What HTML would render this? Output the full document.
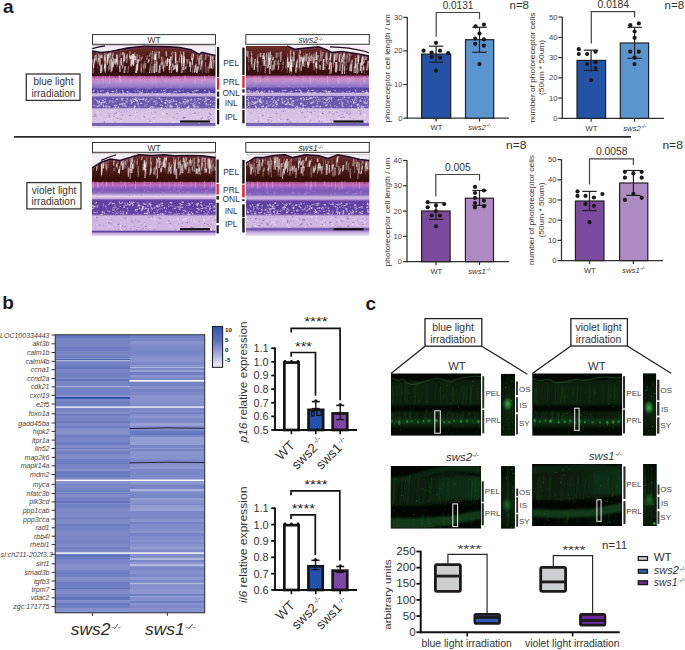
<!DOCTYPE html>
<html><head><meta charset="utf-8"><style>
html,body{margin:0;padding:0;background:#fff;}
body{width:685px;height:650px;overflow:hidden;}
svg{display:block;}
svg text{font-family:"Liberation Sans", sans-serif;}
</style></head><body>
<svg width="685" height="650" viewBox="0 0 685 650">
<defs><linearGradient id="h1" x1="0" y1="0" x2="0" y2="1"><stop offset="0.0000" stop-color="#6a2e2a"/><stop offset="0.1273" stop-color="#56201c"/><stop offset="0.2485" stop-color="#461612"/><stop offset="0.3212" stop-color="#360e0a"/><stop offset="0.3636" stop-color="#3a0e10"/><stop offset="0.3758" stop-color="#a85090"/><stop offset="0.4061" stop-color="#cc88c4"/><stop offset="0.4424" stop-color="#b890d0"/><stop offset="0.4788" stop-color="#9c80c8"/><stop offset="0.5091" stop-color="#8870c0"/><stop offset="0.5333" stop-color="#5a46a4"/><stop offset="0.5697" stop-color="#5a46a4"/><stop offset="0.5879" stop-color="#d0b4dc"/><stop offset="0.6121" stop-color="#c0acdc"/><stop offset="0.6242" stop-color="#6a58ac"/><stop offset="0.7515" stop-color="#6c5aae"/><stop offset="0.7697" stop-color="#d4bee2"/><stop offset="0.9333" stop-color="#d8c4e4"/><stop offset="0.9455" stop-color="#7060ac"/><stop offset="0.9697" stop-color="#7a68b0"/><stop offset="0.9818" stop-color="#e0d6ec"/><stop offset="1.0000" stop-color="#ece6f2"/></linearGradient><linearGradient id="h2" x1="0" y1="0" x2="0" y2="1"><stop offset="0.0000" stop-color="#6a2e2a"/><stop offset="0.1220" stop-color="#56201c"/><stop offset="0.2439" stop-color="#461612"/><stop offset="0.3171" stop-color="#360e0a"/><stop offset="0.3537" stop-color="#3a0e10"/><stop offset="0.3659" stop-color="#a85090"/><stop offset="0.3963" stop-color="#cc88c4"/><stop offset="0.4329" stop-color="#b890d0"/><stop offset="0.4695" stop-color="#9c80c8"/><stop offset="0.5000" stop-color="#8870c0"/><stop offset="0.5183" stop-color="#5a46a4"/><stop offset="0.5610" stop-color="#5a46a4"/><stop offset="0.5793" stop-color="#d0b4dc"/><stop offset="0.6037" stop-color="#c0acdc"/><stop offset="0.6159" stop-color="#6a58ac"/><stop offset="0.7500" stop-color="#6c5aae"/><stop offset="0.7683" stop-color="#d4bee2"/><stop offset="0.9329" stop-color="#d8c4e4"/><stop offset="0.9451" stop-color="#7060ac"/><stop offset="0.9695" stop-color="#7a68b0"/><stop offset="0.9817" stop-color="#e0d6ec"/><stop offset="1.0000" stop-color="#ece6f2"/></linearGradient><linearGradient id="h3" x1="0" y1="0" x2="0" y2="1"><stop offset="0.0000" stop-color="#6a2e2a"/><stop offset="0.1371" stop-color="#56201c"/><stop offset="0.2464" stop-color="#461612"/><stop offset="0.3070" stop-color="#360e0a"/><stop offset="0.3374" stop-color="#3a0e10"/><stop offset="0.3495" stop-color="#a85090"/><stop offset="0.3799" stop-color="#c070c0"/><stop offset="0.4102" stop-color="#9060c0"/><stop offset="0.4405" stop-color="#7a58b8"/><stop offset="0.4769" stop-color="#8a70c0"/><stop offset="0.5012" stop-color="#c8b0dc"/><stop offset="0.5194" stop-color="#e4d0ec"/><stop offset="0.5437" stop-color="#c8a8dc"/><stop offset="0.5619" stop-color="#6a4aa8"/><stop offset="0.5801" stop-color="#5e40a0"/><stop offset="0.7318" stop-color="#6242a2"/><stop offset="0.7561" stop-color="#d0b6e0"/><stop offset="0.9260" stop-color="#d0b6e0"/><stop offset="0.9442" stop-color="#5e44a0"/><stop offset="0.9684" stop-color="#c4a8dc"/><stop offset="1.0000" stop-color="#ece6f2"/></linearGradient><linearGradient id="h4" x1="0" y1="0" x2="0" y2="1"><stop offset="0.0000" stop-color="#6a2e2a"/><stop offset="0.1320" stop-color="#56201c"/><stop offset="0.2421" stop-color="#461612"/><stop offset="0.3032" stop-color="#360e0a"/><stop offset="0.3337" stop-color="#3a0e10"/><stop offset="0.3460" stop-color="#a85090"/><stop offset="0.3765" stop-color="#c070c0"/><stop offset="0.4132" stop-color="#9060c0"/><stop offset="0.4499" stop-color="#7a58b8"/><stop offset="0.4988" stop-color="#8a70c0"/><stop offset="0.5232" stop-color="#d0b8e0"/><stop offset="0.5477" stop-color="#c8a8dc"/><stop offset="0.5721" stop-color="#6a4aa8"/><stop offset="0.5905" stop-color="#5e40a0"/><stop offset="0.7311" stop-color="#6242a2"/><stop offset="0.7555" stop-color="#d0b6e0"/><stop offset="0.8900" stop-color="#d0b6e0"/><stop offset="0.9144" stop-color="#5e44a0"/><stop offset="0.9511" stop-color="#c4a8dc"/><stop offset="1.0000" stop-color="#ece6f2"/></linearGradient><linearGradient id="cbar" x1="0" y1="0" x2="0" y2="1"><stop offset="0" stop-color="#2c54ae"/><stop offset="0.35" stop-color="#5b72c0"/><stop offset="0.7" stop-color="#a8b2de"/><stop offset="1" stop-color="#f6f6fc"/></linearGradient><filter id="gb1" x="-10%" y="-10%" width="120%" height="120%"><feGaussianBlur stdDeviation="1.2"/></filter><filter id="gb2" x="-50%" y="-50%" width="200%" height="200%"><feGaussianBlur stdDeviation="0.8"/></filter><linearGradient id="brg" x1="0" y1="0" x2="1" y2="0"><stop offset="0" stop-color="#143a1c" stop-opacity="0"/><stop offset="0.4" stop-color="#143a1c" stop-opacity="0.5"/><stop offset="1" stop-color="#163e1e" stop-opacity="0.6"/></linearGradient><radialGradient id="blob"><stop offset="0" stop-color="#4ab050" stop-opacity="0.95"/><stop offset="0.5" stop-color="#2a8a34" stop-opacity="0.7"/><stop offset="1" stop-color="#1a5a20" stop-opacity="0"/></radialGradient><radialGradient id="blobd"><stop offset="0" stop-color="#2a7a34" stop-opacity="0.8"/><stop offset="0.6" stop-color="#1a5a24" stop-opacity="0.5"/><stop offset="1" stop-color="#0e3a14" stop-opacity="0"/></radialGradient><radialGradient id="dotg"><stop offset="0" stop-color="#50c058" stop-opacity="1"/><stop offset="0.6" stop-color="#2a8a30" stop-opacity="0.7"/><stop offset="1" stop-color="#1a5a20" stop-opacity="0"/></radialGradient><clipPath id="clp1"><rect x="391.0" y="373.5" width="90.00" height="62.10"/></clipPath><clipPath id="clp2"><rect x="532.3" y="373.5" width="89.70" height="62.10"/></clipPath><clipPath id="clp3"><rect x="390.8" y="466.0" width="90.20" height="62.50"/></clipPath><clipPath id="clp4"><rect x="532.1" y="464.0" width="89.90" height="62.00"/></clipPath><clipPath id="clp5"><rect x="501.0" y="373.9" width="14.00" height="61.70"/></clipPath><linearGradient id="cg41" x1="0" y1="0" x2="0" y2="1"><stop offset="0" stop-color="#020602"/><stop offset="0.3" stop-color="#0a1a0c"/><stop offset="0.6" stop-color="#0c200e"/><stop offset="1" stop-color="#081408"/></linearGradient><clipPath id="clp6"><rect x="643.0" y="373.5" width="13.10" height="62.10"/></clipPath><linearGradient id="cg42" x1="0" y1="0" x2="0" y2="1"><stop offset="0" stop-color="#020602"/><stop offset="0.3" stop-color="#0a1a0c"/><stop offset="0.6" stop-color="#0c200e"/><stop offset="1" stop-color="#081408"/></linearGradient><clipPath id="clp7"><rect x="501.1" y="466.2" width="13.70" height="62.30"/></clipPath><linearGradient id="cg43" x1="0" y1="0" x2="0" y2="1"><stop offset="0" stop-color="#020602"/><stop offset="0.3" stop-color="#0a1a0c"/><stop offset="0.6" stop-color="#0c200e"/><stop offset="1" stop-color="#081408"/></linearGradient><clipPath id="clp8"><rect x="643.2" y="464.0" width="13.40" height="62.00"/></clipPath><linearGradient id="cg44" x1="0" y1="0" x2="0" y2="1"><stop offset="0" stop-color="#020602"/><stop offset="0.3" stop-color="#0a1a0c"/><stop offset="0.6" stop-color="#0c200e"/><stop offset="1" stop-color="#081408"/></linearGradient></defs>
<rect width="685" height="650" fill="#fff"/>
<text x="3.00" y="13.40" font-size="19" fill="#1a1a1a" font-weight="bold" >a</text>
<text x="2.20" y="309.20" font-size="19" fill="#1a1a1a" font-weight="bold" >b</text>
<text x="365.40" y="309.50" font-size="19" fill="#1a1a1a" font-weight="bold" >c</text>
<line x1="14.00" y1="136.80" x2="631.00" y2="136.80" stroke="#2a2a2a" stroke-width="1.8" />
<rect x="92.00" y="45.50" width="123.50" height="82.50" fill="url(#h1)" />
<path d="M131.6 53.3L132.6 53.3L132.3 61.5L131.3 61.5zM162.6 57.1L163.5 57.1L163.7 68.0L162.8 68.0zM170.1 56.8L170.9 56.8L169.8 64.2L169.0 64.2zM117.5 53.5L118.2 53.5L117.0 59.2L116.3 59.2zM161.8 61.9L162.9 61.9L162.8 65.6L161.7 65.6zM153.2 53.8L153.7 53.8L152.9 59.5L152.4 59.5zM175.5 61.7L176.5 61.7L175.5 66.6L174.5 66.6zM208.7 64.2L210.2 64.2L209.0 73.0L207.5 73.0zM201.5 58.3L203.3 58.3L202.8 66.0L201.0 66.0zM173.6 65.3L174.7 65.3L174.0 70.2L173.0 70.2zM131.1 56.6L132.6 56.6L131.8 65.9L130.2 65.9zM200.0 66.3L201.2 66.3L200.2 71.4L199.0 71.4zM207.3 66.1L208.4 66.1L208.7 73.0L207.6 73.0zM97.0 59.7L97.7 59.7L97.8 68.8L97.2 68.8zM154.4 51.6L156.0 51.6L156.0 59.7L154.4 59.7zM163.7 61.3L164.4 61.3L163.2 66.8L162.5 66.8zM119.6 52.6L121.2 52.6L120.5 57.5L119.0 57.5zM141.1 57.1L141.6 57.1L141.8 67.2L141.3 67.2z" fill="#f4eef0" opacity="0.3"/>
<path d="M99.1 58.9L99.7 58.9L98.6 62.2L98.0 62.2zM171.1 66.4L172.6 66.4L172.0 73.0L170.6 73.0zM206.6 66.3L207.4 66.3L206.6 73.0L205.8 73.0zM193.0 54.3L194.4 54.3L193.5 59.3L192.2 59.3zM111.7 57.7L112.7 57.7L111.8 64.8L110.9 64.8zM180.3 51.3L181.3 51.3L180.1 58.7L179.1 58.7zM100.1 64.4L101.9 64.4L101.6 71.0L99.8 71.0zM98.2 54.1L99.1 54.1L99.1 59.6L98.2 59.6zM129.9 56.5L131.1 56.5L130.6 59.5L129.4 59.5zM110.0 54.9L110.5 54.9L110.3 63.9L109.7 63.9zM92.4 58.6L93.4 58.6L92.4 65.2L91.5 65.2zM205.3 62.1L206.3 62.1L205.7 72.3L204.7 72.3zM214.2 60.1L214.7 60.1L214.0 66.0L213.4 66.0zM205.3 53.0L206.9 53.0L206.2 59.8L204.6 59.8zM211.4 55.0L212.5 55.0L212.1 63.3L211.1 63.3zM173.4 65.7L175.2 65.7L174.4 69.9L172.5 69.9zM109.4 51.8L111.1 51.8L111.3 55.3L109.6 55.3zM181.6 66.5L183.4 66.5L182.5 73.0L180.7 73.0zM183.3 51.5L184.2 51.5L183.6 59.8L182.7 59.8zM112.7 51.0L113.4 51.0L113.7 56.3L113.0 56.3zM178.8 57.9L180.2 57.9L180.0 62.8L178.6 62.8zM110.8 64.7L112.6 64.7L112.1 72.3L110.2 72.3zM164.9 60.6L165.7 60.6L164.7 65.4L163.9 65.4zM112.0 61.8L113.9 61.8L113.1 68.1L111.3 68.1zM130.2 59.8L132.1 59.8L132.3 65.6L130.4 65.6zM137.4 58.8L139.1 58.8L138.8 63.0L137.0 63.0zM165.3 59.5L166.6 59.5L166.1 67.5L164.8 67.5zM144.1 61.2L145.4 61.2L144.3 67.8L142.9 67.8zM149.9 52.7L151.0 52.7L149.9 56.7L148.8 56.7zM154.6 51.8L155.2 51.8L155.6 58.9L154.9 58.9zM104.8 66.4L105.7 66.4L105.7 73.0L104.9 73.0zM171.9 51.3L172.9 51.3L171.8 54.4L170.8 54.4zM160.8 56.4L162.3 56.4L162.6 64.6L161.1 64.6zM183.3 56.1L185.0 56.1L184.2 66.1L182.4 66.1zM200.3 54.7L201.9 54.7L201.9 59.2L200.2 59.2zM110.9 53.4L111.6 53.4L111.3 58.4L110.5 58.4z" fill="#f4eef0" opacity="0.5"/>
<path d="M143.9 63.8L145.7 63.8L145.5 67.8L143.7 67.8zM181.2 55.5L182.8 55.5L182.2 66.3L180.7 66.3zM94.8 58.2L96.3 58.2L95.2 62.5L93.7 62.5zM135.9 64.7L136.7 64.7L135.8 73.0L135.0 73.0zM120.5 58.5L121.6 58.5L120.4 66.2L119.3 66.2zM122.9 56.4L124.7 56.4L124.9 62.3L123.0 62.3zM149.0 58.5L149.9 58.5L149.2 62.2L148.3 62.2zM156.0 51.3L157.6 51.3L156.4 57.8L154.8 57.8zM160.4 65.6L161.5 65.6L160.5 73.0L159.4 73.0zM110.9 62.1L112.7 62.1L113.0 70.4L111.1 70.4zM143.6 65.1L145.4 65.1L144.5 73.0L142.7 73.0zM124.8 53.0L125.5 53.0L124.5 60.2L123.7 60.2zM141.5 56.4L143.0 56.4L141.9 59.8L140.4 59.8zM116.6 58.8L117.6 58.8L116.6 61.9L115.5 61.9zM97.1 51.3L98.3 51.3L98.1 56.8L96.8 56.8zM172.6 52.0L173.5 52.0L172.4 60.9L171.6 60.9zM155.2 58.2L156.0 58.2L156.2 64.9L155.4 64.9zM109.3 59.1L110.5 59.1L110.7 69.7L109.4 69.7zM202.8 66.4L203.5 66.4L202.6 73.0L201.9 73.0zM133.8 52.4L135.6 52.4L135.3 57.3L133.5 57.3zM99.6 55.3L101.0 55.3L100.6 66.0L99.2 66.0zM197.5 54.3L198.7 54.3L198.1 59.5L197.0 59.5zM193.0 64.3L193.7 64.3L192.7 73.0L191.9 73.0zM170.9 55.7L172.4 55.7L172.2 59.7L170.8 59.7zM200.1 58.4L201.6 58.4L201.9 63.2L200.4 63.2zM210.6 55.8L212.2 55.8L211.3 65.4L209.8 65.4zM128.1 65.8L129.2 65.8L128.3 72.7L127.2 72.7zM96.3 52.0L98.0 52.0L98.0 62.3L96.3 62.3zM183.5 64.1L184.4 64.1L184.5 72.4L183.6 72.4zM161.3 56.8L162.2 56.8L161.4 65.7L160.5 65.7zM123.2 60.3L124.1 60.3L123.0 68.5L122.0 68.5zM175.0 53.9L176.2 53.9L176.3 59.4L175.0 59.4zM136.5 54.1L138.3 54.1L137.1 62.9L135.3 62.9zM202.6 60.6L203.4 60.6L203.5 70.2L202.6 70.2zM141.5 64.1L142.5 64.1L141.7 73.0L140.6 73.0zM155.3 56.9L157.1 56.9L157.1 60.9L155.3 60.9zM152.2 65.8L154.0 65.8L154.0 73.0L152.2 73.0zM100.0 56.4L100.9 56.4L101.1 65.5L100.2 65.5zM153.9 55.9L155.7 55.9L154.8 59.2L152.9 59.2zM182.9 51.7L184.8 51.7L184.6 61.3L182.8 61.3zM119.4 60.0L120.6 60.0L120.4 67.8L119.2 67.8zM108.5 65.5L109.9 65.5L108.8 70.5L107.4 70.5zM198.6 63.1L200.0 63.1L198.8 69.3L197.4 69.3zM177.0 64.1L178.1 64.1L177.8 72.8L176.7 72.8zM199.6 51.2L201.5 51.2L201.4 56.3L199.6 56.3zM105.0 65.4L105.6 65.4L104.5 71.2L103.9 71.2zM203.8 65.6L204.4 65.6L203.4 69.5L202.8 69.5zM104.2 52.5L105.3 52.5L104.6 61.6L103.5 61.6zM197.5 52.4L198.2 52.4L197.0 62.0L196.3 62.0zM116.0 60.9L116.5 60.9L116.0 64.7L115.4 64.7zM162.2 62.6L163.9 62.6L163.9 69.0L162.2 69.0z" fill="#f4eef0" opacity="0.4"/>
<path d="M109.6 52.8L111.0 52.8L110.0 58.3L108.7 58.3zM110.6 58.6L111.9 58.6L111.9 61.9L110.6 61.9zM194.7 65.6L196.2 65.6L195.1 72.4L193.6 72.4zM137.2 59.8L138.5 59.8L138.1 70.4L136.8 70.4zM174.7 51.8L176.3 51.8L176.5 62.0L174.9 62.0zM123.9 56.7L125.5 56.7L125.2 61.0L123.6 61.0zM95.4 55.3L96.5 55.3L96.9 60.4L95.7 60.4zM171.9 63.4L173.5 63.4L173.7 67.1L172.1 67.1zM183.7 58.4L185.4 58.4L184.7 62.8L183.1 62.8zM107.5 53.3L109.2 53.3L108.2 63.6L106.6 63.6zM186.4 58.9L187.6 58.9L187.8 66.4L186.7 66.4zM166.9 58.8L168.2 58.8L167.7 65.9L166.4 65.9zM100.9 54.7L102.6 54.7L102.7 58.3L100.9 58.3zM104.8 55.1L105.5 55.1L104.7 58.4L104.0 58.4zM100.9 65.5L102.6 65.5L101.5 73.0L99.8 73.0zM212.4 53.3L214.1 53.3L213.0 62.1L211.3 62.1zM201.1 60.7L202.3 60.7L201.3 69.6L200.1 69.6zM151.8 51.1L153.1 51.1L152.7 60.4L151.4 60.4zM99.4 55.2L100.3 55.2L100.2 63.5L99.3 63.5zM130.7 64.0L131.3 64.0L131.5 67.0L130.8 67.0zM181.6 58.0L182.1 58.0L181.4 67.0L180.8 67.0zM155.9 61.6L157.5 61.6L157.3 72.1L155.7 72.1zM147.9 59.5L149.7 59.5L148.9 62.9L147.1 62.9zM129.6 51.3L130.5 51.3L129.9 58.3L129.1 58.3zM175.5 54.1L176.3 54.1L175.9 63.4L175.1 63.4zM201.7 51.5L202.3 51.5L202.3 57.8L201.7 57.8zM130.7 55.3L132.1 55.3L132.4 58.3L131.0 58.3zM190.2 62.4L191.1 62.4L190.9 72.0L189.9 72.0zM154.0 54.6L154.7 54.6L155.1 64.1L154.4 64.1zM197.9 58.0L198.6 58.0L198.9 63.0L198.2 63.0zM151.9 54.6L152.6 54.6L152.2 63.8L151.4 63.8zM196.8 66.4L198.7 66.4L197.8 73.0L195.9 73.0zM175.1 64.9L176.4 64.9L175.4 69.2L174.1 69.2zM213.1 59.9L213.9 59.9L213.4 65.8L212.6 65.8zM116.4 60.4L117.1 60.4L117.2 67.5L116.5 67.5zM188.4 59.1L189.2 59.1L189.6 64.2L188.8 64.2zM177.3 64.3L178.2 64.3L178.0 70.8L177.0 70.8zM176.7 60.8L178.0 60.8L176.9 69.4L175.6 69.4zM94.6 55.0L95.5 55.0L94.9 60.2L93.9 60.2zM145.4 63.0L146.2 63.0L145.8 68.8L145.0 68.8zM101.9 63.2L102.9 63.2L102.7 71.8L101.7 71.8zM120.6 58.1L122.0 58.1L122.0 65.4L120.6 65.4zM132.1 53.9L134.0 53.9L132.9 64.7L131.1 64.7zM104.4 57.0L105.5 57.0L105.5 67.8L104.4 67.8zM109.3 60.4L110.4 60.4L110.7 66.6L109.6 66.6z" fill="#f4eef0" opacity="0.7"/>
<path d="M175.2 57.6L176.1 57.6L175.7 63.1L174.7 63.1zM189.2 61.8L190.9 61.8L190.5 66.8L188.8 66.8zM199.1 55.9L200.2 55.9L199.9 64.4L198.8 64.4zM140.0 57.2L140.6 57.2L139.5 61.0L138.9 61.0zM192.1 62.5L192.6 62.5L192.0 67.3L191.5 67.3zM211.9 61.2L212.4 61.2L211.4 67.0L210.9 67.0zM113.1 58.3L114.3 58.3L113.6 67.1L112.4 67.1zM159.9 63.2L160.8 63.2L160.0 67.0L159.1 67.0zM118.9 65.8L120.5 65.8L120.9 71.9L119.2 71.9zM181.7 59.5L182.3 59.5L182.6 64.1L182.0 64.1zM126.5 54.8L127.6 54.8L126.7 60.1L125.5 60.1zM124.2 65.9L126.0 65.9L125.2 73.0L123.4 73.0zM104.8 64.0L106.3 64.0L106.1 71.4L104.6 71.4zM150.6 61.6L151.2 61.6L151.0 70.7L150.4 70.7zM211.6 65.5L213.5 65.5L213.6 68.7L211.7 68.7zM169.2 65.2L169.7 65.2L169.7 73.0L169.1 73.0zM183.7 57.4L184.7 57.4L184.1 63.7L183.1 63.7zM105.7 52.1L106.5 52.1L105.9 59.3L105.1 59.3zM165.5 51.2L166.9 51.2L167.2 56.6L165.8 56.6zM133.5 55.2L135.0 55.2L134.2 65.9L132.7 65.9zM207.4 51.4L209.2 51.4L209.5 56.2L207.7 56.2zM139.3 54.9L140.0 54.9L140.3 61.3L139.6 61.3zM122.2 52.0L124.1 52.0L123.4 55.3L121.6 55.3zM106.6 53.9L107.6 53.9L107.9 64.7L106.9 64.7zM99.7 52.6L100.4 52.6L100.2 58.7L99.6 58.7zM169.8 56.6L171.6 56.6L171.3 66.6L169.5 66.6zM122.4 65.0L123.2 65.0L122.7 68.4L121.8 68.4zM99.1 63.1L99.8 63.1L100.1 66.2L99.4 66.2zM92.8 64.1L93.9 64.1L93.9 73.0L92.8 73.0zM209.9 58.8L211.0 58.8L209.8 68.6L208.7 68.6zM185.2 66.2L186.8 66.2L186.4 69.2L184.8 69.2zM126.7 54.3L128.1 54.3L127.1 62.9L125.7 62.9zM117.2 55.1L118.9 55.1L118.4 65.3L116.6 65.3zM112.7 57.8L113.9 57.8L112.9 67.0L111.7 67.0zM140.8 63.3L141.9 63.3L141.8 71.8L140.6 71.8z" fill="#f4eef0" opacity="0.6"/>
<path d="M107.8 54.8L108.9 54.8L107.9 61.0L106.7 61.0zM159.2 64.7L160.3 64.7L159.5 73.0L158.4 73.0zM104.4 56.6L105.1 56.6L104.9 59.8L104.2 59.8zM193.4 53.5L194.1 53.5L193.7 56.7L193.0 56.7zM158.4 51.4L159.9 51.4L160.1 58.6L158.6 58.6zM132.3 54.5L133.9 54.5L134.1 63.9L132.5 63.9zM116.1 54.2L117.2 54.2L117.4 62.2L116.2 62.2zM210.8 57.1L211.6 57.1L211.5 63.3L210.8 63.3zM210.7 61.1L212.5 61.1L212.0 68.3L210.2 68.3zM123.7 57.5L124.9 57.5L124.2 61.5L123.1 61.5zM163.3 65.0L164.6 65.0L164.2 71.4L162.9 71.4zM150.5 65.6L151.3 65.6L151.6 73.0L150.8 73.0zM168.3 58.9L170.2 58.9L170.2 62.5L168.4 62.5zM192.2 57.7L193.4 57.7L192.8 64.7L191.6 64.7zM176.1 66.2L177.5 66.2L177.4 72.0L176.0 72.0zM123.3 53.5L124.7 53.5L124.9 57.2L123.5 57.2zM183.8 61.2L184.7 61.2L184.2 69.9L183.2 69.9zM153.7 63.9L155.4 63.9L155.2 73.0L153.4 73.0zM181.2 54.2L182.2 54.2L181.8 63.1L180.8 63.1zM147.0 55.2L148.3 55.2L147.4 59.8L146.1 59.8zM200.5 61.9L201.0 61.9L200.6 66.8L200.0 66.8zM104.4 63.9L105.3 63.9L104.5 69.2L103.6 69.2zM154.5 53.9L156.1 53.9L156.3 59.9L154.7 59.9zM112.5 53.5L113.3 53.5L112.9 58.2L112.1 58.2zM209.9 54.2L211.0 54.2L211.2 60.1L210.0 60.1zM98.0 58.3L99.0 58.3L98.1 64.3L97.1 64.3zM150.1 63.7L151.0 63.7L149.8 73.0L148.9 73.0zM143.8 63.7L144.6 63.7L144.1 70.0L143.4 70.0zM93.8 59.5L95.2 59.5L94.1 67.7L92.8 67.7zM105.3 58.6L106.0 58.6L105.1 68.0L104.4 68.0zM191.8 53.2L192.6 53.2L191.8 60.2L190.9 60.2zM167.3 57.7L168.2 57.7L167.2 64.8L166.4 64.8zM129.8 55.7L131.3 55.7L131.4 59.0L129.9 59.0zM169.1 61.7L170.8 61.7L170.4 70.1L168.7 70.1zM117.9 60.7L118.5 60.7L117.5 64.3L117.0 64.3zM136.4 63.7L138.2 63.7L137.1 73.0L135.4 73.0zM195.7 63.6L196.6 63.6L196.4 71.7L195.5 71.7zM114.6 58.7L116.4 58.7L115.6 64.4L113.8 64.4zM134.6 56.1L136.2 56.1L136.0 60.3L134.5 60.3z" fill="#f4eef0" opacity="0.8"/>
<path d="M186.7 63.6h1.0v12.7h-1.0zM211.2 51.7h0.7v9.9h-0.7zM177.4 57.3h0.7v7.4h-0.7zM117.9 53.3h1.1v12.0h-1.1zM159.1 53.3h0.8v12.5h-0.8zM187.6 63.0h1.1v13.0h-1.1zM152.9 60.7h0.6v12.8h-0.6zM143.2 68.3h1.0v5.7h-1.0zM143.7 61.0h0.8v12.4h-0.8zM163.7 62.4h0.6v12.1h-0.6zM115.2 67.6h1.0v10.4h-1.0zM203.3 62.0h1.0v10.6h-1.0zM185.3 52.8h0.6v6.6h-0.6zM203.8 62.8h1.1v8.3h-1.1zM211.9 59.6h0.7v8.7h-0.7zM118.0 53.7h0.6v5.1h-0.6zM98.1 64.9h1.1v11.4h-1.1z" fill="#3a1210" opacity="0.6"/>
<path d="M147.5 56.6h0.7v10.7h-0.7zM187.7 63.8h0.8v10.7h-0.8zM114.4 62.8h0.8v12.0h-0.8zM207.0 60.3h0.9v5.9h-0.9zM179.7 60.2h1.1v10.8h-1.1zM142.2 68.1h1.0v6.9h-1.0zM125.6 58.2h0.9v5.1h-0.9zM207.0 60.5h1.1v7.0h-1.1zM202.6 65.3h1.1v6.5h-1.1zM116.1 63.5h1.0v9.8h-1.0zM152.3 52.1h0.7v9.2h-0.7zM150.0 60.5h0.7v11.9h-0.7zM164.9 63.3h1.0v6.9h-1.0zM144.7 62.6h0.6v13.4h-0.6z" fill="#3a1210" opacity="0.5"/>
<path d="M147.7 62.2h1.0v8.7h-1.0zM205.6 66.4h1.1v5.5h-1.1zM141.4 60.1h0.9v7.4h-0.9zM96.8 53.1h0.9v12.3h-0.9zM146.6 51.3h1.0v8.5h-1.0zM102.3 62.3h0.9v11.4h-0.9z" fill="#3a1210" opacity="0.7"/>
<path d="M185.3 53.2h0.8v13.9h-0.8zM187.9 53.5h1.0v12.5h-1.0zM93.4 68.1h0.8v9.9h-0.8zM212.1 60.2h1.1v9.4h-1.1zM200.3 60.8h0.8v5.4h-0.8z" fill="#3a1210" opacity="0.3"/>
<path d="M149.4 61.1h1.2v7.0h-1.2zM170.1 65.7h0.9v12.3h-0.9zM124.7 57.8h0.9v7.3h-0.9zM92.3 64.0h0.7v7.5h-0.7zM150.6 58.7h1.0v10.7h-1.0zM109.5 55.2h0.8v12.0h-0.8zM200.0 61.0h0.7v7.4h-0.7zM149.2 61.1h1.1v11.0h-1.1zM95.5 62.0h1.2v11.1h-1.2zM179.8 62.3h1.1v8.0h-1.1zM172.1 65.3h0.8v8.0h-0.8zM160.7 55.6h0.9v7.7h-0.9zM106.9 68.4h1.1v5.8h-1.1zM94.2 63.9h1.0v7.2h-1.0z" fill="#3a1210" opacity="0.4"/>
<path d="M123.1 75.0h0.6v7.3h-0.6zM192.3 75.0h0.6v4.5h-0.6zM178.5 75.9h0.7v4.9h-0.7zM174.0 75.6h0.7v5.7h-0.7zM139.8 75.6h0.9v5.3h-0.9zM201.3 75.5h1.1v8.5h-1.1z" fill="#e0a0d8" opacity="0.5"/>
<path d="M176.1 75.4h0.8v5.3h-0.8zM149.6 75.8h0.7v8.8h-0.7zM105.0 75.4h0.7v7.7h-0.7z" fill="#e8c8ec" opacity="0.2"/>
<path d="M197.5 75.5h0.8v3.4h-0.8zM161.4 75.7h1.2v3.4h-1.2zM109.2 75.1h0.7v9.0h-0.7zM102.7 75.2h0.7v7.6h-0.7zM194.6 76.0h1.0v7.7h-1.0zM120.2 75.8h1.1v6.6h-1.1zM185.3 75.8h1.0v3.8h-1.0z" fill="#e8c8ec" opacity="0.4"/>
<path d="M190.2 75.5h0.9v7.7h-0.9zM161.5 75.7h0.9v7.7h-0.9z" fill="#d070b8" opacity="0.4"/>
<path d="M165.5 75.1h0.6v7.4h-0.6zM151.2 75.9h0.6v4.9h-0.6zM119.0 75.1h1.1v8.2h-1.1zM205.3 75.9h1.1v4.7h-1.1zM97.0 75.6h0.7v4.7h-0.7z" fill="#e0a0d8" opacity="0.4"/>
<path d="M129.8 75.6h0.8v8.3h-0.8zM183.9 75.1h1.0v4.4h-1.0zM115.6 75.8h0.8v7.2h-0.8zM126.4 75.4h0.7v3.6h-0.7zM138.3 76.0h0.8v3.2h-0.8zM154.9 75.4h1.2v7.7h-1.2zM211.9 75.9h0.9v6.8h-0.9zM152.4 76.0h0.9v8.5h-0.9z" fill="#e8c8ec" opacity="0.3"/>
<path d="M186.5 75.8h1.0v5.7h-1.0zM203.9 75.7h0.9v3.5h-0.9zM178.8 75.1h0.6v6.5h-0.6zM187.5 75.1h1.2v4.5h-1.2zM128.6 75.4h0.7v7.5h-0.7zM124.6 75.6h0.8v3.9h-0.8z" fill="#d070b8" opacity="0.3"/>
<path d="M143.8 75.4h1.1v7.9h-1.1zM123.8 75.2h0.9v4.9h-0.9zM209.3 75.1h0.6v5.3h-0.6zM133.6 75.2h1.0v5.9h-1.0zM109.2 76.0h0.9v8.0h-0.9z" fill="#e0a0d8" opacity="0.3"/>
<path d="M208.0 75.1h1.0v3.4h-1.0zM182.2 75.8h1.1v5.7h-1.1zM127.1 75.7h0.8v4.2h-0.8zM163.4 75.8h1.0v3.4h-1.0z" fill="#d070b8" opacity="0.5"/>
<path d="M119.2 76.0h0.8v4.5h-0.8zM204.2 75.5h0.8v5.1h-0.8z" fill="#e8c8ec" opacity="0.5"/>
<path d="M112.6 75.5h1.1v4.9h-1.1z" fill="#e0a0d8" opacity="0.2"/>
<path d="M114.8 93.2h1.2v0.9h-1.2zM106.8 92.7h1.6v1.4h-1.6zM139.6 91.4h1.6v1.2h-1.6zM207.3 93.0h1.1v1.0h-1.1zM161.8 92.4h1.0v1.3h-1.0zM135.2 93.4h1.0v1.2h-1.0zM100.2 93.4h1.2v0.8h-1.2zM163.8 91.7h1.8v1.2h-1.8zM188.0 93.4h1.4v1.1h-1.4zM139.1 90.9h1.6v1.4h-1.6zM175.9 91.3h1.2v1.2h-1.2zM208.1 92.5h1.3v0.9h-1.3zM151.6 91.5h1.4v1.5h-1.4zM93.5 93.0h1.1v1.3h-1.1zM191.9 90.9h1.4v1.5h-1.4zM160.8 90.0h1.3v1.1h-1.3zM117.5 93.8h1.3v1.0h-1.3zM139.1 92.5h1.4v1.0h-1.4zM96.9 90.2h1.0v1.0h-1.0z" fill="#e8dcf0" opacity="0.6"/>
<path d="M164.9 89.5h1.3v1.1h-1.3zM208.9 91.7h1.3v1.2h-1.3zM122.7 93.2h0.8v0.9h-0.8zM115.9 89.6h1.4v1.2h-1.4zM122.5 91.4h1.4v1.1h-1.4zM175.1 90.7h1.3v1.4h-1.3zM121.8 89.9h1.3v1.4h-1.3zM182.5 90.2h1.1v1.0h-1.1zM148.1 92.8h1.1v1.1h-1.1zM146.4 90.3h1.1v0.9h-1.1zM186.8 91.9h1.8v1.2h-1.8zM193.2 91.8h0.9v1.4h-0.9zM169.2 92.2h1.2v1.5h-1.2zM97.2 91.4h1.6v1.0h-1.6zM92.5 90.9h1.6v1.2h-1.6zM116.1 91.7h1.4v1.0h-1.4zM112.8 90.7h0.9v1.4h-0.9zM115.4 90.8h1.0v0.8h-1.0zM108.0 92.7h1.1v1.4h-1.1zM102.5 90.3h1.7v1.0h-1.7zM197.5 90.1h1.1v0.8h-1.1zM173.3 91.1h1.2v1.3h-1.2z" fill="#e8dcf0" opacity="0.7"/>
<path d="M179.1 91.2h1.6v0.8h-1.6zM145.4 93.9h1.6v1.4h-1.6zM210.8 93.0h1.7v1.2h-1.7zM167.5 93.3h1.6v1.2h-1.6zM183.1 92.9h1.3v1.3h-1.3zM204.1 90.1h1.7v0.8h-1.7zM163.2 89.9h1.7v1.0h-1.7zM134.7 91.5h1.2v0.8h-1.2zM97.4 93.7h1.7v1.0h-1.7zM194.3 90.1h1.2v1.4h-1.2zM137.1 90.6h1.4v0.9h-1.4zM107.0 91.8h1.3v1.0h-1.3zM100.1 90.9h1.0v0.9h-1.0zM126.6 91.3h1.7v1.3h-1.7z" fill="#e8dcf0" opacity="0.8"/>
<path d="M94.5 93.9h1.0v0.9h-1.0zM107.1 91.7h1.3v1.0h-1.3zM141.7 90.1h1.4v1.4h-1.4zM100.5 91.4h1.3v0.8h-1.3zM200.3 93.5h0.8v1.2h-0.8zM122.7 91.8h1.2v1.5h-1.2zM154.9 90.7h1.3v1.2h-1.3zM107.2 90.1h1.1v1.1h-1.1zM159.1 92.3h1.3v1.0h-1.3zM126.9 93.9h1.1v1.3h-1.1zM192.5 94.0h1.7v1.1h-1.7zM127.5 91.8h1.3v0.9h-1.3zM157.1 94.0h1.4v1.1h-1.4zM111.2 92.9h0.9v0.9h-0.9zM163.4 93.8h1.2v1.2h-1.2zM208.3 90.6h1.2v1.3h-1.2zM129.9 93.4h1.3v1.4h-1.3zM113.2 91.1h1.0v1.5h-1.0zM100.0 90.1h1.6v1.0h-1.6zM133.8 90.2h1.5v0.9h-1.5zM105.3 92.0h1.2v1.2h-1.2zM122.4 93.3h1.2v1.2h-1.2z" fill="#e8dcf0" opacity="0.5"/>
<path d="M178.1 90.0h1.7v1.3h-1.7zM119.1 91.8h1.2v1.2h-1.2zM156.0 93.2h1.4v1.4h-1.4zM106.1 93.6h1.5v1.3h-1.5z" fill="#e8dcf0" opacity="0.4"/>
<path d="M162.2 92.9h1.0v1.4h-1.0zM195.8 89.7h1.3v1.5h-1.3zM129.4 92.4h0.9v1.2h-0.9zM145.9 92.8h0.9v1.0h-0.9zM194.7 93.8h1.0v1.1h-1.0zM93.3 89.7h1.4v1.1h-1.4zM141.1 92.0h1.4v1.4h-1.4zM156.9 93.2h1.0v1.0h-1.0zM111.5 91.1h1.5v1.1h-1.5z" fill="#e8dcf0" opacity="0.9"/>
<path d="M96.8 100.8h1.4v0.9h-1.4zM105.6 105.8h1.0v1.4h-1.0zM102.6 104.8h1.2v1.3h-1.2zM107.6 105.5h0.8v1.3h-0.8zM170.2 106.4h1.7v0.9h-1.7zM193.7 105.3h1.1v0.9h-1.1zM131.2 101.4h1.4v1.1h-1.4zM121.3 97.9h1.4v1.2h-1.4zM145.8 99.5h1.5v0.8h-1.5zM101.0 102.1h1.7v1.2h-1.7zM178.7 102.0h1.7v1.2h-1.7zM161.0 107.1h1.7v0.9h-1.7zM112.7 98.2h1.1v1.0h-1.1zM165.9 106.6h1.4v0.9h-1.4zM210.0 103.8h0.9v1.4h-0.9zM133.8 98.9h1.0v1.2h-1.0zM170.4 107.2h1.0v1.0h-1.0zM161.1 107.9h0.9v1.2h-0.9zM132.3 98.5h1.0v0.9h-1.0zM160.0 104.4h1.4v1.0h-1.4zM186.8 101.3h1.8v1.0h-1.8zM197.7 106.6h1.1v1.3h-1.1zM175.6 103.8h1.3v1.2h-1.3zM117.7 106.8h1.2v1.3h-1.2zM204.5 101.2h1.0v1.5h-1.0zM130.7 107.7h0.8v1.3h-0.8zM205.6 103.1h1.3v1.2h-1.3zM184.3 103.4h0.9v1.3h-0.9zM143.5 98.0h1.1v1.4h-1.1zM125.5 105.9h1.1v1.3h-1.1zM164.5 102.3h1.7v1.1h-1.7zM99.1 102.1h1.4v0.8h-1.4zM203.7 100.9h1.6v0.9h-1.6zM119.4 103.2h0.9v1.1h-0.9zM100.5 103.4h0.9v1.2h-0.9zM168.6 106.4h1.6v0.9h-1.6zM134.8 99.2h1.8v1.3h-1.8zM108.5 106.2h1.7v1.4h-1.7zM194.0 105.9h1.4v1.1h-1.4zM188.0 105.8h1.5v1.5h-1.5zM148.0 101.0h1.0v1.0h-1.0zM167.9 100.6h0.9v1.0h-0.9zM136.4 99.9h1.7v1.2h-1.7zM153.0 101.3h1.8v0.8h-1.8zM175.7 103.4h1.2v1.3h-1.2zM184.7 102.4h1.4v1.3h-1.4zM169.2 100.2h1.6v0.8h-1.6z" fill="#ece0f4" opacity="0.8"/>
<path d="M161.8 105.0h1.1v1.1h-1.1zM124.0 103.2h1.8v1.2h-1.8zM191.9 103.3h1.6v0.9h-1.6zM158.5 97.6h1.7v1.3h-1.7zM111.3 100.6h1.4v0.9h-1.4zM196.8 105.8h1.2v1.0h-1.2zM155.0 101.9h1.1v1.1h-1.1zM209.8 104.0h1.6v0.8h-1.6zM115.1 104.6h1.2v0.9h-1.2zM137.6 103.6h1.2v1.2h-1.2zM140.6 98.7h1.0v1.4h-1.0zM105.8 106.6h1.1v0.9h-1.1zM122.8 102.6h1.4v1.0h-1.4zM193.7 101.6h1.0v1.5h-1.0zM190.1 99.4h1.4v1.0h-1.4zM138.7 99.0h1.7v1.2h-1.7zM148.3 107.9h0.8v0.9h-0.8zM125.4 100.4h1.3v1.0h-1.3zM156.7 107.5h1.8v0.8h-1.8zM186.4 106.7h1.6v1.2h-1.6zM175.5 100.7h1.6v1.3h-1.6zM159.5 107.3h1.1v1.4h-1.1zM103.0 106.0h1.2v1.2h-1.2zM186.6 107.8h1.3v1.0h-1.3zM207.3 98.9h0.8v1.1h-0.8zM103.0 97.8h0.9v0.8h-0.9zM187.3 100.0h1.8v1.1h-1.8zM145.1 99.9h1.0v1.3h-1.0zM93.3 104.7h1.5v1.2h-1.5zM142.2 99.0h1.8v0.8h-1.8zM98.1 104.8h1.1v1.3h-1.1zM154.5 103.7h1.8v1.0h-1.8zM183.1 101.5h1.5v1.1h-1.5zM167.1 104.6h1.1v1.2h-1.1zM121.2 99.3h1.6v1.1h-1.6zM150.6 105.9h1.6v0.9h-1.6zM171.4 106.0h1.2v1.1h-1.2zM150.0 106.8h1.2v1.1h-1.2zM151.1 98.1h1.5v1.1h-1.5zM130.3 100.2h1.7v1.2h-1.7zM196.9 100.2h1.0v0.8h-1.0zM100.8 103.8h1.0v1.4h-1.0zM212.1 101.6h0.8v1.1h-0.8zM155.5 100.6h1.7v0.9h-1.7zM122.1 103.8h1.8v0.8h-1.8zM188.1 106.6h1.1v1.5h-1.1zM94.0 98.7h1.6v1.1h-1.6zM146.1 104.4h1.6v0.9h-1.6zM135.2 98.6h1.4v1.4h-1.4zM168.4 102.2h1.8v1.1h-1.8zM208.7 106.9h0.9v1.2h-0.9zM178.9 104.8h1.1v0.9h-1.1zM193.2 105.8h1.1v0.9h-1.1zM114.8 106.7h1.3v1.2h-1.3z" fill="#ece0f4" opacity="0.7"/>
<path d="M134.8 97.5h1.6v1.3h-1.6zM97.3 106.5h1.4v0.8h-1.4zM122.6 98.1h1.2v1.1h-1.2zM130.0 98.9h1.5v1.3h-1.5zM165.3 102.3h1.6v1.4h-1.6zM127.4 101.3h1.0v0.8h-1.0zM161.0 98.6h1.3v1.1h-1.3zM206.6 104.4h1.1v1.0h-1.1zM95.4 105.6h1.6v1.0h-1.6zM184.7 98.7h1.8v1.3h-1.8zM186.9 98.9h1.6v0.8h-1.6zM137.6 97.7h1.4v0.9h-1.4zM133.8 105.5h1.5v1.4h-1.5zM166.0 98.5h1.3v1.4h-1.3zM194.7 103.6h0.9v0.8h-0.9zM191.0 107.5h0.8v1.0h-0.8zM153.5 106.7h1.6v0.8h-1.6zM192.2 104.6h1.2v1.1h-1.2zM202.1 100.4h1.1v0.8h-1.1zM124.8 104.9h1.0v1.1h-1.0zM160.0 99.4h1.7v1.1h-1.7zM207.8 104.1h1.0v1.0h-1.0zM128.6 107.9h1.0v1.2h-1.0zM126.6 101.0h1.3v1.4h-1.3zM105.7 107.7h0.8v1.4h-0.8zM108.6 102.0h1.0v1.3h-1.0zM205.5 100.2h1.4v1.1h-1.4zM180.4 103.0h1.3v1.0h-1.3zM193.9 106.1h0.9v0.9h-0.9zM113.9 105.0h1.1v1.0h-1.1zM194.2 98.5h1.4v1.4h-1.4zM175.3 103.3h1.6v1.3h-1.6zM155.5 97.6h1.8v1.0h-1.8zM190.1 102.7h1.5v1.3h-1.5zM117.9 106.3h0.9v1.4h-0.9zM172.7 100.2h1.7v1.3h-1.7zM98.9 104.8h0.8v1.4h-0.8zM120.5 103.6h1.1v1.2h-1.1zM144.7 104.6h0.9v1.4h-0.9zM205.1 108.0h1.7v1.2h-1.7zM109.1 100.3h1.7v1.4h-1.7zM122.3 105.3h1.0v1.4h-1.0zM199.7 98.7h1.3v1.2h-1.3zM116.2 101.7h1.0v0.9h-1.0zM151.8 105.8h1.4v1.3h-1.4zM102.8 100.1h1.5v1.3h-1.5zM187.5 107.0h1.6v1.2h-1.6zM207.9 98.7h1.8v1.4h-1.8zM194.7 99.9h1.0v1.1h-1.0zM113.5 107.4h1.3v1.4h-1.3zM181.3 105.4h0.8v1.0h-0.8zM97.7 101.6h1.5v1.2h-1.5zM194.5 104.2h1.6v1.0h-1.6zM125.7 101.3h1.7v1.2h-1.7zM161.4 101.2h1.7v1.0h-1.7z" fill="#ece0f4" opacity="0.5"/>
<path d="M126.4 98.4h1.7v1.1h-1.7zM98.7 104.8h1.2v1.2h-1.2zM213.5 105.4h0.9v1.3h-0.9zM148.4 107.7h1.7v1.4h-1.7zM136.5 100.5h1.6v1.4h-1.6zM165.2 100.2h1.3v0.8h-1.3zM134.2 105.9h1.3v1.0h-1.3zM197.8 98.1h1.4v1.1h-1.4zM133.6 107.1h1.5v1.4h-1.5zM116.3 98.7h1.6v1.3h-1.6zM198.8 102.8h1.7v0.8h-1.7zM97.1 106.1h1.0v1.0h-1.0zM140.3 102.7h1.8v1.2h-1.8zM169.4 101.4h1.3v1.3h-1.3zM185.4 100.6h1.3v1.1h-1.3zM171.5 106.0h1.5v1.1h-1.5zM98.6 100.6h1.2v1.5h-1.2zM191.0 98.7h1.1v1.3h-1.1zM169.7 104.8h1.6v1.1h-1.6z" fill="#ece0f4" opacity="0.9"/>
<path d="M176.7 105.3h1.6v1.2h-1.6zM121.6 102.9h1.2v1.5h-1.2zM128.7 106.8h0.9v1.2h-0.9zM116.1 104.9h1.2v0.9h-1.2zM178.4 107.0h1.7v1.1h-1.7zM193.2 107.0h1.0v1.0h-1.0zM161.0 101.2h1.0v0.9h-1.0zM166.6 100.6h1.4v1.5h-1.4zM105.8 102.9h1.4v0.9h-1.4zM205.4 104.6h1.1v0.9h-1.1zM112.8 101.3h1.3v1.2h-1.3zM133.3 100.9h1.8v1.1h-1.8zM198.7 102.3h1.2v1.2h-1.2zM101.8 99.4h1.4v1.5h-1.4zM186.9 102.0h1.7v0.8h-1.7zM142.7 98.0h1.4v1.0h-1.4zM123.6 105.0h1.6v1.3h-1.6zM105.2 105.2h0.9v1.3h-0.9zM213.4 100.8h1.7v0.9h-1.7zM182.4 102.8h0.9v1.0h-0.9zM97.3 102.8h1.2v1.2h-1.2zM176.6 107.8h1.7v1.3h-1.7zM131.0 101.9h1.8v1.1h-1.8zM119.3 103.9h1.1v1.4h-1.1zM193.4 106.9h1.7v0.8h-1.7zM104.6 101.2h1.6v1.2h-1.6zM102.8 101.7h1.8v1.3h-1.8zM136.9 103.0h1.0v1.1h-1.0zM146.2 101.4h1.5v1.0h-1.5zM205.3 99.5h1.8v1.3h-1.8zM173.5 101.0h0.9v1.3h-0.9zM164.6 102.4h1.3v1.4h-1.3zM214.3 106.1h1.7v0.9h-1.7zM137.8 102.4h1.3v1.2h-1.3zM130.5 103.1h1.2v1.2h-1.2zM104.4 98.5h1.6v1.5h-1.6zM205.3 97.8h1.4v1.5h-1.4zM207.7 104.4h0.9v1.0h-0.9zM171.2 98.9h1.4v1.0h-1.4zM173.2 99.2h1.0v1.5h-1.0zM149.3 99.2h1.3v1.2h-1.3zM183.9 99.1h1.1v0.8h-1.1zM176.8 106.1h1.1v1.4h-1.1zM204.8 97.6h1.7v1.1h-1.7zM134.2 99.0h1.0v1.0h-1.0zM211.6 108.0h1.6v1.1h-1.6zM152.3 107.0h1.5v1.3h-1.5zM141.8 98.4h1.5v1.4h-1.5zM164.9 106.3h1.6v0.8h-1.6zM199.5 99.2h1.5v0.9h-1.5zM114.9 100.7h1.7v0.9h-1.7zM145.7 98.6h1.1v1.1h-1.1zM210.0 100.3h1.0v1.4h-1.0zM100.6 103.3h1.6v1.3h-1.6zM183.0 101.1h1.2v1.4h-1.2zM202.4 98.9h1.1v0.8h-1.1z" fill="#ece0f4" opacity="0.6"/>
<path d="M149.4 101.3h1.0v0.9h-1.0zM112.0 102.2h1.8v0.9h-1.8zM171.3 100.6h1.1v1.4h-1.1zM137.7 105.2h1.7v1.3h-1.7zM195.5 101.6h1.7v1.2h-1.7zM132.3 99.8h1.7v1.2h-1.7zM135.3 97.6h1.4v1.0h-1.4zM169.8 101.2h1.4v1.1h-1.4zM121.8 100.0h1.1v0.9h-1.1zM171.5 101.8h1.5v1.0h-1.5zM113.7 105.2h1.7v0.9h-1.7zM114.3 106.6h1.8v1.0h-1.8zM182.2 98.5h1.0v1.3h-1.0zM96.0 100.0h1.6v1.3h-1.6zM153.8 99.9h1.2v0.9h-1.2zM181.6 100.4h1.0v1.0h-1.0zM138.7 97.7h1.0v1.2h-1.0zM143.8 105.8h1.4v1.1h-1.4zM156.4 102.7h1.7v1.3h-1.7zM193.0 104.5h1.5v1.1h-1.5zM119.0 98.3h1.6v0.9h-1.6zM190.2 99.6h1.7v1.2h-1.7zM134.6 105.4h1.3v1.5h-1.3zM151.4 106.6h1.4v1.2h-1.4zM165.0 102.3h0.8v1.2h-0.8zM195.2 106.7h1.3v0.9h-1.3zM120.7 103.8h1.6v1.3h-1.6zM115.2 106.2h1.0v1.2h-1.0zM138.1 107.3h1.7v1.3h-1.7z" fill="#ece0f4" opacity="0.4"/>
<path d="M153.5 120.2h1.5v1.2h-1.5zM136.1 118.4h0.9v1.4h-0.9zM105.5 112.7h1.4v1.0h-1.4zM198.3 121.9h1.6v1.5h-1.6zM212.8 110.9h1.3v0.9h-1.3zM135.5 112.0h1.4v1.5h-1.4zM149.7 121.9h1.7v1.4h-1.7zM207.8 121.8h1.2v1.3h-1.2zM105.9 118.3h1.4v1.2h-1.4zM207.5 115.3h1.5v1.0h-1.5zM123.9 118.6h1.8v0.9h-1.8z" fill="#f0e8f6" opacity="0.6"/>
<path d="M162.3 113.3h1.6v1.4h-1.6zM110.5 118.1h1.6v1.2h-1.6zM202.1 118.9h1.6v1.3h-1.6zM119.4 111.1h1.5v1.5h-1.5zM146.6 116.7h1.6v0.8h-1.6zM161.6 112.6h1.6v0.9h-1.6zM153.8 115.1h0.9v1.2h-0.9zM97.4 112.1h1.2v1.4h-1.2zM147.7 111.2h0.9v0.9h-0.9zM117.6 113.0h0.8v1.4h-0.8zM163.7 114.5h0.8v1.4h-0.8zM170.0 118.5h1.2v0.8h-1.2zM98.6 115.6h1.2v1.3h-1.2zM182.8 110.5h0.9v1.5h-0.9zM135.2 111.1h1.5v1.4h-1.5zM141.9 117.3h1.4v1.4h-1.4zM120.3 120.6h1.7v1.0h-1.7z" fill="#f0e8f6" opacity="0.8"/>
<path d="M108.1 118.4h1.5v1.2h-1.5zM100.2 117.2h1.6v1.0h-1.6zM163.7 114.8h1.3v1.2h-1.3zM175.6 118.5h1.3v1.0h-1.3zM145.7 112.4h1.5v0.9h-1.5zM204.7 118.7h1.5v0.8h-1.5zM93.6 120.4h1.5v1.2h-1.5zM191.5 120.1h0.9v0.8h-0.9zM117.2 112.9h1.7v1.1h-1.7zM121.4 117.8h1.5v1.1h-1.5zM96.7 110.6h1.0v1.5h-1.0zM174.3 121.2h1.4v1.4h-1.4zM104.4 114.4h1.1v1.3h-1.1zM175.4 120.2h1.2v1.4h-1.2zM186.9 120.7h1.6v1.2h-1.6z" fill="#f0e8f6" opacity="0.5"/>
<path d="M92.4 117.6h0.9v1.0h-0.9zM191.1 116.4h0.8v1.3h-0.8zM148.8 110.5h1.7v1.2h-1.7zM105.0 119.4h1.7v1.4h-1.7zM127.6 114.8h0.8v1.3h-0.8zM166.3 121.7h1.6v0.8h-1.6zM189.6 121.0h1.6v1.3h-1.6zM184.2 113.3h1.0v1.1h-1.0zM103.0 112.5h1.1v1.4h-1.1z" fill="#f0e8f6" opacity="0.4"/>
<path d="M141.4 113.4h1.0v1.3h-1.0zM192.7 111.5h0.9v1.2h-0.9zM131.6 117.5h1.7v1.1h-1.7zM164.4 111.5h1.0v1.1h-1.0zM120.0 114.7h1.6v1.4h-1.6zM179.0 112.2h1.6v0.9h-1.6zM196.3 116.7h1.6v1.2h-1.6zM164.8 119.6h0.9v0.8h-0.9zM193.6 119.7h1.3v0.9h-1.3zM117.4 115.1h0.9v1.5h-0.9zM193.1 113.8h1.4v1.1h-1.4zM210.3 111.9h1.3v1.3h-1.3z" fill="#f0e8f6" opacity="0.7"/>
<path d="M160.6 118.4h1.8v1.3h-1.8zM203.4 117.2h0.9v1.0h-0.9zM110.8 110.2h1.6v0.9h-1.6zM134.7 113.9h0.9v1.1h-0.9zM172.1 121.2h1.6v1.4h-1.6zM206.9 114.9h1.7v1.3h-1.7z" fill="#f0e8f6" opacity="0.9"/>
<path d="M176.1 118.3h1.5v1.3h-1.5zM123.5 110.3h1.5v0.9h-1.5zM176.2 113.3h1.6v0.9h-1.6zM126.0 110.1h1.0v1.4h-1.0zM172.8 117.0h1.5v0.9h-1.5zM119.3 110.8h0.8v1.4h-0.8zM122.8 114.4h1.3v0.9h-1.3zM189.5 113.4h1.2v1.3h-1.2zM179.2 111.1h0.9v1.1h-0.9zM149.5 121.2h1.4v0.9h-1.4zM105.5 121.3h1.3v1.0h-1.3zM95.0 115.6h1.5v1.2h-1.5zM118.6 110.4h1.2v0.9h-1.2zM208.2 115.9h1.8v1.2h-1.8zM194.2 112.4h1.8v1.1h-1.8zM108.9 112.9h0.9v1.5h-0.9zM200.8 117.9h1.7v1.5h-1.7zM207.4 114.9h0.9v1.4h-0.9zM201.9 116.8h1.0v1.3h-1.0zM113.5 115.8h0.8v1.3h-0.8z" fill="#8a70c0" opacity="0.5"/>
<path d="M210.1 117.7h1.4v1.3h-1.4zM193.5 112.7h1.7v1.4h-1.7zM103.9 121.8h1.2v1.3h-1.2zM115.8 112.6h1.2v1.1h-1.2zM151.0 112.2h0.8v1.3h-0.8zM183.7 117.0h1.7v1.1h-1.7zM93.5 121.4h1.0v1.1h-1.0zM209.7 113.9h1.2v1.0h-1.2zM143.5 116.4h1.6v1.4h-1.6zM154.8 111.4h1.0v1.3h-1.0zM93.2 115.7h1.5v1.3h-1.5zM108.7 114.9h1.2v0.9h-1.2z" fill="#8a70c0" opacity="0.7"/>
<path d="M177.1 113.6h0.9v0.8h-0.9zM103.6 121.2h1.1v1.4h-1.1zM114.3 112.7h1.4v1.4h-1.4zM94.8 114.5h1.0v1.4h-1.0zM108.8 116.3h1.4v1.4h-1.4zM190.1 120.8h1.8v0.9h-1.8zM121.0 114.4h1.3v1.3h-1.3zM107.6 112.7h1.0v1.0h-1.0z" fill="#8a70c0" opacity="0.4"/>
<path d="M136.3 111.7h0.9v1.1h-0.9zM197.9 112.5h0.9v1.0h-0.9zM117.2 118.0h1.2v0.9h-1.2zM207.8 118.9h1.7v1.1h-1.7zM209.3 112.5h1.2v1.5h-1.2z" fill="#8a70c0" opacity="0.9"/>
<path d="M129.1 114.9h1.5v1.1h-1.5zM210.0 114.4h1.5v0.9h-1.5zM149.8 120.4h0.9v1.3h-0.9zM183.2 116.8h1.7v1.5h-1.7zM153.1 117.3h1.5v0.9h-1.5zM166.4 113.1h1.3v1.2h-1.3zM94.1 113.5h1.1v1.5h-1.1zM182.8 117.5h1.3v1.3h-1.3zM120.5 118.8h1.2v1.3h-1.2z" fill="#8a70c0" opacity="0.8"/>
<path d="M120.8 110.4h1.2v0.9h-1.2zM120.3 115.3h0.9v0.8h-0.9zM148.5 118.8h0.9v1.1h-0.9zM120.7 112.0h1.4v1.1h-1.4zM114.1 121.5h1.6v1.0h-1.6zM207.4 116.9h1.2v1.3h-1.2z" fill="#8a70c0" opacity="0.6"/>
<path d="M137.3 87.8h1.6v1.4h-1.6zM199.2 86.4h1.0v0.8h-1.0zM180.7 84.9h1.1v1.2h-1.1zM167.3 87.6h1.0v1.0h-1.0z" fill="#c080c8" opacity="0.7"/>
<path d="M169.7 86.8h1.8v0.9h-1.8zM128.9 85.0h1.6v1.2h-1.6zM177.2 84.0h1.0v1.0h-1.0zM103.2 86.5h1.5v1.0h-1.5zM163.8 84.8h1.5v1.4h-1.5zM123.9 84.6h1.0v1.3h-1.0zM157.2 87.3h1.0v0.9h-1.0z" fill="#c080c8" opacity="0.8"/>
<path d="M180.9 85.1h0.9v0.8h-0.9zM150.7 85.0h0.9v0.9h-0.9zM120.3 84.4h1.5v1.2h-1.5zM115.6 86.3h0.9v1.2h-0.9zM139.4 85.9h1.1v1.3h-1.1zM146.7 87.7h1.7v1.2h-1.7zM203.4 84.5h1.3v1.2h-1.3zM140.2 84.4h1.8v0.8h-1.8zM186.1 84.5h0.9v0.8h-0.9zM105.1 87.3h1.1v1.0h-1.1z" fill="#c080c8" opacity="0.5"/>
<path d="M212.9 84.1h0.9v1.5h-0.9zM181.3 85.4h1.3v0.9h-1.3zM147.8 86.5h1.1v0.8h-1.1zM144.2 85.4h0.9v1.0h-0.9zM106.3 85.0h1.5v1.4h-1.5zM179.7 86.9h0.9v0.9h-0.9z" fill="#c080c8" opacity="0.9"/>
<path d="M110.2 85.3h1.3v1.0h-1.3zM160.6 84.2h1.0v1.3h-1.0zM179.7 87.8h1.6v1.0h-1.6zM154.9 84.6h1.7v1.4h-1.7zM116.2 84.5h1.3v1.2h-1.3zM131.0 85.9h1.5v1.3h-1.5zM149.9 87.8h1.4v1.0h-1.4zM149.5 88.0h0.9v1.4h-0.9z" fill="#c080c8" opacity="0.6"/>
<path d="M179.8 84.9h1.6v1.4h-1.6zM123.7 85.7h1.3v1.3h-1.3zM180.3 84.2h1.4v0.9h-1.4zM179.7 86.1h1.6v0.9h-1.6zM100.4 87.0h1.6v1.1h-1.6z" fill="#c080c8" opacity="0.4"/>
<path d="M92,45.5 L92.0,45.5 L92.0,51.1 L101.2,52.4 L110.6,51.5 L119.9,49.6 L127.4,48.1 L144.2,46.2 L155.4,46.6 L168.5,46.8 L179.7,47.4 L190.9,49.6 L199.3,54.3 L202.1,52.4 L209.6,54.3 L215.5,55.6 L215.5,55.6 L215.5,45.5 Z" fill="#f2eef4"/>
<path d="M92.0,51.1 L101.2,52.4 L110.6,51.5 L119.9,49.6 L127.4,48.1 L144.2,46.2 L155.4,46.6 L168.5,46.8 L179.7,47.4 L190.9,49.6 L199.3,54.3 L202.1,52.4 L209.6,54.3 L215.5,55.6" fill="none" stroke="#1e0a1c" stroke-width="1.5"/>
<path d="M92.0,52.5 L101.2,53.8 L110.6,52.9 L119.9,51.0 L127.4,49.5 L144.2,47.6 L155.4,48.0 L168.5,48.2 L179.7,48.8 L190.9,51.0 L199.3,55.7 L202.1,53.8 L209.6,55.7 L215.5,57.0" fill="none" stroke="#7a3a7a" stroke-width="0.8" opacity="0.6"/>
<path d="M92.2,48.7 L98.0,47.2 L105.0,45.9" fill="none" stroke="#1e0a1c" stroke-width="1.2"/>
<rect x="246.00" y="46.00" width="123.00" height="82.00" fill="url(#h2)" />
<path d="M267.0 62.5L268.7 62.5L268.2 68.2L266.5 68.2zM291.6 55.9L293.4 55.9L292.6 61.9L290.8 61.9zM325.9 56.4L326.9 56.4L326.5 66.1L325.6 66.1zM272.1 55.7L272.6 55.7L271.9 60.7L271.4 60.7zM296.7 64.7L297.7 64.7L297.1 73.1L296.1 73.1zM298.7 62.0L300.3 62.0L299.9 68.4L298.3 68.4zM297.2 58.6L298.2 58.6L297.0 65.3L296.0 65.3zM333.3 62.5L334.1 62.5L333.7 67.4L332.9 67.4zM265.7 53.7L266.9 53.7L266.2 57.3L265.0 57.3zM303.4 53.3L304.0 53.3L303.1 61.0L302.5 61.0zM253.2 63.5L254.1 63.5L253.0 67.7L252.1 67.7zM256.9 65.5L258.6 65.5L258.6 72.0L256.9 72.0zM364.7 66.7L365.4 66.7L364.5 74.0L363.8 74.0zM320.9 55.3L322.5 55.3L322.8 61.3L321.2 61.3zM340.6 51.7L341.8 51.7L342.0 56.9L340.8 56.9zM268.6 52.3L269.8 52.3L268.9 61.8L267.7 61.8zM344.1 61.4L345.8 61.4L345.3 70.4L343.7 70.4zM313.5 62.8L314.5 62.8L314.7 70.5L313.7 70.5zM312.7 55.3L313.6 55.3L312.6 58.5L311.7 58.5zM313.4 53.4L314.8 53.4L315.0 60.5L313.5 60.5zM277.1 52.4L278.7 52.4L278.4 56.6L276.8 56.6zM247.8 51.0L248.7 51.0L248.7 57.4L247.9 57.4zM298.2 52.8L299.6 52.8L299.8 56.1L298.4 56.1zM336.4 62.0L337.5 62.0L337.4 69.1L336.3 69.1zM359.7 63.6L360.4 63.6L360.0 70.4L359.3 70.4zM264.9 64.6L266.4 64.6L265.8 73.3L264.3 73.3zM291.5 58.5L292.7 58.5L292.0 66.3L290.8 66.3zM307.4 57.0L308.3 57.0L307.9 65.3L307.0 65.3zM289.8 62.6L291.4 62.6L290.6 71.5L289.0 71.5zM344.0 53.8L345.5 53.8L345.6 59.5L344.1 59.5zM349.7 64.9L350.8 64.9L350.8 71.3L349.8 71.3zM286.6 61.4L288.0 61.4L286.8 69.4L285.4 69.4zM319.3 58.5L320.4 58.5L319.7 62.5L318.6 62.5zM362.5 56.0L364.0 56.0L363.8 62.3L362.4 62.3zM291.7 62.3L293.1 62.3L293.5 65.5L292.0 65.5zM328.3 58.3L329.7 58.3L328.8 65.1L327.4 65.1zM330.5 54.3L331.3 54.3L331.0 62.5L330.3 62.5zM308.1 55.3L309.4 55.3L309.0 62.7L307.6 62.7zM358.8 63.6L360.6 63.6L359.6 72.4L357.8 72.4zM313.3 60.3L314.4 60.3L314.3 70.1L313.2 70.1zM336.8 64.7L338.3 64.7L337.6 70.5L336.1 70.5zM326.1 56.8L327.3 56.8L327.6 64.0L326.4 64.0zM313.3 60.1L314.2 60.1L314.2 68.1L313.3 68.1zM272.9 64.5L274.2 64.5L273.3 70.6L272.0 70.6zM330.9 63.1L332.5 63.1L331.3 74.0L329.8 74.0zM285.6 60.0L286.5 60.0L286.4 65.7L285.5 65.7zM294.1 58.4L295.0 58.4L294.7 64.7L293.7 64.7zM363.8 56.4L364.8 56.4L365.1 62.9L364.2 62.9zM251.1 57.5L252.7 57.5L252.2 67.5L250.6 67.5zM348.3 50.8L349.3 50.8L349.6 59.7L348.6 59.7zM333.8 54.7L334.7 54.7L334.2 61.6L333.3 61.6zM267.4 54.3L268.9 54.3L268.4 62.3L266.9 62.3z" fill="#f4eef0" opacity="0.4"/>
<path d="M351.1 59.6L352.9 59.6L352.7 62.7L350.9 62.7zM296.0 60.6L297.8 60.6L297.0 70.7L295.2 70.7zM343.9 66.6L344.8 66.6L344.9 74.0L344.0 74.0zM360.3 62.5L362.0 62.5L360.9 70.9L359.2 70.9zM312.7 57.6L314.4 57.6L314.5 63.3L312.8 63.3zM355.0 57.9L356.7 57.9L356.0 68.1L354.3 68.1zM342.1 56.0L342.9 56.0L343.0 60.7L342.2 60.7zM270.6 55.1L271.8 55.1L270.9 60.7L269.7 60.7zM298.7 55.0L300.5 55.0L300.5 62.4L298.7 62.4zM263.7 56.1L265.1 56.1L264.9 65.9L263.4 65.9zM286.5 63.8L287.3 63.8L286.1 68.0L285.3 68.0zM293.0 51.6L294.9 51.6L294.6 61.5L292.7 61.5zM263.4 52.9L265.0 52.9L263.8 59.0L262.2 59.0zM341.7 58.6L343.2 58.6L342.6 61.7L341.2 61.7zM342.0 63.7L343.6 63.7L342.9 74.0L341.3 74.0zM358.4 51.4L360.0 51.4L359.0 61.8L357.4 61.8zM334.5 54.3L335.7 54.3L334.6 63.1L333.4 63.1zM302.6 57.9L304.4 57.9L303.7 66.6L301.9 66.6zM363.2 65.5L364.2 65.5L363.9 69.7L362.9 69.7zM322.7 59.4L324.5 59.4L323.9 70.0L322.1 70.0zM323.2 59.1L324.6 59.1L323.9 69.0L322.6 69.0zM329.3 65.5L329.8 65.5L329.8 74.0L329.3 74.0zM347.1 66.4L347.9 66.4L347.1 70.3L346.4 70.3zM327.7 53.7L328.4 53.7L327.9 59.9L327.2 59.9zM288.4 61.6L290.3 61.6L289.5 67.6L287.6 67.6zM299.3 50.1L300.7 50.1L300.9 53.8L299.5 53.8zM325.7 61.3L326.3 61.3L325.6 69.4L325.0 69.4zM343.4 51.8L345.3 51.8L344.8 56.8L342.9 56.8zM300.4 56.8L302.0 56.8L301.6 61.7L299.9 61.7zM307.7 63.2L309.4 63.2L308.7 67.8L307.1 67.8zM272.5 57.3L274.2 57.3L273.4 60.3L271.7 60.3zM351.1 63.2L352.5 63.2L352.0 71.6L350.6 71.6zM330.2 52.6L331.9 52.6L330.8 60.0L329.2 60.0zM308.4 57.4L309.5 57.4L309.7 63.9L308.5 63.9zM270.9 60.8L272.0 60.8L270.9 69.0L269.8 69.0zM342.3 55.1L343.8 55.1L342.8 62.5L341.3 62.5zM254.3 65.7L255.1 65.7L254.4 68.9L253.7 68.9zM324.7 63.9L325.4 63.9L324.6 70.1L324.0 70.1zM317.3 55.0L319.0 55.0L317.9 60.2L316.3 60.2zM366.6 65.8L367.4 65.8L367.2 70.8L366.4 70.8zM268.9 65.9L270.0 65.9L270.4 74.0L269.3 74.0z" fill="#f4eef0" opacity="0.7"/>
<path d="M362.0 55.5L363.0 55.5L362.2 65.3L361.2 65.3zM346.0 55.8L346.6 55.8L346.9 65.5L346.2 65.5zM302.3 56.7L303.7 56.7L303.0 66.1L301.6 66.1zM315.8 51.8L317.0 51.8L316.6 59.5L315.5 59.5zM362.8 61.6L364.1 61.6L362.9 65.6L361.6 65.6zM306.9 61.2L308.2 61.2L308.6 65.3L307.3 65.3zM355.7 66.0L356.4 66.0L356.1 73.1L355.4 73.1zM332.7 61.9L333.3 61.9L333.6 67.1L333.0 67.1zM263.3 57.7L264.9 57.7L264.2 65.8L262.6 65.8zM268.4 58.0L270.2 58.0L269.8 64.5L267.9 64.5zM330.1 56.6L330.6 56.6L330.4 60.8L329.8 60.8zM291.1 56.5L292.0 56.5L291.7 62.4L290.8 62.4zM335.3 62.1L337.1 62.1L336.8 72.3L335.0 72.3zM287.0 56.6L288.3 56.6L288.6 67.2L287.3 67.2zM315.4 62.2L317.2 62.2L317.5 68.5L315.7 68.5zM277.9 60.2L278.8 60.2L278.4 64.5L277.5 64.5zM301.6 64.5L302.2 64.5L301.8 70.7L301.1 70.7zM250.1 58.0L250.6 58.0L250.8 61.7L250.3 61.7zM282.6 66.2L283.1 66.2L282.0 71.2L281.5 71.2zM296.6 65.1L297.4 65.1L296.2 72.8L295.5 72.8zM267.8 63.9L269.6 63.9L268.8 67.7L267.1 67.7zM290.4 61.1L291.7 61.1L292.1 71.7L290.8 71.7zM339.2 53.7L340.4 53.7L339.9 62.1L338.7 62.1zM270.2 51.5L271.0 51.5L270.4 60.0L269.5 60.0zM254.6 59.1L255.8 59.1L254.7 70.0L253.5 70.0zM329.5 61.7L331.0 61.7L329.9 69.3L328.4 69.3zM246.4 50.7L247.4 50.7L247.8 56.5L246.8 56.5zM268.3 52.6L269.3 52.6L269.5 57.9L268.5 57.9zM320.4 54.9L321.2 54.9L321.5 59.5L320.7 59.5zM290.2 65.1L291.9 65.1L291.1 69.0L289.4 69.0zM278.8 63.0L279.8 63.0L278.7 69.8L277.7 69.8zM273.7 60.5L274.8 60.5L274.5 69.7L273.4 69.7zM310.8 55.5L311.9 55.5L311.2 61.1L310.1 61.1zM315.6 53.7L317.2 53.7L316.9 60.3L315.3 60.3zM290.3 57.5L291.0 57.5L290.8 68.3L290.2 68.3zM320.5 50.6L321.4 50.6L321.4 61.0L320.5 61.0zM341.7 57.6L343.3 57.6L342.5 62.2L341.0 62.2z" fill="#f4eef0" opacity="0.8"/>
<path d="M343.0 53.8L343.8 53.8L343.8 57.4L343.0 57.4zM290.1 65.5L291.8 65.5L291.4 70.1L289.7 70.1zM361.0 57.4L362.4 57.4L362.5 61.1L361.1 61.1zM250.6 50.9L252.0 50.9L252.0 54.9L250.6 54.9zM337.2 52.4L338.5 52.4L338.9 60.9L337.6 60.9zM358.5 60.1L359.5 60.1L358.4 64.6L357.4 64.6zM326.5 51.5L327.6 51.5L326.8 61.8L325.7 61.8zM343.5 51.9L345.1 51.9L344.8 57.5L343.3 57.5zM248.5 56.5L250.0 56.5L249.4 62.6L247.9 62.6zM317.4 59.6L318.8 59.6L318.1 65.2L316.7 65.2zM275.7 59.8L277.3 59.8L277.4 65.8L275.7 65.8zM257.1 57.7L257.7 57.7L256.7 62.4L256.0 62.4zM248.0 65.6L249.3 65.6L249.4 70.2L248.1 70.2zM352.0 50.8L352.6 50.8L351.8 55.8L351.2 55.8zM334.0 51.9L334.7 51.9L334.0 56.7L333.4 56.7zM290.9 64.7L292.3 64.7L292.1 74.0L290.7 74.0zM275.0 59.4L276.8 59.4L276.3 65.7L274.5 65.7zM282.9 59.8L283.5 59.8L283.8 68.5L283.2 68.5zM247.9 52.5L248.7 52.5L247.6 57.3L246.9 57.3zM318.8 64.5L320.1 64.5L320.0 68.3L318.7 68.3z" fill="#f4eef0" opacity="0.3"/>
<path d="M353.6 66.6L355.4 66.6L355.3 73.1L353.5 73.1zM275.9 53.3L276.8 53.3L276.6 57.6L275.6 57.6zM331.4 66.2L332.4 66.2L331.9 72.4L330.9 72.4zM287.4 65.8L288.1 65.8L287.2 73.2L286.5 73.2zM355.3 63.4L356.5 63.4L356.1 66.6L354.9 66.6zM289.9 66.4L290.8 66.4L290.0 72.9L289.1 72.9zM299.5 63.2L300.9 63.2L301.1 70.8L299.8 70.8zM315.8 65.2L316.5 65.2L316.7 72.9L316.1 72.9zM333.9 53.6L335.7 53.6L335.1 61.8L333.3 61.8zM336.2 52.2L337.8 52.2L337.0 60.3L335.4 60.3zM322.8 58.9L324.6 58.9L323.6 68.8L321.8 68.8zM252.0 57.1L252.5 57.1L252.2 67.9L251.7 67.9zM308.8 55.4L309.4 55.4L309.3 66.1L308.7 66.1zM256.8 60.9L258.6 60.9L258.3 67.3L256.4 67.3zM275.8 52.6L277.3 52.6L277.5 58.0L276.0 58.0zM308.2 56.3L309.9 56.3L309.8 61.6L308.2 61.6zM304.8 62.2L305.7 62.2L305.1 66.9L304.2 66.9zM349.4 64.5L351.3 64.5L350.6 71.0L348.7 71.0zM260.5 65.1L261.4 65.1L261.1 71.6L260.3 71.6zM290.9 57.2L292.2 57.2L292.1 64.3L290.9 64.3zM271.5 64.7L272.8 64.7L272.6 70.6L271.3 70.6zM280.6 51.4L282.0 51.4L281.0 62.1L279.6 62.1zM355.4 55.7L356.0 55.7L355.0 58.9L354.4 58.9zM322.0 52.0L323.8 52.0L323.1 56.3L321.3 56.3zM356.3 64.6L357.2 64.6L357.2 74.0L356.3 74.0zM347.2 54.1L348.0 54.1L347.2 62.7L346.4 62.7zM362.1 53.2L362.8 53.2L362.4 57.0L361.7 57.0zM269.1 58.0L270.8 58.0L270.4 65.3L268.7 65.3zM311.5 53.6L312.3 53.6L312.3 62.9L311.5 62.9zM296.2 65.6L298.0 65.6L296.9 71.7L295.1 71.7zM267.7 56.8L269.0 56.8L268.8 66.9L267.6 66.9zM348.7 57.9L350.2 57.9L350.1 61.9L348.6 61.9zM279.6 52.6L281.4 52.6L281.7 59.7L279.9 59.7zM282.7 62.0L283.9 62.0L282.9 65.1L281.7 65.1zM309.1 52.3L309.9 52.3L309.1 61.9L308.3 61.9zM291.5 56.9L293.3 56.9L293.7 67.0L291.9 67.0zM251.3 53.2L252.3 53.2L251.8 63.9L250.7 63.9zM330.8 62.4L332.0 62.4L331.7 70.6L330.5 70.6z" fill="#f4eef0" opacity="0.5"/>
<path d="M342.9 53.1L344.6 53.1L344.6 63.4L342.9 63.4zM322.9 63.4L323.8 63.4L323.0 69.8L322.1 69.8zM319.4 65.1L321.0 65.1L320.9 69.8L319.4 69.8zM349.5 62.2L350.5 62.2L350.8 68.0L349.7 68.0zM290.3 65.0L291.7 65.0L291.9 70.8L290.6 70.8zM304.1 55.6L305.0 55.6L305.0 61.7L304.1 61.7zM259.7 52.7L261.5 52.7L261.4 57.2L259.6 57.2zM288.8 62.3L289.3 62.3L289.2 65.8L288.6 65.8zM360.9 66.7L362.4 66.7L362.5 73.1L361.0 73.1zM287.0 52.7L287.8 52.7L287.9 63.2L287.0 63.2zM357.2 53.7L358.7 53.7L359.1 64.0L357.5 64.0zM266.4 52.3L267.4 52.3L266.7 59.1L265.7 59.1zM362.9 66.4L363.9 66.4L364.3 70.6L363.2 70.6zM325.6 52.7L327.3 52.7L326.7 61.5L325.0 61.5zM265.5 58.4L266.8 58.4L266.2 66.0L265.0 66.0zM346.4 54.0L347.3 54.0L346.7 57.8L345.8 57.8zM265.1 60.5L265.7 60.5L265.1 63.9L264.4 63.9zM305.5 53.2L306.4 53.2L306.5 61.6L305.6 61.6zM356.7 63.2L358.1 63.2L358.5 73.1L357.1 73.1zM361.4 59.5L362.4 59.5L362.0 64.0L361.0 64.0zM339.8 61.8L341.6 61.8L340.8 71.0L339.0 71.0zM289.9 50.5L291.8 50.5L291.6 61.2L289.8 61.2zM305.4 56.2L307.2 56.2L307.1 61.3L305.3 61.3zM365.6 52.8L367.3 52.8L366.7 59.9L365.0 59.9zM262.4 55.2L264.0 55.2L263.8 63.6L262.2 63.6zM349.0 53.0L350.8 53.0L349.6 62.6L347.8 62.6zM299.6 63.9L300.4 63.9L300.6 72.4L299.8 72.4zM362.2 56.2L363.8 56.2L362.6 63.2L361.0 63.2zM257.5 54.6L258.8 54.6L258.2 62.7L256.9 62.7zM315.8 60.9L317.2 60.9L316.1 66.8L314.7 66.8zM305.6 54.2L307.2 54.2L306.6 59.6L305.0 59.6zM302.2 59.6L302.8 59.6L303.0 64.6L302.4 64.6zM306.4 53.8L307.9 53.8L307.5 57.8L306.0 57.8zM367.5 60.8L369.2 60.8L368.1 70.3L366.4 70.3zM257.7 61.1L259.2 61.1L259.0 64.9L257.5 64.9z" fill="#f4eef0" opacity="0.6"/>
<path d="M348.2 54.3h1.0v11.7h-1.0zM358.3 64.6h0.8v10.1h-0.8zM291.2 51.8h1.0v8.0h-1.0zM262.5 58.9h1.2v8.0h-1.2zM300.3 64.3h0.7v10.7h-0.7zM324.6 59.1h1.0v7.9h-1.0zM251.6 65.8h0.8v11.0h-0.8zM359.1 60.2h0.9v13.2h-0.9zM249.5 58.3h1.0v10.0h-1.0zM285.6 60.6h1.1v13.6h-1.1z" fill="#3a1210" opacity="0.7"/>
<path d="M347.5 65.8h1.1v7.4h-1.1zM276.8 50.4h1.0v5.9h-1.0zM332.3 60.3h1.0v12.0h-1.0zM324.6 61.9h1.1v13.4h-1.1zM302.2 63.7h0.7v7.9h-0.7zM267.3 51.4h0.6v9.1h-0.6zM317.4 54.3h0.9v7.7h-0.9zM321.6 51.2h0.8v9.9h-0.8zM295.3 51.8h1.1v11.6h-1.1zM346.6 66.1h0.9v7.2h-0.9zM282.0 63.7h0.8v10.5h-0.8zM292.4 54.1h0.9v11.3h-0.9zM265.0 52.4h1.0v7.7h-1.0zM349.4 60.2h0.8v7.5h-0.8z" fill="#3a1210" opacity="0.5"/>
<path d="M284.1 56.6h1.1v12.2h-1.1zM332.6 64.6h0.9v11.3h-0.9zM296.2 67.2h1.1v8.7h-1.1zM297.5 65.1h1.2v11.3h-1.2zM260.1 60.8h1.2v12.8h-1.2zM321.9 58.6h0.9v10.7h-0.9zM276.1 59.3h0.8v8.5h-0.8zM279.0 58.9h0.7v13.4h-0.7zM260.8 64.4h0.7v9.6h-0.7zM246.1 65.6h0.7v12.4h-0.7zM347.6 66.6h1.0v7.8h-1.0zM262.5 65.5h0.7v13.0h-0.7zM258.0 55.1h0.9v11.9h-0.9z" fill="#3a1210" opacity="0.6"/>
<path d="M327.5 53.1h0.9v6.4h-0.9zM287.0 51.8h1.0v6.4h-1.0zM349.3 55.9h0.8v12.6h-0.8zM350.9 56.8h1.2v5.0h-1.2zM307.4 54.4h1.2v7.6h-1.2zM264.8 59.7h0.8v7.4h-0.8zM344.5 54.5h1.1v11.2h-1.1zM317.4 60.4h0.8v5.1h-0.8zM342.3 50.6h1.1v10.8h-1.1zM294.4 59.9h0.6v13.4h-0.6zM346.0 53.9h1.1v13.5h-1.1zM340.2 61.4h1.2v12.5h-1.2zM328.0 52.2h1.1v12.0h-1.1z" fill="#3a1210" opacity="0.4"/>
<path d="M294.1 50.2h0.8v8.9h-0.8zM366.5 66.0h1.1v6.1h-1.1zM270.7 56.0h0.7v5.1h-0.7zM361.3 50.3h1.1v7.9h-1.1zM267.3 60.1h1.2v12.0h-1.2z" fill="#3a1210" opacity="0.3"/>
<path d="M265.5 76.9h1.1v5.1h-1.1zM359.8 77.0h0.8v8.5h-0.8zM327.0 76.1h0.9v5.5h-0.9zM363.7 76.9h1.0v8.5h-1.0zM343.6 76.3h1.2v3.5h-1.2zM252.6 76.8h1.1v5.1h-1.1z" fill="#e0a0d8" opacity="0.3"/>
<path d="M270.5 76.4h0.8v5.6h-0.8zM270.7 76.6h1.0v7.0h-1.0zM355.9 76.2h1.0v3.8h-1.0zM331.9 76.7h0.8v7.3h-0.8zM280.6 76.3h0.9v7.2h-0.9zM314.5 76.5h0.7v5.0h-0.7z" fill="#d070b8" opacity="0.4"/>
<path d="M331.3 76.9h0.8v5.3h-0.8zM358.6 76.3h0.9v4.8h-0.9zM360.6 76.4h0.9v6.3h-0.9zM330.3 76.6h0.8v6.8h-0.8zM355.8 76.7h0.7v4.3h-0.7zM308.0 76.6h1.2v3.5h-1.2z" fill="#d070b8" opacity="0.3"/>
<path d="M260.3 76.6h0.7v5.7h-0.7zM351.2 76.7h0.7v4.6h-0.7zM363.6 76.7h0.9v6.8h-0.9zM290.6 76.9h0.9v3.4h-0.9zM267.1 76.8h0.7v3.6h-0.7zM327.2 76.2h0.9v6.8h-0.9zM310.2 76.2h0.8v7.3h-0.8zM258.0 76.1h0.6v8.3h-0.6z" fill="#e8c8ec" opacity="0.4"/>
<path d="M283.0 76.4h0.7v3.5h-0.7zM341.2 76.6h0.9v6.2h-0.9zM253.9 76.7h0.8v5.2h-0.8zM345.5 76.0h1.2v5.3h-1.2zM294.6 77.0h1.1v4.8h-1.1zM364.5 76.3h0.7v4.3h-0.7z" fill="#e0a0d8" opacity="0.4"/>
<path d="M324.2 76.5h0.6v4.1h-0.6zM366.9 77.0h1.1v8.1h-1.1zM300.4 76.8h0.7v4.1h-0.7zM271.4 76.2h1.1v6.3h-1.1zM283.0 76.2h1.0v5.5h-1.0z" fill="#d070b8" opacity="0.5"/>
<path d="M347.3 76.7h1.1v8.2h-1.1zM352.6 76.6h1.2v3.1h-1.2zM338.7 76.1h0.9v7.0h-0.9zM367.9 76.3h0.9v3.2h-0.9zM255.6 76.7h0.8v8.2h-0.8zM337.8 76.4h1.0v7.2h-1.0zM303.3 76.1h1.1v5.0h-1.1z" fill="#e8c8ec" opacity="0.3"/>
<path d="M282.8 76.9h1.0v6.3h-1.0zM258.2 76.7h1.1v4.4h-1.1z" fill="#e0a0d8" opacity="0.2"/>
<path d="M349.2 76.7h0.7v6.0h-0.7zM267.1 76.3h1.1v3.7h-1.1z" fill="#e0a0d8" opacity="0.5"/>
<path d="M278.1 76.7h1.0v7.4h-1.0z" fill="#d070b8" opacity="0.2"/>
<path d="M262.0 91.9h1.3v1.4h-1.3zM253.1 91.8h1.0v1.2h-1.0zM251.5 90.7h0.9v1.0h-0.9zM264.1 90.8h1.1v1.2h-1.1zM249.4 91.7h1.5v1.0h-1.5zM271.5 90.7h1.7v1.3h-1.7zM246.9 91.5h1.2v0.8h-1.2zM264.0 90.4h1.1v1.2h-1.1zM255.5 91.7h1.7v0.9h-1.7zM312.4 92.3h1.3v1.4h-1.3zM362.0 91.0h1.4v0.9h-1.4zM283.0 90.0h1.1v1.0h-1.1zM248.3 89.8h1.0v1.5h-1.0zM261.2 90.7h1.5v1.4h-1.5z" fill="#e8dcf0" opacity="0.6"/>
<path d="M308.6 92.6h1.8v1.2h-1.8zM248.4 91.2h1.3v0.9h-1.3zM339.3 90.7h0.9v0.9h-0.9zM324.4 90.8h0.9v0.9h-0.9zM261.4 91.3h1.3v1.5h-1.3zM276.9 92.7h1.2v1.2h-1.2zM290.1 92.6h1.2v1.3h-1.2zM329.1 91.1h1.3v0.8h-1.3zM322.6 89.7h1.0v1.2h-1.0zM261.9 91.9h0.8v1.1h-0.8zM248.3 90.4h1.7v0.9h-1.7zM345.9 91.3h1.4v0.9h-1.4zM328.6 91.9h0.9v1.3h-0.9zM319.9 92.0h1.1v1.0h-1.1zM274.6 92.2h0.9v1.1h-0.9zM307.8 90.1h1.7v1.3h-1.7zM284.4 89.7h1.5v1.2h-1.5zM254.6 92.5h1.4v1.3h-1.4z" fill="#e8dcf0" opacity="0.7"/>
<path d="M255.6 91.2h1.6v0.9h-1.6zM270.9 90.7h1.4v0.9h-1.4zM366.3 91.2h1.4v1.4h-1.4zM295.4 90.0h1.6v0.9h-1.6zM257.3 91.2h1.7v1.3h-1.7zM250.5 91.5h1.0v0.8h-1.0zM300.2 89.9h1.0v1.4h-1.0zM290.6 90.7h1.6v1.3h-1.6zM357.6 92.9h1.2v1.0h-1.2zM300.3 91.5h1.6v1.5h-1.6zM355.0 89.8h1.4v1.4h-1.4zM309.2 92.9h1.5v0.8h-1.5zM348.8 91.1h1.1v0.9h-1.1zM329.4 91.1h1.5v1.0h-1.5zM271.9 91.6h1.4v1.1h-1.4zM334.5 90.1h1.6v1.0h-1.6zM365.7 90.0h1.2v0.8h-1.2zM366.1 92.2h1.1v1.3h-1.1zM306.9 91.6h1.8v1.4h-1.8zM326.3 91.5h0.8v1.2h-0.8zM366.9 92.2h1.2v1.3h-1.2zM313.5 92.0h1.5v1.5h-1.5zM325.8 90.7h1.1v1.2h-1.1zM363.2 91.3h1.1v1.2h-1.1zM342.2 91.4h1.4v1.1h-1.4zM257.6 92.1h1.4v1.2h-1.4zM315.2 91.6h1.0v1.0h-1.0zM329.0 92.8h1.2v1.2h-1.2zM246.1 90.3h1.0v1.3h-1.0z" fill="#e8dcf0" opacity="0.8"/>
<path d="M364.5 91.9h1.3v1.5h-1.3zM282.2 91.7h1.6v1.1h-1.6zM287.8 92.4h1.6v0.9h-1.6zM279.0 91.1h1.0v1.4h-1.0zM295.3 92.6h1.3v1.5h-1.3zM349.8 91.4h1.0v1.2h-1.0zM257.3 90.3h1.0v0.8h-1.0zM271.7 90.9h1.6v1.2h-1.6zM316.6 90.0h1.5v0.8h-1.5zM285.4 89.9h1.3v0.9h-1.3zM352.2 91.9h1.7v1.4h-1.7zM333.6 93.0h1.4v1.1h-1.4zM324.6 90.1h1.7v1.0h-1.7zM268.7 92.9h0.9v0.9h-0.9zM313.4 89.6h1.2v1.2h-1.2zM282.0 90.1h1.2v1.1h-1.2zM361.6 90.4h0.9v1.3h-0.9zM325.6 89.7h1.1v1.3h-1.1zM289.4 91.4h1.4v1.1h-1.4zM268.0 92.7h1.3v0.9h-1.3z" fill="#e8dcf0" opacity="0.5"/>
<path d="M253.7 91.8h1.3v1.4h-1.3zM256.4 89.9h1.7v1.1h-1.7zM256.5 91.8h1.6v0.8h-1.6z" fill="#e8dcf0" opacity="0.4"/>
<path d="M260.3 92.1h1.1v1.2h-1.1zM327.6 91.1h1.6v1.4h-1.6zM311.4 90.0h1.8v1.0h-1.8zM365.7 92.4h0.9v1.4h-0.9zM268.4 90.6h1.6v1.4h-1.6zM298.5 89.6h1.7v1.0h-1.7z" fill="#e8dcf0" opacity="0.9"/>
<path d="M359.3 100.8h1.7v0.9h-1.7zM350.7 105.2h1.4v1.5h-1.4zM272.5 101.5h1.2v1.2h-1.2zM297.1 107.1h1.6v1.1h-1.6zM286.1 103.2h1.7v1.1h-1.7zM361.4 106.7h1.1v1.3h-1.1zM263.3 105.6h0.8v1.4h-0.8zM258.0 107.5h1.5v1.3h-1.5zM300.8 99.2h1.0v1.3h-1.0zM360.1 100.4h1.6v1.1h-1.6zM365.5 102.7h1.7v0.8h-1.7zM300.0 103.3h1.5v1.3h-1.5zM259.8 101.5h1.8v1.5h-1.8zM296.3 107.7h1.2v0.9h-1.2zM355.5 98.3h1.2v1.2h-1.2zM248.2 104.3h1.4v1.5h-1.4zM330.6 98.4h1.5v1.4h-1.5zM294.6 106.9h1.2v1.1h-1.2zM364.2 101.5h1.5v1.3h-1.5zM274.1 99.4h1.0v1.3h-1.0zM259.8 99.3h1.8v1.0h-1.8zM254.0 97.5h1.8v0.9h-1.8zM258.8 99.2h1.1v1.3h-1.1zM363.7 102.5h0.9v1.3h-0.9zM261.3 102.3h1.3v1.3h-1.3zM267.8 97.1h1.5v1.0h-1.5zM292.5 103.4h1.2v0.8h-1.2zM328.8 97.5h1.6v0.9h-1.6zM289.8 97.9h1.7v1.4h-1.7zM299.7 107.3h1.4v1.0h-1.4zM357.5 106.8h1.5v1.4h-1.5zM292.2 105.3h1.3v0.8h-1.3zM285.1 108.0h1.8v1.1h-1.8zM325.8 99.9h1.6v1.4h-1.6zM273.2 96.6h1.2v1.2h-1.2zM262.5 100.6h1.0v1.1h-1.0zM367.1 100.7h0.9v0.9h-0.9zM251.3 101.2h1.7v1.4h-1.7zM302.5 104.7h1.1v1.4h-1.1zM282.1 102.0h1.1v1.2h-1.1zM338.0 99.2h1.6v1.4h-1.6zM252.6 104.2h1.3v0.9h-1.3zM250.5 103.3h0.9v1.1h-0.9zM358.9 105.6h0.8v1.1h-0.8zM259.5 101.3h1.0v0.9h-1.0zM353.0 101.5h1.3v1.4h-1.3zM327.0 98.7h1.8v1.2h-1.8zM259.5 104.1h0.8v1.2h-0.8zM300.3 102.8h1.7v0.9h-1.7zM355.3 96.7h1.3v0.8h-1.3z" fill="#ece0f4" opacity="0.8"/>
<path d="M246.6 106.1h1.0v1.0h-1.0zM325.4 104.7h1.8v1.3h-1.8zM256.8 101.1h1.0v1.3h-1.0zM300.3 102.7h1.6v1.5h-1.6zM351.9 99.2h1.2v1.2h-1.2zM302.3 107.8h1.1v1.0h-1.1zM311.3 97.4h1.3v1.3h-1.3zM254.9 102.9h1.5v1.1h-1.5zM248.0 97.1h0.9v1.2h-0.9zM324.0 99.1h1.0v0.9h-1.0zM303.5 98.3h1.2v1.1h-1.2zM275.3 105.7h1.7v0.9h-1.7zM306.5 107.2h1.1v0.9h-1.1zM274.9 101.6h1.6v1.4h-1.6zM273.0 104.4h1.4v1.3h-1.4zM330.7 107.6h1.4v0.9h-1.4zM312.0 102.1h1.7v0.9h-1.7zM249.9 96.9h0.9v1.4h-0.9zM321.7 101.3h1.0v1.0h-1.0zM356.4 104.1h1.4v1.4h-1.4zM285.9 98.2h1.3v1.0h-1.3zM326.8 104.0h0.9v1.1h-0.9zM296.8 99.4h1.2v1.1h-1.2zM271.2 98.6h1.2v1.1h-1.2zM330.9 97.0h1.3v1.2h-1.3zM273.4 100.3h0.9v1.2h-0.9zM330.2 104.8h0.9v1.5h-0.9zM259.0 99.9h1.7v1.0h-1.7zM328.9 100.8h1.1v1.2h-1.1zM363.2 101.2h1.5v0.9h-1.5zM272.4 98.1h0.9v1.4h-0.9zM342.1 106.1h1.5v0.9h-1.5zM271.4 103.2h0.9v1.1h-0.9zM252.5 97.3h0.9v0.8h-0.9zM348.6 105.7h0.9v0.8h-0.9zM362.4 106.3h1.7v1.3h-1.7zM283.9 100.8h1.6v1.1h-1.6zM271.8 105.5h1.4v1.3h-1.4zM247.7 103.1h1.0v1.0h-1.0zM304.7 105.0h1.0v1.1h-1.0zM312.7 105.9h1.4v1.3h-1.4zM254.9 102.2h1.7v1.3h-1.7zM281.0 99.6h1.1v0.9h-1.1zM308.3 107.8h1.3v1.1h-1.3zM285.0 107.8h1.5v0.8h-1.5zM361.5 97.5h0.9v1.4h-0.9zM306.2 97.2h0.9v0.9h-0.9zM291.4 103.5h1.3v1.3h-1.3zM310.6 96.9h1.8v1.3h-1.8zM343.6 96.6h1.5v1.3h-1.5zM331.0 97.2h1.0v1.0h-1.0z" fill="#ece0f4" opacity="0.7"/>
<path d="M341.6 107.1h0.8v1.1h-0.8zM312.2 107.1h1.5v0.9h-1.5zM357.1 105.2h1.1v0.8h-1.1zM302.0 103.3h1.1v1.2h-1.1zM346.9 100.5h1.2v1.4h-1.2zM269.5 104.3h1.6v1.2h-1.6zM306.3 102.7h1.6v0.9h-1.6zM347.8 100.3h0.9v0.9h-0.9zM261.4 105.2h1.1v1.0h-1.1zM315.7 105.3h1.7v1.1h-1.7zM323.4 103.8h0.8v0.9h-0.8zM274.0 107.2h1.2v0.9h-1.2zM367.1 104.9h1.4v1.4h-1.4zM345.4 104.4h1.7v0.9h-1.7zM366.6 96.6h1.0v1.2h-1.0zM319.5 105.8h1.3v1.3h-1.3zM316.0 106.2h1.1v1.4h-1.1zM365.3 99.7h1.0v1.1h-1.0zM265.9 106.4h1.0v1.3h-1.0zM359.0 97.0h1.1v0.9h-1.1zM353.6 101.6h1.8v1.1h-1.8zM309.4 97.0h1.4v1.4h-1.4zM351.6 107.9h1.3v1.3h-1.3zM254.6 105.3h0.9v1.1h-0.9zM334.2 104.9h1.0v1.4h-1.0zM266.4 100.1h1.1v1.1h-1.1zM287.0 99.2h1.8v1.4h-1.8zM269.8 101.3h1.3v0.8h-1.3zM317.1 96.6h1.0v1.4h-1.0zM249.2 106.7h1.1v1.2h-1.1zM367.9 107.0h1.8v1.5h-1.8zM281.5 102.7h0.9v1.1h-0.9zM252.4 101.8h1.5v1.2h-1.5zM365.2 102.8h1.7v1.2h-1.7zM269.6 100.5h1.1v1.4h-1.1zM360.5 107.1h1.0v1.2h-1.0zM355.3 102.2h1.4v1.0h-1.4zM336.3 106.3h1.3v1.5h-1.3zM308.5 98.7h0.8v1.0h-0.8zM366.7 102.3h1.2v1.4h-1.2zM363.9 97.8h1.4v1.1h-1.4zM296.0 105.6h1.7v1.5h-1.7zM291.0 102.3h1.4v1.2h-1.4zM281.6 101.5h1.6v1.2h-1.6zM365.2 99.3h1.4v1.2h-1.4zM319.3 100.7h1.3v0.9h-1.3zM303.3 98.9h1.4v1.5h-1.4zM340.1 99.0h1.1v1.4h-1.1zM310.5 101.2h0.9v1.3h-0.9z" fill="#ece0f4" opacity="0.5"/>
<path d="M322.1 98.0h1.4v1.3h-1.4zM313.1 96.6h1.3v1.4h-1.3zM315.2 96.8h1.3v1.4h-1.3zM338.8 103.1h1.4v0.9h-1.4zM350.5 101.1h0.9v1.5h-0.9zM246.3 99.0h1.2v1.0h-1.2zM302.4 107.6h1.7v1.1h-1.7zM363.3 107.7h1.6v1.3h-1.6zM348.3 96.7h1.4v1.2h-1.4zM317.7 98.3h1.6v1.3h-1.6zM354.8 96.7h1.6v0.9h-1.6zM341.8 102.5h1.7v1.4h-1.7zM348.1 97.5h1.7v1.0h-1.7zM353.1 102.6h1.4v1.5h-1.4zM267.3 108.0h1.2v1.4h-1.2zM327.2 102.3h1.6v0.9h-1.6zM246.9 98.8h1.8v0.9h-1.8zM360.2 99.2h0.8v1.0h-0.8zM302.9 106.3h1.0v1.0h-1.0zM265.6 102.7h1.2v1.4h-1.2zM347.6 102.1h0.9v1.5h-0.9zM254.8 105.5h1.2v1.0h-1.2zM290.7 98.2h1.6v1.0h-1.6zM355.8 100.0h1.2v1.1h-1.2zM307.6 98.8h1.3v1.0h-1.3zM267.7 105.0h1.3v1.5h-1.3zM261.4 106.0h1.5v0.9h-1.5zM319.5 99.1h1.1v0.8h-1.1zM262.3 96.6h1.0v1.4h-1.0zM280.8 107.2h0.9v1.0h-0.9zM264.7 107.5h1.2v1.3h-1.2zM257.4 100.3h0.9v1.1h-0.9zM274.7 103.3h1.4v0.8h-1.4zM254.5 101.7h0.9v1.3h-0.9zM260.0 98.0h0.8v1.4h-0.8zM345.2 99.3h1.1v0.9h-1.1zM282.4 100.8h1.0v0.9h-1.0zM341.9 97.8h1.3v1.4h-1.3zM324.9 102.1h1.3v1.3h-1.3zM312.8 100.6h1.0v0.9h-1.0zM292.7 102.5h0.8v0.9h-0.8zM283.5 102.7h1.0v1.0h-1.0zM281.7 97.8h1.6v1.4h-1.6zM261.7 107.4h1.5v1.3h-1.5zM277.3 102.4h0.9v1.1h-0.9zM315.7 99.6h1.2v1.2h-1.2zM368.0 98.9h1.3v0.9h-1.3zM317.2 100.6h1.4v1.5h-1.4zM255.1 101.1h0.9v1.4h-0.9zM353.8 99.2h1.2v1.5h-1.2zM266.3 101.5h1.7v0.9h-1.7zM327.5 102.2h1.0v1.0h-1.0zM265.0 107.2h1.6v1.3h-1.6zM302.6 97.0h1.3v1.1h-1.3zM341.1 101.6h1.4v0.9h-1.4zM296.6 106.0h1.3v0.8h-1.3zM257.0 98.2h1.5v1.4h-1.5zM278.2 97.4h1.5v0.9h-1.5z" fill="#ece0f4" opacity="0.6"/>
<path d="M310.7 102.7h1.3v1.4h-1.3zM323.6 102.3h0.8v1.3h-0.8zM278.1 99.3h0.9v1.1h-0.9zM316.7 102.5h1.0v1.5h-1.0zM325.2 98.7h1.7v0.9h-1.7zM287.4 101.8h1.8v1.1h-1.8zM300.2 97.8h1.4v1.5h-1.4zM341.2 104.5h1.8v1.1h-1.8zM285.0 104.1h1.8v0.8h-1.8zM258.8 100.8h1.7v1.1h-1.7zM291.6 104.9h1.4v1.2h-1.4zM319.8 105.9h0.9v1.5h-0.9zM255.6 106.6h1.2v1.4h-1.2zM357.3 103.9h1.4v1.4h-1.4zM289.1 103.7h1.6v1.4h-1.6zM292.2 101.1h1.3v0.8h-1.3zM248.2 100.5h0.8v0.8h-0.8zM292.2 100.6h1.8v1.0h-1.8zM277.2 99.9h1.0v1.2h-1.0zM323.7 97.7h0.9v0.9h-0.9zM275.5 101.5h0.9v0.9h-0.9zM275.9 104.3h1.5v0.9h-1.5zM306.0 98.7h1.5v1.2h-1.5zM309.2 98.0h1.7v1.1h-1.7zM253.5 102.4h1.5v1.3h-1.5zM360.7 105.4h1.5v1.3h-1.5zM247.9 102.1h1.4v1.2h-1.4zM266.3 107.2h0.9v1.0h-0.9z" fill="#ece0f4" opacity="0.9"/>
<path d="M275.3 100.4h1.2v1.0h-1.2zM276.6 103.6h1.4v1.4h-1.4zM366.1 96.8h1.6v1.0h-1.6zM328.9 97.6h1.4v1.1h-1.4zM360.9 107.5h1.5v1.4h-1.5zM327.3 96.7h1.5v1.5h-1.5zM325.2 104.9h1.3v1.3h-1.3zM266.0 106.1h1.1v1.1h-1.1zM287.3 103.6h1.3v1.2h-1.3zM275.7 102.1h1.0v1.3h-1.0zM262.4 105.3h1.5v1.5h-1.5zM267.4 103.1h1.0v1.4h-1.0zM311.1 102.2h1.7v1.4h-1.7zM294.0 100.2h1.8v0.9h-1.8zM291.6 100.9h0.9v1.2h-0.9zM331.2 100.4h1.4v0.9h-1.4zM364.2 105.6h1.4v1.4h-1.4zM302.5 104.6h1.5v1.3h-1.5zM367.1 107.9h0.8v1.4h-0.8zM317.0 105.3h1.6v1.3h-1.6zM255.1 106.1h1.0v1.3h-1.0zM313.2 100.9h1.5v1.4h-1.5zM256.1 101.4h1.4v1.1h-1.4zM357.4 102.9h1.6v0.9h-1.6z" fill="#ece0f4" opacity="0.4"/>
<path d="M271.9 113.8h1.3v0.9h-1.3zM259.6 119.4h1.3v0.9h-1.3zM357.1 118.4h1.3v0.9h-1.3zM299.3 114.2h0.9v1.0h-0.9zM288.2 110.1h0.9v1.3h-0.9zM259.5 114.8h1.3v0.9h-1.3zM261.4 119.7h1.5v1.2h-1.5zM342.9 119.0h1.1v1.1h-1.1zM272.2 121.5h1.3v1.0h-1.3zM306.1 118.6h1.5v1.0h-1.5zM313.1 111.5h1.5v1.5h-1.5z" fill="#f0e8f6" opacity="0.6"/>
<path d="M253.9 112.8h1.5v0.9h-1.5zM291.0 121.2h1.2v1.1h-1.2zM308.8 116.7h1.6v1.5h-1.6zM321.5 119.0h0.8v1.5h-0.8zM300.4 112.0h1.3v0.9h-1.3zM259.6 114.8h0.8v1.4h-0.8zM323.9 112.2h1.3v1.4h-1.3zM264.3 113.6h1.4v1.1h-1.4zM251.1 111.0h1.0v1.4h-1.0zM359.0 117.1h1.8v1.4h-1.8zM291.0 118.7h1.2v1.3h-1.2zM353.4 116.9h1.8v1.0h-1.8zM248.0 120.2h1.3v1.0h-1.3zM267.0 114.0h1.4v1.5h-1.4zM318.7 118.9h1.4v1.0h-1.4zM251.3 115.1h1.5v1.1h-1.5zM311.3 116.0h1.1v1.3h-1.1zM273.8 119.4h1.8v0.9h-1.8z" fill="#f0e8f6" opacity="0.5"/>
<path d="M261.1 118.7h1.1v0.8h-1.1zM264.2 119.8h1.1v0.9h-1.1zM306.5 111.9h1.1v1.0h-1.1zM351.4 119.7h1.2v0.9h-1.2zM264.3 116.3h1.5v1.3h-1.5zM356.4 121.5h1.3v0.8h-1.3zM338.0 120.8h1.0v1.1h-1.0zM250.6 121.9h0.9v0.9h-0.9zM246.2 113.4h1.7v1.3h-1.7z" fill="#f0e8f6" opacity="0.4"/>
<path d="M289.0 121.8h1.7v1.5h-1.7zM363.2 115.6h1.6v1.2h-1.6zM357.9 121.5h1.1v0.9h-1.1zM357.7 111.0h1.4v0.9h-1.4zM337.7 116.9h0.9v1.2h-0.9zM364.6 120.7h1.6v0.9h-1.6zM307.0 120.1h1.0v1.5h-1.0zM348.5 116.8h1.6v1.4h-1.6zM318.7 117.2h1.3v1.0h-1.3zM347.4 116.3h0.9v1.4h-0.9zM263.1 110.7h1.1v1.4h-1.1z" fill="#f0e8f6" opacity="0.7"/>
<path d="M362.6 113.1h1.0v1.4h-1.0zM337.9 121.6h1.5v1.4h-1.5zM255.5 119.7h1.4v1.2h-1.4zM337.9 118.5h1.6v1.4h-1.6zM278.5 119.0h1.1v1.3h-1.1zM319.5 113.5h1.8v1.3h-1.8zM345.0 118.2h1.2v1.0h-1.2zM323.7 116.5h0.8v1.0h-0.8zM358.6 111.6h1.5v1.4h-1.5zM363.8 114.6h1.8v1.3h-1.8zM344.3 115.5h1.2v1.3h-1.2zM303.8 117.2h1.2v1.1h-1.2zM296.5 114.7h1.3v1.1h-1.3zM246.9 113.3h1.6v0.9h-1.6zM354.2 110.2h1.0v0.9h-1.0zM323.3 118.8h1.4v1.3h-1.4zM255.0 120.2h1.5v0.9h-1.5zM327.2 111.0h1.4v1.0h-1.4z" fill="#f0e8f6" opacity="0.8"/>
<path d="M249.8 116.5h1.0v1.1h-1.0zM364.1 117.4h1.3v1.2h-1.3zM308.8 115.2h1.3v1.3h-1.3z" fill="#f0e8f6" opacity="0.9"/>
<path d="M330.0 119.6h1.5v0.9h-1.5zM367.1 121.6h1.0v1.1h-1.0zM344.5 110.4h1.7v1.4h-1.7zM328.8 112.7h1.3v0.9h-1.3zM306.7 111.1h1.6v0.8h-1.6zM318.8 119.7h0.9v1.2h-0.9zM310.3 119.7h1.0v1.4h-1.0zM268.8 121.9h1.4v1.0h-1.4zM317.9 116.6h0.8v1.1h-0.8zM297.0 121.8h1.1v1.0h-1.1zM271.1 120.3h1.2v1.5h-1.2zM286.6 118.4h1.2v1.1h-1.2z" fill="#8a70c0" opacity="0.5"/>
<path d="M340.5 117.1h1.5v0.9h-1.5zM349.2 113.6h0.9v1.2h-0.9zM359.7 113.2h1.6v1.3h-1.6zM318.2 120.9h1.4v1.3h-1.4zM309.4 112.3h1.0v0.8h-1.0zM346.8 111.6h0.9v1.4h-0.9zM288.8 121.4h1.8v0.8h-1.8zM285.0 110.1h0.8v1.1h-0.8zM313.9 110.9h1.5v1.0h-1.5zM267.5 119.5h1.6v1.0h-1.6z" fill="#8a70c0" opacity="0.7"/>
<path d="M359.1 110.3h1.1v1.1h-1.1zM261.8 115.0h1.8v1.3h-1.8zM308.9 121.2h1.1v0.8h-1.1zM332.2 113.6h1.4v0.8h-1.4zM275.8 112.8h1.4v1.5h-1.4zM348.7 110.3h1.0v1.3h-1.0zM335.7 111.8h1.7v1.2h-1.7zM341.5 114.0h1.6v1.1h-1.6zM359.1 121.2h1.5v1.4h-1.5zM346.1 113.1h1.4v1.0h-1.4zM353.2 118.3h1.0v1.0h-1.0zM321.0 121.2h1.2v1.0h-1.2zM286.1 121.8h0.9v1.3h-0.9zM338.8 115.1h1.0v1.1h-1.0zM362.5 119.7h0.8v0.9h-0.8z" fill="#8a70c0" opacity="0.6"/>
<path d="M301.3 112.0h1.6v1.2h-1.6zM258.0 120.8h1.3v1.4h-1.3zM280.4 118.7h0.9v1.4h-0.9zM288.8 121.7h1.0v1.1h-1.0zM280.1 114.8h0.8v0.8h-0.8zM304.3 116.6h1.3v1.3h-1.3zM357.2 120.4h1.3v0.8h-1.3zM342.9 116.5h1.6v0.9h-1.6zM290.1 121.7h1.7v1.1h-1.7zM328.9 111.4h1.4v1.2h-1.4zM269.8 116.9h1.6v1.0h-1.6zM349.4 117.0h0.9v0.9h-0.9z" fill="#8a70c0" opacity="0.8"/>
<path d="M359.8 122.0h1.1v1.1h-1.1zM282.4 110.7h1.8v1.0h-1.8zM341.7 110.9h0.9v0.9h-0.9zM286.7 119.0h1.7v1.5h-1.7zM322.0 112.8h1.4v1.3h-1.4zM310.5 111.8h1.6v1.1h-1.6zM330.9 121.7h1.1v1.1h-1.1zM349.8 112.4h0.9v1.5h-0.9z" fill="#8a70c0" opacity="0.9"/>
<path d="M333.1 119.6h1.6v1.2h-1.6zM359.4 111.4h1.7v1.5h-1.7zM250.4 112.5h1.4v1.3h-1.4z" fill="#8a70c0" opacity="0.4"/>
<path d="M246.6 87.5h0.9v1.2h-0.9zM306.2 88.0h1.7v1.0h-1.7zM308.5 85.0h0.9v1.1h-0.9zM315.1 85.2h1.3v0.8h-1.3zM253.5 85.5h1.6v1.3h-1.6zM261.9 87.9h1.5v1.3h-1.5zM263.5 87.2h1.2v0.9h-1.2zM303.5 85.4h1.0v0.9h-1.0zM360.7 85.1h1.4v1.4h-1.4zM266.1 86.4h1.5v1.5h-1.5zM248.3 85.7h1.3v0.9h-1.3zM360.3 85.9h1.0v0.8h-1.0z" fill="#c080c8" opacity="0.5"/>
<path d="M248.9 84.2h1.1v0.9h-1.1zM309.4 84.4h1.6v1.2h-1.6zM257.3 87.5h1.2v0.9h-1.2zM361.0 84.6h1.0v0.9h-1.0zM336.3 85.2h0.9v1.0h-0.9z" fill="#c080c8" opacity="0.9"/>
<path d="M287.7 86.1h1.5v0.8h-1.5zM301.0 85.4h1.2v1.3h-1.2zM313.6 85.3h1.0v1.4h-1.0zM278.7 85.7h1.8v1.3h-1.8zM252.7 84.9h1.4v1.0h-1.4zM357.8 84.6h1.8v0.8h-1.8z" fill="#c080c8" opacity="0.8"/>
<path d="M313.1 85.0h1.5v1.0h-1.5zM332.4 86.6h1.5v1.5h-1.5zM276.5 85.1h1.0v1.5h-1.0zM305.4 85.9h1.4v1.4h-1.4zM250.0 87.4h1.4v1.3h-1.4zM296.9 86.8h1.3v1.0h-1.3zM324.4 84.1h1.3v1.2h-1.3zM302.4 84.9h1.1v1.0h-1.1z" fill="#c080c8" opacity="0.6"/>
<path d="M267.2 85.1h1.0v1.1h-1.0z" fill="#c080c8" opacity="0.4"/>
<path d="M282.6 86.8h0.8v0.9h-0.8zM292.6 87.1h1.6v1.1h-1.6zM271.1 87.5h1.1v0.8h-1.1zM285.3 85.3h0.9v1.0h-0.9zM321.7 85.9h0.9v0.8h-0.9zM265.2 85.6h1.2v1.1h-1.2zM348.5 86.3h1.3v1.5h-1.3zM302.5 86.8h1.5v0.8h-1.5z" fill="#c080c8" opacity="0.7"/>
<path d="M246,46 L287.0,46 L287.0,46.0 L294.5,49.2 L305.7,48.1 L318.8,46.8 L326.2,49.6 L331.8,52.4 L341.2,51.5 L348.7,52.4 L359.9,54.3 L369.0,56.1 L369,56.1 L369,46 Z" fill="#f2eef4"/>
<path d="M287.0,46.0 L294.5,49.2 L305.7,48.1 L318.8,46.8 L326.2,49.6 L331.8,52.4 L341.2,51.5 L348.7,52.4 L359.9,54.3 L369.0,56.1" fill="none" stroke="#1e0a1c" stroke-width="1.5"/>
<path d="M287.0,47.4 L294.5,50.6 L305.7,49.5 L318.8,48.2 L326.2,51.0 L331.8,53.8 L341.2,52.9 L348.7,53.8 L359.9,55.7 L369.0,57.5" fill="none" stroke="#7a3a7a" stroke-width="0.8" opacity="0.6"/>
<path d="M330.0,46.8 L340.0,47.3 L348.7,48.1 L358.0,49.8 L365.5,51.5 L369.0,53.0" fill="none" stroke="#1e0a1c" stroke-width="1.2"/>
<rect x="92.00" y="153.70" width="123.70" height="82.40" fill="url(#h3)" />
<path d="M130.8 159.8L132.1 159.8L131.4 163.6L130.1 163.6zM119.2 166.5L120.8 166.5L119.9 172.7L118.4 172.7zM193.7 157.8L194.4 157.8L194.8 168.6L194.0 168.6zM190.3 158.0L191.0 158.0L191.0 165.6L190.3 165.6zM144.0 160.1L145.2 160.1L145.4 167.6L144.2 167.6zM160.1 168.2L161.7 168.2L161.9 172.3L160.3 172.3zM116.0 163.6L117.6 163.6L117.1 167.2L115.5 167.2zM99.8 157.0L100.7 157.0L100.4 162.5L99.5 162.5zM202.4 157.1L203.2 157.1L203.1 167.4L202.3 167.4zM198.8 168.1L199.4 168.1L198.9 171.9L198.3 171.9zM108.3 156.7L109.3 156.7L108.3 162.6L107.3 162.6zM185.4 162.7L186.5 162.7L186.3 168.9L185.2 168.9zM156.2 158.5L157.5 158.5L157.6 164.1L156.2 164.1zM177.9 162.3L179.5 162.3L179.2 168.5L177.7 168.5zM199.9 165.6L200.6 165.6L200.7 174.7L200.1 174.7zM165.1 157.4L166.9 157.4L166.7 160.5L164.9 160.5zM130.6 157.0L131.8 157.0L131.1 167.9L130.0 167.9zM158.3 156.9L159.2 156.9L158.1 162.9L157.3 162.9zM117.6 158.9L118.3 158.9L118.3 164.1L117.6 164.1zM132.2 156.2L133.2 156.2L132.9 162.5L132.0 162.5zM178.1 156.8L179.0 156.8L178.2 163.9L177.4 163.9zM102.1 157.0L103.9 157.0L103.7 162.6L101.9 162.6zM103.5 159.0L104.2 159.0L103.2 168.6L102.5 168.6zM192.5 165.5L193.3 165.5L192.5 171.4L191.6 171.4zM121.8 163.3L123.3 163.3L123.3 170.0L121.8 170.0zM173.8 162.8L174.6 162.8L174.3 173.3L173.4 173.3z" fill="#f4eef0" opacity="0.7"/>
<path d="M164.5 162.1L165.3 162.1L165.5 171.6L164.7 171.6zM133.9 160.0L135.1 160.0L133.9 169.2L132.8 169.2zM188.6 167.0L189.2 167.0L188.3 173.8L187.7 173.8zM212.4 157.3L213.0 157.3L213.2 165.2L212.6 165.2zM174.1 167.1L174.8 167.1L174.9 171.9L174.2 171.9zM107.3 163.8L108.6 163.8L108.5 167.7L107.2 167.7zM212.5 163.8L214.1 163.8L213.5 171.2L211.8 171.2zM154.9 168.2L155.8 168.2L155.6 172.6L154.8 172.6zM203.5 167.0L204.6 167.0L204.6 173.2L203.6 173.2zM190.8 160.1L192.2 160.1L192.4 170.0L191.1 170.0zM150.6 167.8L152.3 167.8L151.9 173.2L150.2 173.2zM205.0 156.4L205.7 156.4L206.0 162.8L205.3 162.8zM96.8 161.7L97.6 161.7L97.2 170.5L96.4 170.5zM131.5 166.3L133.4 166.3L132.7 170.4L130.8 170.4zM143.2 160.4L144.8 160.4L145.1 166.1L143.4 166.1zM182.2 164.3L183.0 164.3L182.4 172.7L181.5 172.7zM159.9 160.7L161.1 160.7L160.4 164.5L159.2 164.5zM201.5 157.1L202.6 157.1L202.0 164.6L200.8 164.6zM145.6 165.3L146.4 165.3L146.3 174.3L145.5 174.3zM106.6 165.2L108.3 165.2L107.4 169.4L105.8 169.4zM209.1 158.5L210.7 158.5L210.7 168.0L209.1 168.0zM161.5 161.7L163.3 161.7L162.2 165.0L160.5 165.0zM183.0 167.7L184.6 167.7L183.5 173.5L181.9 173.5zM193.4 157.7L194.3 157.7L194.2 166.4L193.2 166.4zM167.9 167.3L169.2 167.3L168.8 173.8L167.5 173.8zM137.2 162.6L137.8 162.6L137.8 172.8L137.2 172.8zM102.2 162.1L103.4 162.1L102.8 165.3L101.7 165.3zM187.7 161.7L189.2 161.7L189.1 166.2L187.7 166.2zM185.2 156.9L185.9 156.9L185.7 161.6L185.0 161.6z" fill="#f4eef0" opacity="0.4"/>
<path d="M103.6 159.4L104.7 159.4L104.0 168.2L103.0 168.2zM163.6 158.7L165.1 158.7L163.9 167.2L162.4 167.2zM183.1 157.4L184.4 157.4L184.6 168.0L183.3 168.0zM184.6 159.7L185.4 159.7L185.4 166.8L184.6 166.8zM132.0 163.8L133.4 163.8L133.5 168.3L132.2 168.3zM180.3 163.8L181.7 163.8L180.8 174.7L179.4 174.7zM121.0 161.3L122.9 161.3L122.0 165.7L120.1 165.7zM189.3 159.9L190.5 159.9L190.4 165.5L189.2 165.5zM144.0 162.5L144.9 162.5L144.3 166.3L143.3 166.3zM198.6 167.4L199.7 167.4L200.1 170.7L198.9 170.7zM130.7 162.6L132.3 162.6L132.6 173.1L130.9 173.1zM195.7 168.3L197.2 168.3L197.1 173.5L195.6 173.5zM208.4 159.2L210.1 159.2L210.4 169.2L208.7 169.2zM101.0 163.7L102.1 163.7L102.1 174.4L101.0 174.4zM205.3 168.4L207.1 168.4L207.0 172.5L205.2 172.5zM197.7 156.3L198.7 156.3L198.4 166.6L197.4 166.6zM209.4 164.7L210.8 164.7L210.1 173.4L208.6 173.4zM156.3 167.7L157.9 167.7L157.7 178.6L156.1 178.6zM123.4 157.9L124.4 157.9L124.3 168.7L123.3 168.7zM163.9 157.6L165.0 157.6L165.2 168.0L164.1 168.0zM143.6 163.5L145.3 163.5L145.4 170.2L143.6 170.2zM113.6 156.2L115.0 156.2L114.6 165.6L113.2 165.6zM113.7 167.9L114.3 167.9L113.8 171.3L113.3 171.3zM145.7 161.8L146.7 161.8L145.6 171.6L144.5 171.6zM185.3 156.2L185.8 156.2L184.7 162.6L184.2 162.6zM173.7 156.7L174.3 156.7L174.0 163.4L173.3 163.4zM96.4 160.3L97.1 160.3L96.8 171.1L96.0 171.1zM143.5 164.1L144.5 164.1L144.1 169.6L143.1 169.6z" fill="#f4eef0" opacity="0.8"/>
<path d="M127.5 165.2L128.5 165.2L128.6 174.5L127.6 174.5zM117.1 164.7L118.3 164.7L118.3 169.1L117.1 169.1zM184.5 160.7L186.3 160.7L186.5 170.3L184.7 170.3zM96.1 162.4L96.9 162.4L95.9 166.4L95.0 166.4zM142.0 163.7L143.7 163.7L143.8 170.4L142.0 170.4zM93.6 161.2L94.2 161.2L93.8 170.8L93.2 170.8zM175.5 158.1L176.2 158.1L176.2 165.9L175.5 165.9zM129.1 157.9L129.9 157.9L130.0 161.4L129.2 161.4zM105.4 160.5L107.3 160.5L107.4 171.2L105.5 171.2z" fill="#f4eef0" opacity="0.3"/>
<path d="M136.3 161.3L137.1 161.3L136.9 164.6L136.1 164.6zM183.1 157.4L183.7 157.4L182.6 162.2L182.0 162.2zM207.1 159.2L207.8 159.2L208.1 168.6L207.4 168.6zM211.8 165.8L212.4 165.8L211.2 174.5L210.7 174.5zM174.7 161.5L175.7 161.5L175.4 168.7L174.4 168.7zM125.6 158.0L127.4 158.0L127.3 161.8L125.5 161.8zM201.2 163.3L203.0 163.3L202.3 170.6L200.6 170.6zM153.1 167.6L155.0 167.6L155.0 174.6L153.1 174.6zM101.3 168.0L102.0 168.0L102.0 176.4L101.3 176.4zM196.9 168.7L198.6 168.7L198.2 174.2L196.5 174.2zM102.3 162.7L103.0 162.7L103.0 171.7L102.3 171.7zM129.5 166.9L131.1 166.9L130.2 172.4L128.6 172.4zM165.9 156.6L167.3 156.6L166.2 167.4L164.8 167.4zM207.8 158.0L209.3 158.0L209.0 168.4L207.5 168.4zM198.4 164.8L199.7 164.8L199.9 174.3L198.6 174.3zM179.4 161.2L180.4 161.2L180.7 168.2L179.6 168.2zM125.8 158.4L126.4 158.4L125.2 165.5L124.6 165.5zM203.6 157.7L205.5 157.7L205.7 162.2L203.8 162.2zM161.2 165.5L162.7 165.5L162.1 170.4L160.7 170.4zM181.1 164.5L182.6 164.5L182.7 171.6L181.2 171.6zM150.2 156.9L151.3 156.9L150.9 163.9L149.8 163.9zM150.8 161.6L152.2 161.6L151.3 170.0L149.8 170.0zM155.5 165.7L157.1 165.7L156.6 175.5L155.0 175.5zM97.1 160.5L97.9 160.5L97.3 168.9L96.5 168.9zM181.4 164.8L183.3 164.8L182.8 173.0L180.9 173.0zM186.3 162.6L186.9 162.6L186.1 166.9L185.4 166.9zM192.5 158.9L193.2 158.9L192.2 163.7L191.5 163.7zM171.1 164.4L172.6 164.4L171.8 167.8L170.3 167.8zM141.5 156.0L142.9 156.0L142.4 160.1L141.0 160.1zM144.9 169.0L146.5 169.0L145.7 177.9L144.0 177.9zM194.4 162.0L196.1 162.0L195.1 171.5L193.4 171.5zM114.2 167.5L115.4 167.5L115.2 170.8L114.0 170.8zM124.7 161.6L126.5 161.6L126.8 165.1L125.0 165.1zM189.4 168.2L190.2 168.2L190.5 173.5L189.7 173.5zM211.0 160.2L212.1 160.2L211.4 168.7L210.3 168.7z" fill="#f4eef0" opacity="0.5"/>
<path d="M158.7 158.0L160.6 158.0L160.1 167.9L158.3 167.9zM188.5 166.5L190.0 166.5L189.2 172.9L187.7 172.9zM198.3 159.1L199.7 159.1L199.7 162.4L198.3 162.4zM119.4 166.0L120.5 166.0L119.9 174.3L118.8 174.3zM185.6 157.6L187.0 157.6L187.0 164.9L185.6 164.9zM105.4 163.7L106.3 163.7L106.1 168.7L105.3 168.7zM169.7 167.0L171.5 167.0L171.8 173.8L169.9 173.8zM168.6 162.4L170.1 162.4L170.1 171.6L168.6 171.6zM156.2 163.5L158.1 163.5L157.5 168.0L155.7 168.0zM214.4 166.5L215.7 166.5L216.1 170.4L214.7 170.4zM204.9 162.5L206.4 162.5L205.6 170.3L204.2 170.3zM126.6 157.4L127.7 157.4L126.7 168.1L125.6 168.1zM175.7 168.7L177.2 168.7L177.3 178.8L175.7 178.8zM179.9 160.7L180.6 160.7L179.6 169.7L178.9 169.7zM157.7 161.5L158.3 161.5L157.8 169.8L157.1 169.8zM101.4 164.5L102.4 164.5L102.1 175.2L101.1 175.2zM174.2 164.9L175.8 164.9L176.1 174.8L174.5 174.8zM138.4 166.1L139.2 166.1L138.5 176.8L137.7 176.8zM146.5 157.3L147.4 157.3L147.8 166.9L146.8 166.9zM118.4 168.8L120.2 168.8L119.3 173.0L117.6 173.0zM186.8 162.1L188.2 162.1L187.3 166.5L185.9 166.5zM129.9 169.0L130.9 169.0L130.6 178.9L129.6 178.9zM137.2 158.7L137.8 158.7L137.3 164.5L136.6 164.5zM150.0 168.7L151.4 168.7L150.7 175.1L149.3 175.1zM127.8 168.1L129.0 168.1L129.0 176.8L127.8 176.8zM174.7 159.6L176.3 159.6L175.3 170.6L173.8 170.6zM180.0 159.9L180.7 159.9L180.5 167.3L179.8 167.3z" fill="#f4eef0" opacity="0.6"/>
<path d="M202.4 165.7h1.2v7.2h-1.2zM212.8 166.9h0.7v7.4h-0.7zM162.7 171.6h0.8v6.7h-0.8zM146.8 163.7h0.7v7.8h-0.7zM156.9 162.6h1.0v7.0h-1.0zM120.7 167.8h0.8v12.9h-0.8zM188.5 161.8h0.7v6.0h-0.7zM131.6 169.8h0.9v13.7h-0.9zM143.1 172.8h0.7v6.7h-0.7zM183.2 165.6h0.6v7.0h-0.6zM112.9 165.8h0.6v13.3h-0.6zM194.4 162.2h1.1v7.2h-1.1zM107.4 159.3h0.9v11.4h-0.9zM113.9 169.7h0.9v7.4h-0.9zM98.8 164.5h1.1v8.0h-1.1zM178.1 168.5h1.0v5.8h-1.0zM148.5 167.7h0.6v8.7h-0.6zM189.6 163.4h0.9v6.1h-0.9zM140.3 160.7h1.1v7.7h-1.1zM134.8 168.4h1.0v10.1h-1.0zM163.0 166.6h1.1v8.2h-1.1z" fill="#3a1210" opacity="0.5"/>
<path d="M134.5 172.7h0.9v11.3h-0.9zM155.4 169.7h1.2v6.2h-1.2zM94.9 162.5h0.9v8.2h-0.9zM95.5 168.6h0.7v8.9h-0.7zM105.4 172.7h1.0v8.8h-1.0zM114.4 161.9h0.9v7.9h-0.9z" fill="#3a1210" opacity="0.7"/>
<path d="M105.1 165.4h1.0v5.3h-1.0zM178.7 164.3h1.2v9.2h-1.2zM184.7 156.4h1.0v7.2h-1.0zM192.9 159.3h0.8v9.6h-0.8zM176.4 159.3h0.7v8.8h-0.7zM186.2 160.3h0.9v5.1h-0.9zM152.2 165.6h0.9v6.6h-0.9zM119.1 157.3h1.0v12.2h-1.0zM182.9 162.0h1.0v6.5h-1.0zM181.2 157.9h1.1v8.7h-1.1zM179.9 164.9h0.8v13.2h-0.8zM138.5 159.2h1.0v12.1h-1.0zM188.4 167.6h1.2v10.3h-1.2z" fill="#3a1210" opacity="0.4"/>
<path d="M135.8 162.0h0.8v11.5h-0.8zM94.5 166.0h0.9v10.1h-0.9zM120.3 164.2h1.1v13.6h-1.1zM156.0 169.1h1.1v11.1h-1.1zM194.9 162.3h0.8v5.8h-0.8zM153.4 164.7h0.7v7.1h-0.7zM104.7 171.7h1.0v10.0h-1.0zM147.2 157.0h0.7v10.7h-0.7zM131.2 164.2h0.6v5.3h-0.6zM126.0 157.1h1.0v10.7h-1.0zM172.3 173.3h0.6v10.7h-0.6zM103.5 168.9h0.8v13.9h-0.8zM191.2 165.1h1.0v8.9h-1.0zM200.2 163.4h0.7v8.8h-0.7z" fill="#3a1210" opacity="0.6"/>
<path d="M141.5 163.2h0.7v9.3h-0.7zM142.5 158.2h1.0v8.8h-1.0z" fill="#3a1210" opacity="0.3"/>
<path d="M149.7 182.0h1.1v5.7h-1.1zM211.2 181.6h0.8v6.3h-0.8zM190.4 181.7h0.9v5.2h-0.9zM166.4 181.9h0.7v7.2h-0.7zM180.2 181.1h1.0v8.2h-1.0z" fill="#e0a0d8" opacity="0.3"/>
<path d="M106.4 181.4h0.9v5.0h-0.9zM203.9 181.1h1.1v6.3h-1.1zM159.4 181.6h1.1v6.3h-1.1zM164.6 181.4h0.6v4.7h-0.6zM97.4 181.9h1.2v6.0h-1.2zM124.2 181.8h0.8v3.5h-0.8z" fill="#e8c8ec" opacity="0.4"/>
<path d="M105.9 181.7h0.9v4.7h-0.9zM195.0 181.7h1.2v6.6h-1.2zM97.0 181.6h0.7v6.4h-0.7zM182.3 181.3h0.8v5.6h-0.8zM177.7 181.7h1.0v6.2h-1.0z" fill="#e8c8ec" opacity="0.3"/>
<path d="M144.3 181.2h1.2v4.9h-1.2zM125.1 181.6h0.8v6.6h-0.8zM150.0 181.5h0.7v5.7h-0.7zM168.5 181.6h1.0v7.8h-1.0zM213.0 181.9h1.2v4.5h-1.2zM120.8 181.3h0.8v6.7h-0.8z" fill="#e0a0d8" opacity="0.5"/>
<path d="M92.8 181.1h0.9v7.1h-0.9zM135.1 181.0h0.8v8.4h-0.8zM112.2 181.6h0.7v4.1h-0.7z" fill="#e8c8ec" opacity="0.5"/>
<path d="M118.2 181.6h0.9v7.6h-0.9zM119.8 181.5h1.2v6.3h-1.2zM129.4 181.7h0.7v7.2h-0.7zM111.5 181.8h1.1v5.1h-1.1zM170.1 181.4h0.9v3.4h-0.9zM152.4 181.3h1.2v6.6h-1.2zM171.9 181.2h1.2v4.4h-1.2zM102.5 181.7h1.1v7.2h-1.1z" fill="#d070b8" opacity="0.3"/>
<path d="M190.5 181.4h0.6v4.8h-0.6zM211.1 181.2h1.1v7.2h-1.1zM100.8 181.9h1.0v4.3h-1.0zM112.9 182.0h0.6v6.0h-0.6z" fill="#e0a0d8" opacity="0.4"/>
<path d="M147.2 181.7h0.9v3.1h-0.9zM132.4 181.7h0.9v3.4h-0.9zM143.0 181.6h0.8v5.6h-0.8z" fill="#d070b8" opacity="0.4"/>
<path d="M174.9 181.7h0.8v7.5h-0.8zM95.6 181.4h0.9v3.2h-0.9zM179.9 181.6h0.7v4.4h-0.7zM102.4 181.8h0.8v3.0h-0.8z" fill="#e8c8ec" opacity="0.2"/>
<path d="M114.4 181.7h0.9v4.2h-0.9z" fill="#d070b8" opacity="0.5"/>
<path d="M187.1 181.9h1.1v5.3h-1.1z" fill="#d070b8" opacity="0.2"/>
<path d="M102.8 181.0h1.1v7.7h-1.1zM102.6 181.7h0.9v5.4h-0.9zM173.9 181.7h1.1v5.8h-1.1z" fill="#e0a0d8" opacity="0.2"/>
<path d="M107.0 210.5h1.6v0.9h-1.6zM197.1 204.0h1.2v1.5h-1.2zM170.2 212.0h1.3v1.2h-1.3zM203.4 210.9h1.1v1.0h-1.1zM94.3 202.7h1.1v1.4h-1.1zM214.6 209.4h1.7v1.3h-1.7zM140.9 209.1h1.5v1.1h-1.5zM174.1 213.5h1.3v1.2h-1.3zM157.9 209.3h1.1v1.0h-1.1zM191.6 202.3h0.9v1.0h-0.9zM144.3 203.6h1.7v1.5h-1.7zM180.3 207.4h1.0v1.0h-1.0zM102.6 203.3h1.2v0.9h-1.2zM149.1 212.1h0.9v1.3h-0.9zM170.9 202.3h1.6v1.1h-1.6zM168.0 206.0h1.2v1.3h-1.2zM165.9 207.7h0.9v1.4h-0.9zM137.7 204.8h0.9v1.3h-0.9zM188.9 211.0h1.1v1.0h-1.1zM137.0 202.3h1.5v1.4h-1.5zM135.2 209.8h1.0v1.1h-1.0zM213.0 210.5h1.5v1.0h-1.5zM142.7 206.4h1.5v1.1h-1.5zM161.5 212.9h1.5v1.0h-1.5zM169.8 205.0h1.7v0.8h-1.7zM113.9 209.2h1.1v0.8h-1.1zM93.7 212.0h0.9v0.9h-0.9zM112.0 209.6h0.9v1.2h-0.9zM212.3 205.5h1.5v0.8h-1.5zM150.8 206.9h1.0v1.0h-1.0zM156.3 205.8h1.0v1.2h-1.0zM139.8 213.9h1.0v0.9h-1.0zM184.3 210.0h1.4v1.0h-1.4zM189.6 213.2h1.1v0.9h-1.1zM206.2 209.7h1.1v1.3h-1.1zM109.8 201.7h1.7v1.5h-1.7zM214.7 206.2h1.7v0.9h-1.7zM195.8 211.3h1.4v1.3h-1.4zM130.2 202.8h1.6v1.5h-1.6zM104.4 211.6h0.9v1.0h-0.9zM178.9 208.4h1.7v1.3h-1.7zM122.5 213.3h1.5v1.1h-1.5z" fill="#e8dcf0" opacity="0.6"/>
<path d="M201.8 207.9h1.4v1.2h-1.4zM189.0 203.0h1.1v1.4h-1.1zM144.4 208.8h0.9v0.9h-0.9zM181.7 212.7h1.3v1.1h-1.3zM143.0 202.8h1.6v1.4h-1.6zM154.6 213.9h0.9v1.2h-0.9zM123.8 202.6h1.4v1.0h-1.4zM147.0 213.1h1.1v1.2h-1.1zM142.0 207.0h1.2v1.3h-1.2zM174.0 207.9h1.8v1.1h-1.8zM129.2 204.1h1.5v1.4h-1.5zM181.3 201.6h1.4v0.9h-1.4zM209.0 203.2h1.1v1.2h-1.1zM181.4 206.7h1.8v1.2h-1.8zM127.0 203.6h1.0v1.4h-1.0zM165.1 210.5h1.1v1.4h-1.1zM134.8 209.9h0.9v1.4h-0.9zM141.7 208.4h1.5v1.2h-1.5zM120.2 213.2h1.0v1.1h-1.0zM132.5 204.2h1.3v1.2h-1.3zM112.6 207.3h1.1v1.0h-1.1zM118.8 201.5h1.2v1.1h-1.2zM105.0 205.8h1.5v0.9h-1.5zM201.1 205.5h1.5v1.2h-1.5zM105.7 207.7h1.5v0.9h-1.5zM186.3 213.8h0.9v0.9h-0.9zM147.3 212.2h0.9v1.0h-0.9zM183.4 212.1h0.8v1.4h-0.8zM139.1 208.3h0.9v0.9h-0.9zM161.3 205.0h1.7v1.3h-1.7zM104.2 212.5h0.8v1.5h-0.8zM178.5 212.9h1.4v1.2h-1.4zM207.5 205.6h1.4v1.2h-1.4zM125.8 211.7h1.5v1.1h-1.5zM126.8 207.8h1.1v1.4h-1.1zM211.4 211.3h0.8v1.4h-0.8zM204.6 206.9h1.0v1.4h-1.0zM200.6 201.5h1.4v1.4h-1.4zM192.9 205.5h0.9v1.1h-0.9zM145.8 213.2h1.7v1.1h-1.7zM147.5 210.0h1.1v1.3h-1.1zM147.7 211.2h0.9v0.9h-0.9zM175.9 211.4h0.9v1.4h-0.9zM122.6 212.6h1.0v1.5h-1.0zM157.1 214.0h1.8v1.2h-1.8zM185.0 210.8h1.6v1.2h-1.6zM151.3 208.3h1.6v1.3h-1.6zM146.5 212.6h1.1v1.3h-1.1zM127.1 202.6h0.8v1.4h-0.8zM191.9 213.2h1.4v1.0h-1.4zM195.8 203.3h1.3v1.2h-1.3zM153.5 212.2h1.5v1.4h-1.5zM114.8 206.6h1.7v0.8h-1.7zM213.7 206.6h1.6v1.1h-1.6zM205.4 207.7h1.4v1.2h-1.4zM196.6 204.1h1.0v1.3h-1.0zM179.2 206.4h1.6v1.3h-1.6zM142.3 205.9h1.3v1.4h-1.3zM207.6 211.5h1.8v1.2h-1.8zM186.2 204.7h1.2v0.8h-1.2zM141.5 205.5h0.9v1.0h-0.9zM210.0 205.7h0.9v1.4h-0.9z" fill="#e8dcf0" opacity="0.7"/>
<path d="M206.3 214.0h1.0v1.3h-1.0zM146.8 201.7h1.2v1.2h-1.2zM158.1 206.0h1.3v1.0h-1.3zM133.8 202.0h1.2v1.1h-1.2zM159.9 206.4h1.1v1.2h-1.1zM173.4 213.9h1.2v1.1h-1.2zM102.6 204.5h1.7v1.5h-1.7zM188.0 202.2h0.9v1.4h-0.9zM111.9 208.7h1.6v1.3h-1.6zM114.7 210.5h1.6v0.9h-1.6zM118.7 203.5h1.7v1.0h-1.7zM96.3 211.5h0.9v1.4h-0.9zM146.5 210.2h0.8v1.4h-0.8zM201.1 202.4h1.5v0.9h-1.5zM135.9 210.9h1.4v0.8h-1.4zM117.4 211.0h0.9v0.9h-0.9zM159.2 208.2h1.7v1.3h-1.7zM94.8 205.6h1.4v1.1h-1.4zM146.4 201.5h1.5v0.8h-1.5zM149.1 201.9h1.6v1.1h-1.6zM102.8 206.5h1.0v1.3h-1.0zM197.8 207.4h1.1v1.5h-1.1zM116.4 209.0h1.1v1.0h-1.1zM146.1 203.7h1.0v1.4h-1.0zM203.9 204.2h1.2v1.1h-1.2zM161.9 213.9h1.6v1.5h-1.6zM213.7 210.7h0.9v1.3h-0.9zM160.6 212.5h0.8v1.2h-0.8zM183.9 209.2h1.0v1.1h-1.0z" fill="#e8dcf0" opacity="0.4"/>
<path d="M171.7 205.2h1.3v1.0h-1.3zM210.8 203.2h1.7v1.0h-1.7zM159.0 205.0h1.0v1.4h-1.0zM96.6 206.7h1.1v1.2h-1.1zM150.3 205.5h1.0v1.4h-1.0zM189.7 208.2h0.9v1.0h-0.9zM108.8 210.8h1.3v0.9h-1.3zM157.1 206.5h1.6v1.3h-1.6zM149.5 204.1h0.9v0.9h-0.9zM198.0 209.7h1.4v1.1h-1.4zM113.9 204.4h1.4v1.3h-1.4zM199.8 204.3h1.5v1.1h-1.5zM137.2 205.9h1.7v1.0h-1.7zM155.9 209.3h1.2v1.2h-1.2zM162.8 213.6h1.2v1.3h-1.2zM125.3 205.1h1.6v1.0h-1.6zM178.5 208.8h1.5v0.9h-1.5zM179.9 204.9h1.3v1.5h-1.3zM172.4 205.3h0.9v1.1h-0.9zM168.0 204.2h1.0v1.1h-1.0zM156.9 210.6h1.0v1.2h-1.0zM198.5 208.8h1.4v1.2h-1.4zM202.3 207.6h1.1v1.1h-1.1zM169.3 211.9h1.3v1.4h-1.3zM142.5 205.9h1.4v1.5h-1.4zM191.6 202.6h0.9v1.5h-0.9zM208.8 206.4h1.0v1.4h-1.0zM159.6 213.2h0.8v1.5h-0.8zM144.9 206.7h1.4v1.2h-1.4zM147.3 212.6h1.4v1.3h-1.4zM93.5 211.6h1.0v1.2h-1.0zM151.3 207.8h1.1v1.5h-1.1zM206.8 213.1h1.4v1.3h-1.4zM114.7 212.7h1.2v1.4h-1.2zM210.3 203.2h1.4v0.9h-1.4zM197.0 208.2h1.4v1.2h-1.4zM142.2 207.7h1.7v1.3h-1.7zM160.0 203.5h1.8v1.1h-1.8zM157.0 205.4h1.4v1.4h-1.4zM113.3 209.8h0.9v1.2h-0.9zM116.5 208.9h1.0v1.3h-1.0zM212.6 207.1h1.0v1.4h-1.0zM112.0 212.1h1.5v1.0h-1.5zM128.1 204.1h1.7v1.3h-1.7zM122.4 211.0h1.6v0.9h-1.6zM213.6 210.0h1.2v1.4h-1.2zM187.4 212.1h1.6v1.4h-1.6zM121.4 212.8h0.8v1.1h-0.8zM150.3 204.2h1.1v1.0h-1.1zM125.1 203.5h1.2v1.3h-1.2zM174.7 206.6h1.6v1.2h-1.6zM183.0 213.6h1.6v1.1h-1.6zM113.7 207.2h1.5v1.3h-1.5zM176.8 206.3h1.2v0.9h-1.2zM158.5 204.8h1.6v1.4h-1.6zM93.0 207.2h1.4v1.3h-1.4zM161.5 208.3h1.3v1.3h-1.3zM204.4 212.7h1.4v1.2h-1.4zM160.3 213.2h1.0v1.5h-1.0zM196.1 205.3h1.8v0.9h-1.8zM150.4 210.4h1.3v1.0h-1.3zM131.1 201.7h1.4v1.2h-1.4zM116.2 212.4h1.8v1.4h-1.8zM150.7 203.9h1.6v0.9h-1.6zM96.9 211.8h0.9v1.4h-0.9zM137.2 212.6h1.2v1.4h-1.2zM213.5 205.5h1.4v1.4h-1.4z" fill="#e8dcf0" opacity="0.5"/>
<path d="M118.7 212.2h0.9v0.8h-0.9zM92.2 205.0h1.4v1.4h-1.4zM132.7 201.8h1.0v1.2h-1.0zM187.8 213.6h1.0v1.3h-1.0zM169.6 202.1h1.7v1.2h-1.7zM164.4 212.4h0.9v0.9h-0.9zM139.2 204.8h1.3v0.8h-1.3zM145.0 207.9h1.7v1.1h-1.7zM93.4 206.1h1.7v1.2h-1.7zM101.8 211.3h1.7v1.5h-1.7zM176.7 213.5h1.1v1.2h-1.1zM119.0 201.7h1.0v1.1h-1.0zM200.7 210.3h1.1v1.3h-1.1zM209.4 207.8h1.8v1.3h-1.8zM95.8 201.7h1.1v1.5h-1.1zM200.7 204.4h1.2v1.0h-1.2zM120.0 210.8h0.8v1.2h-0.8zM196.5 208.3h1.6v0.8h-1.6zM96.8 205.4h1.8v1.0h-1.8zM147.4 209.7h1.5v0.9h-1.5zM177.8 206.4h1.1v1.1h-1.1zM156.6 211.8h1.1v0.8h-1.1zM149.5 203.8h1.7v1.4h-1.7zM172.5 208.5h0.9v0.9h-0.9zM179.4 203.2h1.5v1.2h-1.5zM123.4 206.7h1.4v1.4h-1.4zM161.4 202.7h1.7v1.4h-1.7zM138.4 204.6h1.5v1.4h-1.5zM141.1 208.5h1.7v1.0h-1.7zM168.7 211.6h1.0v0.9h-1.0zM113.8 202.7h1.4v0.9h-1.4zM156.1 205.3h1.6v1.0h-1.6zM148.4 203.2h1.5v1.1h-1.5z" fill="#e8dcf0" opacity="0.9"/>
<path d="M191.6 213.2h1.4v1.3h-1.4zM182.9 210.0h1.2v1.1h-1.2zM147.8 208.0h1.2v1.5h-1.2zM111.8 203.1h1.7v1.2h-1.7zM206.2 205.8h1.1v0.9h-1.1zM109.0 203.0h0.9v1.2h-0.9zM147.2 205.3h1.3v1.3h-1.3zM144.0 212.7h1.7v1.4h-1.7zM120.3 203.0h1.4v0.9h-1.4zM155.4 206.3h0.9v1.1h-0.9zM101.8 213.7h1.0v1.3h-1.0zM92.1 208.1h1.3v1.2h-1.3zM181.0 204.1h1.7v0.9h-1.7zM132.1 202.8h0.9v1.4h-0.9zM141.0 210.2h1.6v1.0h-1.6zM132.8 213.8h1.7v0.8h-1.7zM108.8 211.3h1.4v0.9h-1.4zM197.3 202.7h1.7v1.3h-1.7zM129.0 201.6h1.4v1.2h-1.4zM188.0 203.3h0.9v0.9h-0.9zM100.8 213.8h1.1v1.2h-1.1zM161.7 213.9h1.2v1.0h-1.2zM153.7 207.2h1.2v1.5h-1.2zM209.3 203.6h0.9v0.8h-0.9zM121.8 201.7h1.1v1.4h-1.1zM132.0 204.7h1.4v1.0h-1.4zM200.4 208.3h1.7v0.8h-1.7zM189.5 204.0h1.2v1.1h-1.2zM117.4 208.2h1.4v0.9h-1.4zM119.5 206.0h1.2v1.0h-1.2zM138.9 207.6h1.3v1.2h-1.3zM188.5 213.9h1.5v1.3h-1.5zM123.5 205.2h1.7v1.0h-1.7zM182.0 201.8h1.7v1.2h-1.7zM126.2 212.7h1.2v1.3h-1.2zM158.6 204.2h1.1v0.8h-1.1zM138.8 205.2h1.4v1.0h-1.4zM135.0 208.9h1.3v0.9h-1.3zM197.3 211.7h1.0v1.1h-1.0zM127.5 210.1h0.9v0.8h-0.9zM107.6 203.9h1.1v0.9h-1.1zM209.0 209.2h1.3v1.0h-1.3zM191.2 211.6h1.0v1.3h-1.0zM163.8 207.1h1.4v1.4h-1.4zM188.2 205.0h1.3v0.9h-1.3zM136.6 208.8h1.3v1.4h-1.3zM94.6 212.1h1.2v0.9h-1.2z" fill="#e8dcf0" opacity="0.8"/>
<path d="M190.6 219.6h1.1v1.0h-1.1zM130.7 228.4h1.2v0.8h-1.2zM119.0 226.5h1.4v1.2h-1.4zM119.9 225.1h1.7v1.3h-1.7zM144.2 223.6h1.6v1.1h-1.6zM126.8 217.7h1.7v0.8h-1.7zM153.5 217.1h0.8v0.9h-0.8zM203.0 218.8h1.7v1.0h-1.7zM177.3 218.5h1.6v1.3h-1.6z" fill="#f0e8f6" opacity="0.9"/>
<path d="M140.6 222.4h1.7v1.3h-1.7zM204.3 229.9h1.5v0.9h-1.5zM127.0 221.7h0.8v1.1h-0.8zM208.9 216.8h0.9v1.2h-0.9zM212.2 222.6h1.2v0.8h-1.2zM190.5 225.0h1.8v1.1h-1.8zM172.8 219.9h1.1v1.2h-1.1zM101.5 228.0h1.2v1.3h-1.2zM175.6 225.2h1.4v0.9h-1.4zM153.6 219.6h0.8v1.1h-0.8zM195.7 221.1h1.5v1.1h-1.5zM185.7 218.7h1.3v0.8h-1.3zM95.0 216.6h1.6v1.3h-1.6zM98.9 227.3h1.0v1.2h-1.0z" fill="#f0e8f6" opacity="0.5"/>
<path d="M150.1 226.6h1.2v1.3h-1.2zM96.3 224.3h1.4v1.1h-1.4zM193.2 220.6h1.3v1.4h-1.3zM181.4 224.2h0.8v0.9h-0.8zM210.4 229.6h1.4v1.2h-1.4zM177.2 227.6h1.3v0.8h-1.3zM183.3 219.2h1.6v1.2h-1.6zM170.2 225.8h1.1v1.2h-1.1zM109.0 226.0h1.4v1.2h-1.4zM204.1 229.9h1.3v0.8h-1.3zM211.7 221.9h1.4v0.9h-1.4zM184.9 218.2h1.7v1.0h-1.7zM203.3 219.9h1.8v1.0h-1.8zM137.2 226.0h1.0v1.0h-1.0zM148.9 226.9h1.5v1.2h-1.5zM121.2 229.8h0.9v1.2h-0.9z" fill="#f0e8f6" opacity="0.8"/>
<path d="M170.0 219.2h1.0v1.4h-1.0zM207.6 218.4h1.7v0.9h-1.7zM108.7 226.2h1.0v0.9h-1.0zM173.6 218.9h1.4v1.0h-1.4zM105.7 217.0h1.2v1.1h-1.2zM110.6 221.0h1.2v0.9h-1.2zM128.7 225.4h1.2v1.0h-1.2zM151.3 217.6h1.0v1.4h-1.0zM120.5 222.0h1.2v1.2h-1.2zM111.9 226.8h1.1v0.8h-1.1zM170.4 216.4h0.8v1.1h-0.8zM93.9 228.0h0.9v0.9h-0.9zM200.8 227.0h1.0v1.0h-1.0zM209.4 228.3h0.9v0.8h-0.9zM107.0 221.2h1.2v1.3h-1.2zM212.2 219.1h1.6v0.8h-1.6zM178.5 218.2h1.1v1.3h-1.1z" fill="#f0e8f6" opacity="0.7"/>
<path d="M178.5 226.8h1.1v1.4h-1.1zM143.4 219.7h1.6v0.9h-1.6zM156.1 222.9h1.1v1.4h-1.1zM182.3 219.6h1.7v1.2h-1.7zM203.5 221.9h1.3v1.3h-1.3z" fill="#f0e8f6" opacity="0.4"/>
<path d="M171.6 228.7h1.2v1.0h-1.2zM156.4 218.4h1.4v1.1h-1.4zM208.1 227.0h1.2v1.3h-1.2zM166.0 221.8h1.8v1.0h-1.8zM153.7 219.1h1.7v1.3h-1.7zM144.3 227.6h1.3v1.4h-1.3zM154.4 228.7h1.6v1.1h-1.6zM120.5 228.6h1.3v0.9h-1.3zM187.8 227.2h1.1v1.3h-1.1z" fill="#f0e8f6" opacity="0.6"/>
<path d="M207.4 223.9h1.5v1.2h-1.5zM124.7 217.4h1.8v1.2h-1.8zM191.0 229.7h1.4v1.0h-1.4zM168.5 220.4h1.1v1.2h-1.1zM117.7 223.7h1.6v1.3h-1.6z" fill="#8a70c0" opacity="0.9"/>
<path d="M178.3 223.4h0.9v1.1h-0.9zM130.1 228.1h1.5v0.8h-1.5zM174.5 229.6h1.1v0.9h-1.1zM103.2 224.8h1.0v1.4h-1.0zM157.7 217.0h1.7v1.5h-1.7zM188.6 221.3h1.3v1.1h-1.3zM154.0 229.0h1.5v0.9h-1.5zM131.1 220.5h1.6v1.5h-1.6zM190.5 229.5h1.5v1.4h-1.5zM130.7 218.4h0.9v1.4h-0.9zM133.9 226.0h1.2v1.1h-1.2zM110.5 222.9h1.6v0.9h-1.6zM159.1 222.5h1.6v1.1h-1.6zM122.4 216.7h1.6v0.9h-1.6zM214.4 219.6h1.5v1.0h-1.5z" fill="#8a70c0" opacity="0.5"/>
<path d="M181.7 222.4h1.3v1.4h-1.3zM121.6 225.5h1.6v1.3h-1.6zM190.3 226.3h1.7v1.4h-1.7zM124.4 225.9h1.7v1.3h-1.7zM145.3 227.9h0.9v1.5h-0.9zM143.8 222.5h0.8v1.1h-0.8zM192.1 227.3h1.5v1.4h-1.5zM191.9 219.8h1.3v0.8h-1.3zM181.3 226.0h1.1v1.1h-1.1zM118.0 228.6h1.3v0.9h-1.3zM109.9 223.2h1.4v1.3h-1.4zM142.8 227.4h1.0v1.5h-1.0zM198.3 228.3h1.6v1.4h-1.6zM211.0 223.2h0.8v1.3h-0.8zM137.8 221.2h1.7v1.0h-1.7zM140.9 229.3h1.0v1.2h-1.0zM94.4 227.7h1.7v0.9h-1.7zM179.0 218.5h1.0v1.0h-1.0zM141.2 224.4h1.4v1.0h-1.4z" fill="#8a70c0" opacity="0.6"/>
<path d="M169.5 222.8h1.2v1.2h-1.2zM147.9 216.7h1.8v0.9h-1.8zM137.0 226.8h1.4v0.9h-1.4zM133.3 222.1h0.8v1.5h-0.8zM98.5 224.8h1.4v1.0h-1.4zM204.1 222.8h1.0v1.3h-1.0zM157.7 222.5h0.9v1.5h-0.9zM135.3 219.7h0.9v1.2h-0.9zM96.4 220.3h1.1v0.8h-1.1z" fill="#8a70c0" opacity="0.7"/>
<path d="M136.3 229.5h1.1v1.2h-1.1zM186.4 222.0h1.6v1.2h-1.6zM96.1 216.7h1.6v1.5h-1.6zM111.8 229.9h0.9v1.5h-0.9zM198.5 220.9h1.1v1.1h-1.1zM145.0 225.5h1.3v1.5h-1.3zM108.1 221.9h1.4v1.3h-1.4zM159.6 218.1h1.3v0.9h-1.3zM151.8 216.5h1.4v1.2h-1.4z" fill="#8a70c0" opacity="0.8"/>
<path d="M118.3 226.4h1.5v1.4h-1.5zM110.8 219.1h1.5v1.0h-1.5zM154.1 229.2h1.0v0.8h-1.0z" fill="#8a70c0" opacity="0.4"/>
<path d="M129.1 194.7h0.9v1.2h-0.9zM147.6 190.8h1.3v1.1h-1.3zM101.4 189.6h1.2v0.9h-1.2zM176.1 193.7h1.5v1.1h-1.5zM112.6 193.2h1.3v1.1h-1.3zM144.2 189.6h1.2v1.4h-1.2zM205.6 190.1h1.4v1.5h-1.4z" fill="#c080c8" opacity="0.9"/>
<path d="M164.8 192.3h1.0v1.1h-1.0zM131.1 189.3h1.0v1.4h-1.0zM187.0 191.4h1.6v1.0h-1.6zM105.2 192.9h1.4v1.2h-1.4zM162.1 194.5h1.7v1.0h-1.7zM194.6 193.7h0.8v1.3h-0.8zM143.2 192.9h1.1v1.0h-1.1z" fill="#c080c8" opacity="0.7"/>
<path d="M188.1 191.6h1.4v0.8h-1.4zM102.2 193.4h1.6v1.2h-1.6zM178.3 190.1h1.7v1.0h-1.7zM98.5 192.2h1.5v1.5h-1.5zM173.2 189.0h1.3v0.9h-1.3zM136.5 193.3h0.9v1.3h-0.9zM158.4 195.0h0.9v0.8h-0.9zM207.0 194.4h0.8v1.3h-0.8zM113.4 193.9h1.0v1.3h-1.0zM204.8 192.1h1.2v1.1h-1.2z" fill="#c080c8" opacity="0.8"/>
<path d="M101.6 190.4h1.4v1.3h-1.4zM146.6 193.0h1.0v1.2h-1.0zM179.2 192.6h1.8v1.3h-1.8zM140.9 194.4h1.1v1.4h-1.1zM182.4 193.2h0.8v1.2h-0.8zM205.5 190.2h1.3v1.2h-1.3zM182.0 191.0h1.2v1.1h-1.2z" fill="#c080c8" opacity="0.6"/>
<path d="M137.1 193.4h0.8v1.3h-0.8zM186.4 192.1h1.0v1.2h-1.0zM162.4 192.0h1.2v1.4h-1.2zM170.1 190.9h0.9v1.1h-0.9zM177.0 191.0h1.7v0.8h-1.7zM201.2 190.5h1.3v1.3h-1.3z" fill="#c080c8" opacity="0.5"/>
<path d="M98.4 194.7h1.0v1.2h-1.0zM178.7 193.1h0.9v0.9h-0.9zM126.7 194.1h1.5v0.9h-1.5z" fill="#c080c8" opacity="0.4"/>
<path d="M92,153.7 L92.0,153.7 L92.0,167.9 L101.2,162.3 L110.6,159.1 L119.9,160.4 L129.3,157.6 L138.6,154.8 L151.7,155.4 L164.8,154.8 L174.1,155.7 L187.2,155.4 L202.1,155.7 L215.7,157.6 L215.7,157.6 L215.7,153.7 Z" fill="#f2eef4"/>
<path d="M92.0,167.9 L101.2,162.3 L110.6,159.1 L119.9,160.4 L129.3,157.6 L138.6,154.8 L151.7,155.4 L164.8,154.8 L174.1,155.7 L187.2,155.4 L202.1,155.7 L215.7,157.6" fill="none" stroke="#1e0a1c" stroke-width="1.5"/>
<path d="M92.0,169.3 L101.2,163.7 L110.6,160.5 L119.9,161.8 L129.3,159.0 L138.6,156.2 L151.7,156.8 L164.8,156.2 L174.1,157.1 L187.2,156.8 L202.1,157.1 L215.7,159.0" fill="none" stroke="#7a3a7a" stroke-width="0.8" opacity="0.6"/>
<path d="M101.2,160.4 L108.0,157.5 L116.2,154.8" fill="none" stroke="#1e0a1c" stroke-width="1.2"/>
<rect x="246.00" y="154.20" width="123.30" height="81.80" fill="url(#h4)" />
<path d="M262.1 159.1L262.9 159.1L262.5 165.8L261.6 165.8zM250.9 163.8L252.4 163.8L251.6 174.4L250.1 174.4zM249.0 159.3L249.6 159.3L249.9 167.2L249.4 167.2zM282.8 168.8L283.8 168.8L282.9 178.7L281.9 178.7zM262.7 168.7L263.3 168.7L263.3 176.5L262.7 176.5zM362.6 167.5L363.2 167.5L362.1 170.9L361.5 170.9zM367.4 161.5L368.5 161.5L368.0 169.3L366.9 169.3zM326.1 164.1L327.2 164.1L326.7 175.0L325.7 175.0zM268.4 164.4L269.4 164.4L268.6 171.1L267.7 171.1zM361.9 165.6L363.0 165.6L361.8 173.4L360.8 173.4zM328.8 165.1L330.0 165.1L329.7 173.2L328.5 173.2zM306.0 157.3L307.1 157.3L306.6 161.0L305.5 161.0zM321.0 166.8L322.4 166.8L321.6 170.8L320.1 170.8zM365.8 161.9L366.9 161.9L366.2 167.0L365.1 167.0zM309.2 160.5L311.1 160.5L310.1 166.8L308.3 166.8zM278.5 159.1L280.2 159.1L280.4 168.1L278.8 168.1zM318.7 167.1L319.7 167.1L319.8 170.7L318.7 170.7zM278.8 159.4L280.1 159.4L280.4 169.5L279.0 169.5zM337.1 156.1L338.6 156.1L337.9 162.5L336.5 162.5zM256.0 166.4L256.5 166.4L255.4 176.1L254.9 176.1zM253.5 165.5L254.8 165.5L254.3 171.6L253.0 171.6zM256.9 156.4L257.8 156.4L257.3 163.2L256.4 163.2zM247.4 158.0L248.5 158.0L248.1 164.2L247.0 164.2zM259.1 159.7L260.1 159.7L260.5 170.6L259.5 170.6zM302.3 165.4L303.8 165.4L303.5 175.8L302.0 175.8zM332.9 164.5L334.3 164.5L333.4 168.5L331.9 168.5zM273.7 157.1L274.6 157.1L274.8 163.5L273.9 163.5zM316.9 158.6L318.3 158.6L318.4 161.9L317.1 161.9zM254.0 162.8L254.7 162.8L253.7 173.2L253.0 173.2z" fill="#f4eef0" opacity="0.8"/>
<path d="M328.6 167.9L329.9 167.9L330.1 172.6L328.8 172.6zM298.4 160.7L299.5 160.7L299.6 164.2L298.5 164.2zM277.3 165.3L278.8 165.3L278.7 175.5L277.3 175.5zM360.6 163.4L361.6 163.4L361.0 167.8L360.1 167.8zM269.2 161.5L271.0 161.5L271.1 172.4L269.3 172.4zM332.7 164.9L333.8 164.9L332.8 175.8L331.7 175.8zM283.5 164.2L285.2 164.2L284.5 167.3L282.8 167.3zM288.4 163.8L289.8 163.8L289.9 171.1L288.5 171.1zM268.8 157.8L269.7 157.8L268.6 167.9L267.6 167.9zM252.7 159.2L253.3 159.2L253.6 169.7L253.0 169.7zM365.7 162.1L367.3 162.1L367.4 171.7L365.8 171.7zM358.0 163.9L359.0 163.9L358.3 167.0L357.3 167.0zM311.4 167.1L312.8 167.1L312.0 177.8L310.7 177.8zM310.2 167.6L310.8 167.6L310.9 175.2L310.3 175.2zM303.3 165.7L304.6 165.7L304.0 172.3L302.7 172.3zM288.4 161.1L290.1 161.1L289.1 165.1L287.4 165.1zM267.5 168.6L268.9 168.6L269.2 174.9L267.8 174.9z" fill="#f4eef0" opacity="0.3"/>
<path d="M360.1 156.6L361.5 156.6L361.1 163.4L359.8 163.4zM290.5 158.4L292.2 158.4L291.7 168.2L290.0 168.2zM265.1 157.3L265.8 157.3L265.4 164.1L264.7 164.1zM250.2 156.0L251.4 156.0L251.8 160.3L250.6 160.3zM295.4 167.3L296.5 167.3L296.6 174.6L295.5 174.6zM327.6 166.8L328.5 166.8L327.9 174.4L327.1 174.4zM254.0 158.2L254.5 158.2L253.9 167.1L253.3 167.1zM311.2 158.8L312.4 158.8L312.5 161.9L311.3 161.9zM319.6 163.9L320.9 163.9L321.0 168.4L319.6 168.4zM335.9 158.5L337.5 158.5L337.5 167.0L335.8 167.0zM367.9 167.3L368.7 167.3L368.3 170.5L367.4 170.5zM360.3 168.0L361.6 168.0L361.1 173.9L359.9 173.9zM250.0 163.5L251.0 163.5L251.1 170.3L250.1 170.3zM268.2 160.8L268.8 160.8L268.7 171.1L268.1 171.1zM262.4 160.2L263.0 160.2L262.7 167.5L262.2 167.5zM279.8 168.4L281.6 168.4L281.4 176.7L279.7 176.7zM280.6 163.5L282.4 163.5L281.7 168.8L279.9 168.8zM302.8 160.7L303.6 160.7L303.3 165.1L302.5 165.1zM355.8 162.5L356.4 162.5L356.6 169.9L356.1 169.9zM298.4 157.2L299.9 157.2L299.6 167.9L298.0 167.9zM283.9 162.8L284.6 162.8L284.6 170.0L283.9 170.0zM263.1 159.6L264.3 159.6L263.4 162.9L262.2 162.9zM359.8 156.7L361.6 156.7L361.7 165.3L359.9 165.3zM263.5 167.6L265.3 167.6L264.6 171.6L262.8 171.6zM354.3 158.4L355.2 158.4L355.6 164.2L354.6 164.2zM291.9 165.4L293.4 165.4L293.6 173.6L292.1 173.6zM331.7 158.9L332.3 158.9L332.7 169.4L332.1 169.4zM289.6 167.6L291.1 167.6L290.5 175.4L289.0 175.4z" fill="#f4eef0" opacity="0.4"/>
<path d="M366.2 162.7L367.6 162.7L366.8 169.1L365.3 169.1zM357.3 161.5L358.2 161.5L357.9 170.2L357.0 170.2zM338.5 165.8L339.5 165.8L339.1 175.2L338.1 175.2zM313.7 168.1L315.4 168.1L314.5 172.8L312.7 172.8zM275.0 156.8L276.7 156.8L276.4 163.1L274.6 163.1zM257.2 164.0L259.1 164.0L259.1 174.1L257.3 174.1zM318.6 163.0L320.3 163.0L319.2 168.5L317.5 168.5zM356.9 161.9L358.7 161.9L358.3 166.4L356.5 166.4zM367.2 158.1L368.6 158.1L367.5 166.4L366.1 166.4zM342.6 165.1L343.7 165.1L343.2 171.4L342.1 171.4zM271.1 159.8L271.7 159.8L271.7 165.0L271.2 165.0zM287.4 162.0L288.4 162.0L287.9 172.6L286.9 172.6zM359.1 162.5L359.7 162.5L358.5 170.3L357.9 170.3zM325.1 160.5L325.7 160.5L325.0 170.0L324.5 170.0zM274.2 161.1L275.2 161.1L274.3 169.6L273.3 169.6zM321.2 165.9L322.7 165.9L322.2 174.3L320.8 174.3zM315.4 164.7L316.5 164.7L315.7 170.4L314.6 170.4zM284.0 158.6L284.5 158.6L283.6 163.9L283.0 163.9zM294.1 165.6L295.1 165.6L294.1 169.8L293.1 169.8zM300.8 161.6L302.7 161.6L302.3 165.2L300.4 165.2zM252.1 163.1L253.5 163.1L253.5 169.3L252.1 169.3zM353.1 157.7L354.1 157.7L353.0 165.9L352.0 165.9zM300.8 166.9L302.6 166.9L302.4 173.5L300.7 173.5zM286.2 158.9L288.0 158.9L286.9 168.5L285.1 168.5z" fill="#f4eef0" opacity="0.7"/>
<path d="M278.5 162.4L279.4 162.4L278.6 171.7L277.7 171.7zM269.8 157.2L270.7 157.2L270.5 162.4L269.6 162.4zM334.1 167.5L335.7 167.5L335.9 175.4L334.3 175.4zM359.4 163.5L360.5 163.5L359.5 173.2L358.4 173.2zM354.2 162.9L355.0 162.9L354.7 172.9L353.9 172.9zM340.0 168.3L341.4 168.3L340.2 174.3L338.8 174.3zM318.5 165.2L319.2 165.2L318.2 171.2L317.6 171.2zM364.8 164.4L365.4 164.4L365.4 173.7L364.8 173.7zM274.6 161.2L275.8 161.2L276.0 169.7L274.7 169.7zM331.4 168.5L332.4 168.5L331.2 172.3L330.3 172.3zM278.9 160.0L279.8 160.0L279.5 168.3L278.6 168.3zM285.1 160.7L286.3 160.7L285.9 170.5L284.7 170.5zM319.7 165.4L321.5 165.4L321.4 169.1L319.6 169.1zM267.3 160.8L269.1 160.8L269.0 165.1L267.2 165.1zM358.1 168.6L358.8 168.6L358.2 179.0L357.4 179.0zM258.2 158.4L259.2 158.4L258.8 166.0L257.8 166.0zM246.6 162.1L248.0 162.1L247.7 165.8L246.3 165.8zM327.8 161.0L328.8 161.0L327.6 169.9L326.6 169.9zM302.1 160.0L303.7 160.0L303.5 168.3L301.9 168.3zM291.2 166.5L293.0 166.5L292.4 170.6L290.6 170.6zM298.2 160.4L299.4 160.4L299.5 168.2L298.2 168.2zM294.0 166.4L294.6 166.4L294.1 171.9L293.4 171.9zM276.9 157.3L278.5 157.3L277.8 167.1L276.2 167.1zM331.3 164.4L332.7 164.4L332.4 170.9L331.1 170.9zM283.0 168.8L284.5 168.8L284.9 174.6L283.4 174.6zM349.7 168.2L350.6 168.2L350.8 178.4L349.9 178.4zM313.1 166.0L314.2 166.0L314.3 170.7L313.2 170.7zM270.8 167.1L271.3 167.1L271.6 177.8L271.0 177.8z" fill="#f4eef0" opacity="0.6"/>
<path d="M361.5 158.1L363.3 158.1L363.6 163.8L361.8 163.8zM268.4 166.1L270.1 166.1L268.9 169.9L267.2 169.9zM343.0 164.9L344.5 164.9L343.7 170.4L342.2 170.4zM269.2 163.2L270.6 163.2L270.5 168.5L269.1 168.5zM333.8 167.9L335.3 167.9L334.3 176.6L332.7 176.6zM365.5 161.1L367.2 161.1L366.5 170.7L364.8 170.7zM294.9 168.3L296.7 168.3L295.8 171.7L294.0 171.7zM303.6 166.6L305.1 166.6L304.5 171.0L302.9 171.0zM284.7 162.0L285.9 162.0L284.8 172.9L283.5 172.9zM305.2 158.2L305.9 158.2L304.8 163.1L304.1 163.1zM295.7 156.8L296.4 156.8L296.5 160.9L295.8 160.9zM308.1 161.6L308.7 161.6L307.7 166.7L307.1 166.7zM261.6 162.9L262.2 162.9L261.1 167.1L260.5 167.1zM348.4 163.1L349.1 163.1L348.5 171.8L347.8 171.8zM323.4 159.3L324.1 159.3L323.0 169.9L322.4 169.9zM360.3 164.3L362.0 164.3L360.9 173.5L359.3 173.5zM291.0 167.4L292.0 167.4L291.2 170.9L290.1 170.9zM319.9 164.6L320.7 164.6L320.4 170.2L319.6 170.2zM299.0 161.0L299.9 161.0L298.7 170.0L297.8 170.0zM271.8 161.2L272.6 161.2L272.3 166.7L271.5 166.7zM353.1 160.3L354.0 160.3L353.9 166.5L353.0 166.5zM318.1 162.9L319.0 162.9L317.9 173.8L316.9 173.8zM345.8 161.3L347.4 161.3L347.2 170.0L345.5 170.0zM356.3 158.2L357.0 158.2L357.1 166.8L356.4 166.8zM300.0 157.7L301.1 157.7L301.1 165.0L300.1 165.0zM296.0 168.1L297.1 168.1L296.3 178.0L295.2 178.0zM281.0 163.2L282.7 163.2L282.4 166.8L280.7 166.8zM367.4 162.5L368.9 162.5L368.9 167.1L367.5 167.1z" fill="#f4eef0" opacity="0.5"/>
<path d="M253.7 161.6h0.7v8.2h-0.7zM330.7 166.1h0.7v11.0h-0.7zM323.7 159.1h0.6v11.2h-0.6zM366.8 157.8h0.7v8.8h-0.7zM272.1 167.4h0.9v9.1h-0.9zM359.8 160.1h1.2v12.4h-1.2zM293.3 170.8h0.6v5.8h-0.6zM251.5 157.6h1.2v9.7h-1.2z" fill="#3a1210" opacity="0.7"/>
<path d="M319.4 168.1h0.8v9.7h-0.8zM246.1 158.2h1.2v11.2h-1.2zM345.6 165.1h0.9v13.6h-0.9zM362.8 167.9h0.7v10.6h-0.7zM251.7 156.3h1.1v7.9h-1.1zM268.5 157.7h0.9v10.5h-0.9zM354.7 174.0h1.0v6.1h-1.0zM258.3 172.2h0.7v8.1h-0.7zM272.4 158.3h0.6v11.6h-0.6zM365.6 165.7h0.8v7.7h-0.8zM360.5 160.6h1.1v10.3h-1.1zM367.8 157.6h0.8v10.3h-0.8z" fill="#3a1210" opacity="0.5"/>
<path d="M320.9 162.9h0.7v11.3h-0.7zM253.2 173.9h1.0v7.5h-1.0zM302.3 164.4h0.7v12.0h-0.7zM352.0 159.8h1.0v5.8h-1.0zM265.2 164.7h1.1v9.8h-1.1zM272.8 163.4h0.8v11.5h-0.8zM253.1 161.2h1.0v13.6h-1.0zM320.9 164.7h1.0v12.0h-1.0zM333.3 166.1h1.1v13.6h-1.1zM354.1 163.6h1.0v8.4h-1.0zM277.1 170.8h0.9v8.4h-0.9zM255.3 171.7h0.8v6.5h-0.8zM302.3 156.1h0.6v10.4h-0.6zM364.0 173.0h1.2v10.4h-1.2zM352.3 168.7h1.0v9.7h-1.0zM295.9 156.1h1.2v7.1h-1.2zM288.1 172.6h1.0v11.4h-1.0zM290.8 162.1h1.0v8.0h-1.0zM362.4 169.9h1.1v5.3h-1.1z" fill="#3a1210" opacity="0.4"/>
<path d="M285.8 169.1h0.7v5.1h-0.7zM301.6 173.9h1.0v8.8h-1.0zM257.8 159.3h0.7v13.5h-0.7zM324.1 161.5h1.1v6.2h-1.1zM279.6 161.0h0.8v9.3h-0.8zM328.4 164.9h0.7v13.8h-0.7zM279.4 159.6h1.1v6.1h-1.1zM357.5 162.4h0.9v8.1h-0.9zM334.4 169.1h0.9v11.1h-0.9zM312.5 157.3h0.7v7.2h-0.7zM299.0 163.6h0.8v7.7h-0.8zM261.3 167.4h1.1v11.2h-1.1zM303.3 167.7h1.1v8.1h-1.1zM338.5 170.1h0.7v11.5h-0.7zM343.1 172.5h0.8v5.5h-0.8z" fill="#3a1210" opacity="0.6"/>
<path d="M250.4 173.6h1.0v10.4h-1.0zM352.9 160.3h0.7v8.0h-0.7z" fill="#3a1210" opacity="0.3"/>
<path d="M290.6 181.5h0.8v4.6h-0.8zM309.0 181.1h0.6v8.8h-0.6zM257.6 181.5h1.0v7.2h-1.0zM248.6 181.1h0.9v8.2h-0.9zM287.2 181.7h1.0v4.9h-1.0z" fill="#d070b8" opacity="0.3"/>
<path d="M247.6 181.2h0.8v5.5h-0.8zM345.2 181.3h0.6v7.6h-0.6zM343.9 181.4h1.1v5.9h-1.1zM258.8 181.5h1.0v6.3h-1.0zM275.8 181.6h0.6v6.2h-0.6zM281.6 181.9h0.7v4.2h-0.7z" fill="#d070b8" opacity="0.5"/>
<path d="M361.7 181.9h0.7v6.2h-0.7zM361.7 181.7h0.9v6.1h-0.9zM308.8 181.8h0.7v5.0h-0.7zM256.5 181.1h1.0v7.6h-1.0zM340.9 181.2h1.1v4.8h-1.1z" fill="#d070b8" opacity="0.4"/>
<path d="M311.6 182.0h0.9v6.7h-0.9zM266.2 181.5h0.9v7.3h-0.9zM341.5 182.0h0.7v6.5h-0.7z" fill="#e0a0d8" opacity="0.2"/>
<path d="M331.3 181.8h0.9v5.2h-0.9zM311.2 181.4h0.7v5.4h-0.7zM257.1 181.7h1.0v7.5h-1.0zM359.0 182.0h1.1v6.6h-1.1zM323.8 181.1h0.9v4.3h-0.9zM338.9 181.9h0.7v8.7h-0.7zM314.8 181.3h0.6v4.7h-0.6zM310.3 181.7h1.0v8.6h-1.0z" fill="#e8c8ec" opacity="0.4"/>
<path d="M306.7 181.7h0.9v8.0h-0.9zM327.8 181.5h0.8v5.6h-0.8zM342.1 181.6h0.9v7.7h-0.9zM253.1 181.9h0.9v5.0h-0.9zM353.0 182.0h0.6v8.6h-0.6zM263.0 182.0h0.9v3.5h-0.9z" fill="#e8c8ec" opacity="0.3"/>
<path d="M305.7 181.2h0.7v4.7h-0.7zM289.4 181.4h0.7v5.9h-0.7zM266.5 181.6h0.8v9.0h-0.8zM272.1 181.8h0.7v6.3h-0.7z" fill="#e8c8ec" opacity="0.5"/>
<path d="M250.7 181.4h1.0v5.3h-1.0zM335.0 181.7h1.2v7.9h-1.2z" fill="#e0a0d8" opacity="0.5"/>
<path d="M341.3 181.7h1.1v7.6h-1.1zM271.6 181.6h1.0v6.6h-1.0zM325.5 181.8h1.0v6.8h-1.0zM356.2 181.6h0.9v6.4h-0.9z" fill="#e0a0d8" opacity="0.3"/>
<path d="M279.7 182.0h0.6v5.6h-0.6zM292.9 181.3h0.7v7.9h-0.7zM315.5 181.4h0.7v6.9h-0.7z" fill="#e0a0d8" opacity="0.4"/>
<path d="M259.9 181.3h0.7v4.7h-0.7zM295.5 181.0h0.7v8.9h-0.7z" fill="#d070b8" opacity="0.2"/>
<path d="M251.4 181.5h1.1v7.2h-1.1z" fill="#e8c8ec" opacity="0.2"/>
<path d="M366.8 202.7h1.6v1.1h-1.6zM268.8 213.9h1.7v1.0h-1.7zM340.9 202.7h1.5v1.0h-1.5zM304.0 208.4h1.6v1.0h-1.6zM254.1 212.9h1.6v1.3h-1.6zM366.9 210.7h1.0v1.4h-1.0zM286.4 211.7h1.4v1.2h-1.4zM246.9 210.8h1.3v1.4h-1.3zM268.9 203.8h1.7v1.0h-1.7zM287.9 209.4h1.0v0.9h-1.0zM361.2 213.1h1.7v1.0h-1.7zM257.2 204.6h1.7v1.2h-1.7zM317.2 207.7h1.3v1.0h-1.3zM355.9 210.8h0.8v1.5h-0.8zM292.9 207.5h1.4v1.2h-1.4zM315.1 211.5h1.6v1.5h-1.6zM324.0 204.2h1.1v1.3h-1.1zM256.9 204.0h1.2v1.1h-1.2zM273.5 211.3h1.2v1.5h-1.2zM366.8 203.8h1.0v1.1h-1.0zM299.9 207.0h1.5v1.0h-1.5zM337.1 207.5h1.1v1.1h-1.1zM271.7 205.6h1.7v1.4h-1.7zM313.5 210.7h1.2v1.1h-1.2zM337.1 213.3h1.0v1.1h-1.0zM296.1 210.2h1.5v1.4h-1.5zM352.2 212.1h1.3v1.5h-1.3zM266.1 213.8h1.3v1.0h-1.3zM273.2 208.1h1.7v1.0h-1.7zM327.2 212.8h1.7v1.3h-1.7zM249.8 204.8h0.8v1.2h-0.8zM247.3 211.8h1.6v1.1h-1.6zM274.4 213.2h0.8v1.0h-0.8zM258.7 203.0h1.1v1.1h-1.1z" fill="#e8dcf0" opacity="0.9"/>
<path d="M361.8 211.1h0.9v1.3h-0.9zM351.8 209.8h1.6v1.5h-1.6zM309.8 205.2h1.6v1.1h-1.6zM248.9 208.8h0.8v1.2h-0.8zM270.4 213.1h1.3v1.4h-1.3zM328.0 210.0h1.7v1.1h-1.7zM277.2 204.8h1.4v0.8h-1.4zM335.1 206.2h1.4v1.4h-1.4zM269.3 208.7h1.1v0.9h-1.1zM342.5 213.2h1.2v0.9h-1.2zM268.7 205.1h0.8v1.1h-0.8zM316.7 203.0h1.3v1.4h-1.3zM253.3 206.1h0.9v1.2h-0.9zM269.6 210.4h0.9v1.3h-0.9zM268.9 209.6h1.2v0.8h-1.2zM285.7 210.1h1.2v1.5h-1.2zM249.8 210.0h1.5v1.4h-1.5zM267.6 208.0h1.1v0.9h-1.1zM306.9 206.2h1.3v1.3h-1.3zM338.8 212.5h1.4v1.2h-1.4zM292.0 204.7h1.6v1.3h-1.6zM368.3 203.7h1.7v1.1h-1.7zM319.5 207.1h1.0v1.5h-1.0zM295.4 204.1h1.6v1.3h-1.6zM268.9 208.0h1.6v1.0h-1.6zM308.4 207.7h1.7v1.0h-1.7zM298.4 210.0h0.8v1.5h-0.8zM289.3 209.5h1.0v1.1h-1.0zM267.2 205.2h1.6v1.3h-1.6zM346.4 211.3h1.3v1.2h-1.3zM302.7 209.2h1.2v1.4h-1.2zM305.6 210.4h1.5v1.0h-1.5zM276.5 213.2h1.2v1.4h-1.2zM291.7 204.9h0.8v0.9h-0.8zM311.4 203.7h1.0v1.4h-1.0zM283.2 207.9h1.5v1.0h-1.5zM316.9 204.8h1.5v1.2h-1.5zM336.5 207.5h1.7v0.8h-1.7zM258.1 212.0h0.9v1.2h-0.9zM310.4 207.0h1.1v1.1h-1.1zM361.5 207.8h0.9v1.3h-0.9zM358.9 211.6h1.5v1.0h-1.5zM281.5 210.4h1.3v1.0h-1.3zM367.2 210.6h1.3v1.0h-1.3zM355.4 209.2h1.6v1.0h-1.6zM272.7 204.0h1.6v1.2h-1.6zM304.1 213.2h1.7v1.4h-1.7zM293.0 210.1h1.6v1.4h-1.6zM250.8 213.0h1.8v1.2h-1.8zM269.7 206.2h0.8v1.0h-0.8zM349.5 206.4h1.4v1.1h-1.4zM332.2 202.6h1.7v0.8h-1.7zM258.9 207.8h0.8v1.1h-0.8zM343.0 210.1h1.4v1.0h-1.4zM339.0 203.6h1.8v0.9h-1.8zM283.5 205.8h1.2v1.0h-1.2zM269.7 209.8h1.2v0.9h-1.2zM335.6 203.7h1.8v1.3h-1.8zM366.4 207.3h0.9v1.0h-0.9z" fill="#e8dcf0" opacity="0.5"/>
<path d="M297.9 204.0h1.1v0.8h-1.1zM257.2 205.3h1.6v1.0h-1.6zM273.3 211.4h0.9v1.2h-0.9zM282.1 202.9h1.1v1.1h-1.1zM255.1 205.9h1.2v0.9h-1.2zM360.6 206.2h1.6v1.4h-1.6zM250.1 205.7h1.2v1.1h-1.2zM274.6 202.7h1.6v1.0h-1.6zM323.2 210.8h1.4v1.1h-1.4zM299.1 204.2h1.0v1.0h-1.0zM288.9 203.3h1.6v1.4h-1.6zM261.7 204.8h1.2v1.4h-1.2zM331.9 211.8h1.8v0.8h-1.8zM292.5 207.6h1.6v1.1h-1.6zM366.8 206.4h1.6v1.3h-1.6zM276.5 204.9h1.1v0.9h-1.1zM315.6 211.0h1.6v1.5h-1.6zM286.6 208.3h1.2v1.2h-1.2zM366.8 209.2h1.8v1.0h-1.8zM361.7 206.4h1.4v1.1h-1.4zM314.2 208.6h0.9v0.8h-0.9zM347.8 213.5h1.4v0.8h-1.4zM329.0 213.4h1.2v1.2h-1.2zM345.7 208.3h1.7v1.3h-1.7zM277.7 203.5h0.9v0.9h-0.9zM309.2 208.0h0.9v1.4h-0.9zM355.3 211.6h1.3v0.9h-1.3zM285.8 204.3h1.1v1.0h-1.1zM279.4 213.0h0.8v1.0h-0.8zM355.6 205.6h1.1v1.0h-1.1zM264.1 212.8h1.4v1.4h-1.4zM287.5 210.7h1.1v1.2h-1.1zM341.0 205.3h1.6v1.2h-1.6zM349.0 210.4h1.1v0.8h-1.1zM301.7 208.8h0.9v1.2h-0.9zM301.6 208.8h1.1v1.5h-1.1zM252.9 208.5h1.7v1.0h-1.7zM260.3 212.0h1.5v1.0h-1.5zM308.5 209.0h1.2v1.2h-1.2zM250.5 211.1h0.9v1.0h-0.9zM270.2 209.2h1.3v1.0h-1.3zM324.2 213.4h1.1v1.3h-1.1zM354.3 204.2h1.8v1.5h-1.8zM284.5 204.1h1.6v1.4h-1.6zM359.6 213.3h1.0v1.0h-1.0zM328.8 202.8h1.1v0.8h-1.1zM367.1 203.9h0.9v1.2h-0.9zM267.3 211.8h1.4v1.1h-1.4zM338.8 203.7h1.7v0.8h-1.7zM345.6 203.6h1.5v1.3h-1.5zM321.2 207.8h1.2v1.1h-1.2zM335.8 211.7h1.6v1.1h-1.6zM339.0 213.0h1.0v1.5h-1.0zM261.3 208.8h1.0v1.3h-1.0zM342.6 210.8h1.2v1.0h-1.2zM264.6 209.1h1.2v1.3h-1.2z" fill="#e8dcf0" opacity="0.7"/>
<path d="M256.6 205.1h1.7v0.9h-1.7zM314.3 212.4h0.8v1.3h-0.8zM338.8 212.1h1.3v1.3h-1.3zM336.3 209.3h1.3v1.3h-1.3zM315.8 204.3h0.8v1.5h-0.8zM327.6 207.5h1.5v1.3h-1.5zM346.6 203.2h1.2v1.3h-1.2zM345.7 208.5h1.0v1.2h-1.0zM354.4 207.2h1.2v1.2h-1.2zM310.9 207.3h1.8v1.4h-1.8zM327.8 212.8h1.2v1.0h-1.2zM322.2 207.0h0.8v1.0h-0.8zM291.0 212.0h1.5v0.9h-1.5zM274.4 202.5h1.7v1.0h-1.7zM350.5 212.4h1.5v1.3h-1.5zM286.5 203.3h0.9v1.4h-0.9zM270.4 208.1h1.3v1.1h-1.3zM268.5 211.6h1.1v1.1h-1.1zM252.0 204.3h1.1v1.3h-1.1zM342.6 212.4h1.6v1.0h-1.6zM330.3 203.9h1.6v0.8h-1.6zM331.8 213.4h1.2v1.1h-1.2zM343.6 204.9h1.3v1.3h-1.3zM331.0 203.5h1.7v0.8h-1.7zM315.1 209.6h1.0v1.4h-1.0zM332.7 203.9h1.1v0.9h-1.1zM300.3 202.7h0.9v1.3h-0.9zM300.8 203.5h1.2v1.0h-1.2zM363.1 204.3h0.8v0.8h-0.8zM325.9 210.0h0.8v1.1h-0.8zM257.7 208.5h0.9v1.2h-0.9zM305.0 206.4h1.1v1.0h-1.1zM366.2 207.0h1.7v0.8h-1.7zM285.9 205.0h1.1v1.0h-1.1zM266.8 210.3h0.8v1.5h-0.8zM272.1 207.4h1.7v1.3h-1.7zM258.7 212.6h1.7v1.0h-1.7zM285.0 206.7h1.0v1.2h-1.0zM337.0 211.4h1.7v1.2h-1.7zM342.8 211.9h1.4v1.4h-1.4zM318.6 207.3h1.3v1.1h-1.3zM367.5 211.2h1.8v1.5h-1.8zM346.4 210.1h1.0v1.1h-1.0zM334.9 205.6h0.9v1.2h-0.9zM277.2 210.4h1.4v1.3h-1.4zM359.4 211.9h1.7v1.0h-1.7zM283.5 206.3h1.2v1.0h-1.2zM348.1 213.1h1.7v1.3h-1.7zM306.9 204.9h1.2v1.2h-1.2zM332.4 203.7h1.0v1.1h-1.0zM279.8 211.0h1.0v1.0h-1.0zM358.7 206.9h1.7v1.0h-1.7zM337.0 204.3h1.8v1.0h-1.8zM325.1 204.0h0.9v1.4h-0.9zM276.7 212.1h1.3v1.0h-1.3zM352.8 210.7h1.1v1.3h-1.1z" fill="#e8dcf0" opacity="0.8"/>
<path d="M340.5 211.3h1.6v1.1h-1.6zM319.6 211.1h1.1v1.0h-1.1zM322.6 204.5h1.2v1.1h-1.2zM283.4 209.1h1.4v1.0h-1.4zM342.6 207.0h1.6v1.2h-1.6zM251.3 207.4h0.9v0.8h-0.9zM332.0 209.9h1.1v1.4h-1.1zM272.2 207.2h1.7v1.4h-1.7zM307.5 213.1h1.2v1.4h-1.2zM317.9 202.8h1.5v1.2h-1.5zM275.3 209.9h1.5v1.1h-1.5zM273.4 210.6h1.5v1.4h-1.5zM261.2 206.4h1.1v1.2h-1.1zM273.9 209.3h1.2v0.9h-1.2zM315.9 202.9h1.1v1.1h-1.1zM345.0 204.7h1.0v1.2h-1.0zM303.3 202.7h1.6v1.5h-1.6zM274.3 206.0h1.1v1.4h-1.1zM356.7 208.0h1.4v1.1h-1.4zM294.5 204.9h1.3v1.0h-1.3zM260.3 212.2h1.2v1.2h-1.2zM286.3 208.4h1.3v1.0h-1.3zM325.0 206.7h1.7v1.0h-1.7zM265.0 209.2h1.5v1.4h-1.5zM281.6 208.6h1.5v1.2h-1.5zM299.4 206.5h1.6v1.1h-1.6zM333.0 205.2h1.5v1.2h-1.5z" fill="#e8dcf0" opacity="0.4"/>
<path d="M252.4 210.4h1.7v0.9h-1.7zM322.8 207.2h1.0v1.0h-1.0zM261.3 209.3h1.0v1.0h-1.0zM289.9 202.6h1.4v0.9h-1.4zM283.5 206.8h1.7v1.2h-1.7zM293.9 213.3h1.7v1.2h-1.7zM297.1 213.2h0.9v0.9h-0.9zM296.9 208.9h1.3v1.2h-1.3zM266.9 204.6h1.3v0.8h-1.3zM280.3 209.8h1.3v0.8h-1.3zM316.9 212.6h1.6v1.1h-1.6zM256.3 207.0h1.6v1.4h-1.6zM328.7 210.4h1.4v1.4h-1.4zM336.4 210.9h1.6v1.1h-1.6zM309.9 212.3h1.0v1.3h-1.0zM361.5 210.7h1.7v1.1h-1.7zM321.3 208.6h1.3v1.0h-1.3zM255.2 211.8h1.3v1.0h-1.3zM246.3 208.5h1.1v1.3h-1.1zM339.4 206.6h1.1v1.3h-1.1zM306.8 209.7h1.4v1.5h-1.4zM277.9 213.2h0.9v1.1h-0.9zM317.8 203.0h1.5v1.5h-1.5zM342.8 213.8h0.8v1.5h-0.8zM309.3 205.6h1.2v1.4h-1.2zM318.6 210.3h1.8v0.9h-1.8zM356.0 207.6h1.2v1.2h-1.2zM276.1 213.0h1.4v1.1h-1.4zM343.3 211.0h1.1v1.0h-1.1zM252.8 207.3h0.9v1.3h-0.9zM292.7 206.7h1.6v1.4h-1.6zM295.5 204.8h1.7v1.2h-1.7zM353.4 205.5h1.2v0.9h-1.2zM298.6 205.8h1.3v1.2h-1.3zM261.4 210.1h1.2v1.4h-1.2zM349.3 202.8h1.0v1.0h-1.0zM314.0 203.7h1.2v0.8h-1.2zM344.8 207.7h1.6v0.9h-1.6zM285.9 212.1h1.4v1.5h-1.4zM254.6 211.3h1.5v1.4h-1.5zM270.1 204.9h1.4v1.2h-1.4zM270.0 212.2h1.4v0.8h-1.4zM312.2 203.9h1.2v1.1h-1.2zM349.8 211.0h1.5v0.8h-1.5zM323.3 208.4h0.8v1.1h-0.8zM367.7 204.5h1.3v1.3h-1.3zM310.7 207.8h1.2v1.2h-1.2zM282.2 207.3h1.6v0.9h-1.6z" fill="#e8dcf0" opacity="0.6"/>
<path d="M354.8 222.1h1.5v1.2h-1.5zM356.5 224.5h1.4v1.1h-1.4zM312.8 224.4h0.8v0.9h-0.8zM331.0 217.3h1.1v0.9h-1.1zM341.3 218.2h1.0v0.9h-1.0zM250.7 219.2h1.8v1.0h-1.8zM342.2 219.3h1.0v1.1h-1.0zM270.9 221.8h1.8v1.4h-1.8zM284.1 220.4h1.8v1.0h-1.8zM331.0 222.7h1.1v1.3h-1.1zM353.7 218.9h1.3v1.3h-1.3zM361.2 219.9h1.2v1.3h-1.2z" fill="#f0e8f6" opacity="0.8"/>
<path d="M291.3 223.1h1.0v1.0h-1.0zM249.1 226.2h1.5v1.4h-1.5zM296.6 219.3h1.6v1.3h-1.6zM251.8 225.6h1.8v1.4h-1.8zM310.7 216.6h1.2v1.4h-1.2zM256.2 226.1h1.6v0.9h-1.6zM327.3 222.0h1.2v1.1h-1.2zM299.1 217.7h1.8v1.0h-1.8zM324.5 219.8h1.4v1.2h-1.4zM311.5 216.1h1.5v1.5h-1.5zM306.9 216.1h1.3v1.4h-1.3zM283.2 218.6h1.3v1.5h-1.3zM256.5 221.1h1.3v0.9h-1.3zM248.5 221.1h1.0v0.8h-1.0zM309.8 227.0h0.8v1.1h-0.8zM274.2 223.7h1.6v1.4h-1.6zM293.0 217.3h1.3v1.4h-1.3z" fill="#f0e8f6" opacity="0.5"/>
<path d="M295.4 219.3h1.4v0.8h-1.4zM364.5 218.3h0.9v1.2h-0.9zM362.7 216.5h1.7v1.3h-1.7zM265.3 219.9h1.2v1.0h-1.2zM254.7 223.1h1.3v1.2h-1.3zM299.3 220.6h1.4v0.8h-1.4zM247.0 220.0h0.9v1.3h-0.9zM291.5 219.5h1.0v1.3h-1.0zM299.3 222.5h1.5v1.3h-1.5zM332.2 219.6h1.3v1.0h-1.3zM316.0 219.1h1.3v1.3h-1.3zM267.1 220.9h1.8v0.8h-1.8zM364.6 221.6h1.8v1.2h-1.8zM282.9 220.6h0.9v1.1h-0.9zM353.3 223.2h0.9v1.4h-0.9zM286.9 224.0h0.9v1.3h-0.9z" fill="#f0e8f6" opacity="0.6"/>
<path d="M320.0 224.7h1.6v1.1h-1.6zM288.7 226.9h1.6v1.2h-1.6zM287.9 226.4h1.1v0.9h-1.1zM332.2 225.0h1.4v1.3h-1.4zM338.0 220.0h1.6v1.2h-1.6zM321.8 221.1h1.4v1.3h-1.4zM272.7 221.2h1.6v1.2h-1.6zM316.1 216.1h1.1v1.3h-1.1zM354.9 216.9h1.3v1.4h-1.3zM342.6 218.9h1.7v1.3h-1.7zM339.1 222.5h1.2v1.0h-1.2z" fill="#f0e8f6" opacity="0.7"/>
<path d="M264.5 223.8h0.8v1.0h-0.8zM296.1 216.6h0.9v1.0h-0.9zM355.3 217.9h1.3v1.0h-1.3zM273.4 221.9h1.5v1.0h-1.5zM267.7 226.3h1.6v1.2h-1.6z" fill="#f0e8f6" opacity="0.4"/>
<path d="M323.3 224.6h1.6v1.5h-1.6zM275.2 218.2h1.2v1.2h-1.2zM247.4 226.4h0.9v1.4h-0.9zM255.1 225.4h0.8v1.2h-0.8zM351.8 223.6h0.9v1.3h-0.9zM335.1 226.2h1.0v0.8h-1.0zM363.7 222.4h1.1v1.4h-1.1zM305.0 226.5h1.0v1.3h-1.0zM262.6 218.9h1.4v0.9h-1.4z" fill="#f0e8f6" opacity="0.9"/>
<path d="M310.6 219.5h1.0v1.0h-1.0zM362.0 223.7h1.8v1.2h-1.8zM287.2 221.7h1.0v1.1h-1.0zM293.3 220.0h0.8v1.4h-0.8zM361.3 221.9h1.4v0.9h-1.4zM290.4 219.9h1.4v1.4h-1.4zM303.1 222.6h1.0v0.8h-1.0zM324.9 221.5h1.1v1.3h-1.1zM348.5 225.3h1.0v1.2h-1.0zM321.8 224.1h1.3v1.3h-1.3zM321.5 218.5h1.3v0.9h-1.3zM250.4 218.2h1.0v1.2h-1.0zM260.8 222.7h1.7v1.2h-1.7zM307.0 218.7h0.8v1.0h-0.8zM340.9 220.5h1.7v0.9h-1.7zM335.8 221.8h1.1v1.5h-1.1zM334.9 224.7h1.3v1.4h-1.3z" fill="#8a70c0" opacity="0.6"/>
<path d="M262.6 219.4h1.8v1.5h-1.8zM266.7 223.2h1.8v1.5h-1.8zM251.8 225.5h1.1v1.2h-1.1zM347.2 225.7h1.4v1.2h-1.4zM329.2 221.8h1.6v1.5h-1.6zM287.1 220.9h1.4v1.0h-1.4zM366.3 218.6h0.8v1.0h-0.8zM302.2 218.7h1.3v1.0h-1.3zM302.2 219.4h1.3v1.1h-1.3z" fill="#8a70c0" opacity="0.9"/>
<path d="M300.1 223.5h1.8v1.3h-1.8zM352.4 222.1h1.7v1.0h-1.7zM269.6 221.4h0.9v1.4h-0.9zM299.4 224.7h1.0v1.4h-1.0zM335.2 216.4h1.1v1.3h-1.1zM301.6 223.2h1.2v1.3h-1.2zM347.3 218.1h1.6v1.3h-1.6zM340.7 219.7h1.7v1.0h-1.7zM286.9 220.1h1.3v1.1h-1.3zM284.0 216.6h1.1v0.8h-1.1zM258.5 225.1h1.8v1.1h-1.8zM255.1 218.0h1.7v1.2h-1.7zM292.2 216.1h1.2v1.3h-1.2z" fill="#8a70c0" opacity="0.8"/>
<path d="M299.1 218.4h1.6v1.4h-1.6zM303.6 218.9h1.6v1.3h-1.6zM337.4 226.4h1.2v1.0h-1.2zM276.3 221.8h0.9v1.0h-0.9zM254.1 221.7h0.9v1.3h-0.9zM339.9 226.6h1.2v1.2h-1.2zM310.2 223.2h1.6v1.5h-1.6zM267.6 224.7h1.0v1.2h-1.0z" fill="#8a70c0" opacity="0.7"/>
<path d="M346.4 216.3h1.6v1.4h-1.6zM306.2 223.6h1.3v1.2h-1.3zM270.6 225.6h1.4v1.0h-1.4zM274.2 226.9h1.7v1.1h-1.7zM362.4 217.7h1.5v1.1h-1.5zM365.9 222.4h0.9v1.2h-0.9zM287.0 221.6h1.2v1.0h-1.2zM306.7 223.9h1.2v1.3h-1.2z" fill="#8a70c0" opacity="0.5"/>
<path d="M289.2 222.5h1.1v1.2h-1.1zM342.9 220.4h1.6v1.2h-1.6zM258.5 218.8h1.5v1.4h-1.5zM346.9 217.8h1.0v1.4h-1.0zM266.0 222.0h1.3v0.9h-1.3z" fill="#8a70c0" opacity="0.4"/>
<path d="M298.6 192.7h1.4v0.8h-1.4zM349.6 190.8h0.9v1.1h-0.9zM267.0 191.9h1.1v1.4h-1.1zM304.4 194.0h1.5v1.4h-1.5zM249.0 194.0h1.0v1.4h-1.0zM259.9 194.3h1.1v1.2h-1.1zM270.5 195.3h1.4v1.1h-1.4zM299.0 193.0h0.9v1.5h-0.9zM266.8 191.2h1.2v1.4h-1.2z" fill="#c080c8" opacity="0.7"/>
<path d="M292.2 192.5h1.7v1.5h-1.7zM352.5 194.0h1.2v1.0h-1.2zM287.9 194.4h1.4v1.1h-1.4zM330.1 194.1h1.7v1.4h-1.7zM307.6 192.2h1.5v1.0h-1.5zM360.2 191.4h1.5v1.0h-1.5z" fill="#c080c8" opacity="0.9"/>
<path d="M314.1 190.5h1.6v1.5h-1.6zM281.6 190.1h1.6v1.0h-1.6zM314.2 193.4h0.9v0.9h-0.9zM249.5 193.3h1.3v0.9h-1.3zM334.6 195.4h0.9v0.8h-0.9zM334.2 193.0h1.7v1.4h-1.7zM297.5 195.4h1.7v0.9h-1.7zM247.3 192.1h0.9v1.0h-0.9zM291.0 191.4h1.0v1.0h-1.0z" fill="#c080c8" opacity="0.5"/>
<path d="M296.9 191.5h1.0v0.8h-1.0zM258.0 195.2h1.7v1.0h-1.7zM328.4 195.7h1.6v1.2h-1.6zM270.7 195.6h0.8v1.3h-0.8zM304.8 191.5h1.7v1.4h-1.7z" fill="#c080c8" opacity="0.6"/>
<path d="M359.8 194.4h1.1v1.0h-1.1zM346.5 191.9h1.1v1.0h-1.1zM346.9 191.5h1.5v1.0h-1.5zM304.8 193.1h1.6v1.1h-1.6zM256.9 191.6h0.9v0.8h-0.9zM274.3 191.2h1.0v1.5h-1.0zM273.8 193.6h1.0v1.2h-1.0zM355.3 193.1h1.7v1.3h-1.7z" fill="#c080c8" opacity="0.8"/>
<path d="M316.2 194.2h0.9v1.5h-0.9zM318.0 195.3h0.9v1.0h-0.9zM311.6 190.5h0.9v1.4h-0.9z" fill="#c080c8" opacity="0.4"/>
<path d="M246,154.2 L246.0,154.2 L246.0,163.2 L255.2,157.6 L264.6,157.2 L273.9,155.4 L285.1,154.8 L292.6,157.6 L305.7,154.8 L318.8,155.7 L328.1,158.5 L337.5,154.8 L348.7,156.7 L359.9,159.5 L369.3,160.4 L369.3,160.4 L369.3,154.2 Z" fill="#f2eef4"/>
<path d="M246.0,163.2 L255.2,157.6 L264.6,157.2 L273.9,155.4 L285.1,154.8 L292.6,157.6 L305.7,154.8 L318.8,155.7 L328.1,158.5 L337.5,154.8 L348.7,156.7 L359.9,159.5 L369.3,160.4" fill="none" stroke="#1e0a1c" stroke-width="1.5"/>
<path d="M246.0,164.6 L255.2,159.0 L264.6,158.6 L273.9,156.8 L285.1,156.2 L292.6,159.0 L305.7,156.2 L318.8,157.1 L328.1,159.9 L337.5,156.2 L348.7,158.1 L359.9,160.9 L369.3,161.8" fill="none" stroke="#7a3a7a" stroke-width="0.8" opacity="0.6"/>
<rect x="92.50" y="34.60" width="123.00" height="9.70" fill="#fff" stroke="#333" stroke-width="1" />
<text x="154.00" y="42.60" font-size="8.4" fill="#333" text-anchor="middle" textLength="13.20" lengthAdjust="spacingAndGlyphs" >WT</text>
<rect x="245.80" y="34.60" width="123.50" height="9.70" fill="#fff" stroke="#333" stroke-width="1" />
<text x="298.40" y="42.90" font-size="8.6" fill="#333" font-style="italic" textLength="19.70" lengthAdjust="spacingAndGlyphs" >sws2</text>
<text x="318.50" y="40.50" font-size="4.6" fill="#333" font-style="italic" textLength="4.40" lengthAdjust="spacingAndGlyphs" >-/-</text>
<rect x="92.50" y="142.50" width="123.00" height="9.80" fill="#fff" stroke="#333" stroke-width="1" />
<text x="154.00" y="150.70" font-size="8.4" fill="#333" text-anchor="middle" textLength="13.20" lengthAdjust="spacingAndGlyphs" >WT</text>
<rect x="245.80" y="142.50" width="123.50" height="9.80" fill="#fff" stroke="#333" stroke-width="1" />
<text x="298.40" y="150.90" font-size="8.6" fill="#333" font-style="italic" textLength="19.30" lengthAdjust="spacingAndGlyphs" >sws1</text>
<text x="318.10" y="148.50" font-size="4.6" fill="#333" font-style="italic" textLength="4.80" lengthAdjust="spacingAndGlyphs" >-/-</text>
<rect x="180.00" y="120.40" width="30.00" height="2.20" fill="#111" />
<rect x="333.50" y="120.40" width="30.00" height="2.20" fill="#111" />
<rect x="180.00" y="228.10" width="30.00" height="2.20" fill="#111" />
<rect x="333.70" y="228.10" width="29.80" height="2.20" fill="#111" />
<rect x="217.00" y="47.00" width="2.20" height="30.00" fill="#1a1a1a" />
<rect x="217.00" y="78.00" width="2.20" height="11.70" fill="#e8202a" />
<rect x="217.00" y="91.60" width="2.20" height="5.10" fill="#1a1a1a" />
<rect x="217.00" y="98.50" width="2.20" height="10.20" fill="#1a1a1a" />
<rect x="217.00" y="110.00" width="2.20" height="14.30" fill="#1a1a1a" />
<rect x="242.30" y="47.60" width="2.30" height="27.40" fill="#1a1a1a" />
<rect x="242.30" y="75.80" width="2.30" height="12.00" fill="#e8202a" />
<rect x="242.30" y="89.30" width="2.30" height="3.30" fill="#1a1a1a" />
<rect x="242.30" y="95.50" width="2.30" height="13.20" fill="#1a1a1a" />
<rect x="242.30" y="110.00" width="2.30" height="13.30" fill="#1a1a1a" />
<rect x="216.50" y="159.50" width="2.30" height="23.30" fill="#1a1a1a" />
<rect x="216.50" y="183.90" width="2.30" height="10.60" fill="#e8202a" />
<rect x="216.50" y="196.00" width="2.30" height="3.60" fill="#1a1a1a" />
<rect x="216.50" y="202.80" width="2.30" height="20.20" fill="#1a1a1a" />
<rect x="216.50" y="225.20" width="2.30" height="8.30" fill="#1a1a1a" />
<rect x="242.20" y="159.90" width="2.50" height="23.70" fill="#1a1a1a" />
<rect x="242.20" y="184.70" width="2.50" height="12.70" fill="#e8202a" />
<rect x="242.20" y="199.30" width="2.50" height="1.80" fill="#1a1a1a" />
<rect x="242.20" y="204.30" width="2.50" height="12.90" fill="#1a1a1a" />
<rect x="242.20" y="217.90" width="2.50" height="14.60" fill="#1a1a1a" />
<text x="231.20" y="65.80" font-size="8.4" fill="#333" text-anchor="middle" >PEL</text>
<text x="231.20" y="85.00" font-size="8.4" fill="#333" text-anchor="middle" >PRL</text>
<text x="231.20" y="95.50" font-size="8.4" fill="#333" text-anchor="middle" >ONL</text>
<text x="231.20" y="105.80" font-size="8.4" fill="#333" text-anchor="middle" >INL</text>
<text x="231.20" y="119.60" font-size="8.4" fill="#333" text-anchor="middle" >IPL</text>
<text x="231.20" y="174.80" font-size="8.4" fill="#333" text-anchor="middle" >PEL</text>
<text x="231.20" y="193.10" font-size="8.4" fill="#333" text-anchor="middle" >PRL</text>
<text x="231.20" y="201.80" font-size="8.4" fill="#333" text-anchor="middle" >ONL</text>
<text x="231.20" y="213.50" font-size="8.4" fill="#333" text-anchor="middle" >INL</text>
<text x="231.20" y="227.40" font-size="8.4" fill="#333" text-anchor="middle" >IPL</text>
<rect x="26.30" y="74.00" width="53.70" height="26.40" fill="#fff" stroke="#333" stroke-width="1.3" />
<text x="53.40" y="84.90" font-size="10" fill="#333" text-anchor="middle" >blue light</text>
<text x="53.40" y="96.80" font-size="10" fill="#333" text-anchor="middle" >irradiation</text>
<rect x="26.90" y="182.60" width="54.10" height="26.30" fill="#fff" stroke="#333" stroke-width="1.3" />
<text x="54.00" y="193.70" font-size="10" fill="#333" text-anchor="middle" >violet light</text>
<text x="53.50" y="204.80" font-size="10" fill="#333" text-anchor="middle" >irradiation</text>
<line x1="407.30" y1="17.00" x2="407.30" y2="118.70" stroke="#333" stroke-width="1.3" />
<line x1="406.70" y1="118.10" x2="509.00" y2="118.10" stroke="#333" stroke-width="1.3" />
<line x1="403.30" y1="118.10" x2="407.30" y2="118.10" stroke="#333" stroke-width="1.2" />
<text x="402.40" y="120.65" font-size="7.1" fill="#444" text-anchor="end" textLength="4.25" lengthAdjust="spacingAndGlyphs" >0</text>
<line x1="403.30" y1="84.50" x2="407.30" y2="84.50" stroke="#333" stroke-width="1.2" />
<text x="402.40" y="87.05" font-size="7.1" fill="#444" text-anchor="end" textLength="8.50" lengthAdjust="spacingAndGlyphs" >10</text>
<line x1="403.30" y1="50.90" x2="407.30" y2="50.90" stroke="#333" stroke-width="1.2" />
<text x="402.40" y="53.45" font-size="7.1" fill="#444" text-anchor="end" textLength="8.50" lengthAdjust="spacingAndGlyphs" >20</text>
<line x1="403.30" y1="17.30" x2="407.30" y2="17.30" stroke="#333" stroke-width="1.2" />
<text x="402.40" y="19.85" font-size="7.1" fill="#444" text-anchor="end" textLength="8.50" lengthAdjust="spacingAndGlyphs" >30</text>
<rect x="421.60" y="54.10" width="29.10" height="64.00" fill="#2453a5" stroke="#222" stroke-width="1.2" />
<line x1="436.10" y1="46.20" x2="436.10" y2="62.20" stroke="#222" stroke-width="1.2" />
<line x1="428.90" y1="46.20" x2="443.30" y2="46.20" stroke="#222" stroke-width="1.2" />
<line x1="428.90" y1="62.20" x2="443.30" y2="62.20" stroke="#222" stroke-width="1.2" />
<circle cx="436.00" cy="42.80" r="2.1" fill="#1a1a1a"/>
<circle cx="423.60" cy="50.70" r="2.1" fill="#1a1a1a"/>
<circle cx="431.60" cy="52.50" r="2.1" fill="#1a1a1a"/>
<circle cx="440.00" cy="50.70" r="2.1" fill="#1a1a1a"/>
<circle cx="448.20" cy="53.20" r="2.1" fill="#1a1a1a"/>
<circle cx="431.60" cy="56.90" r="2.1" fill="#1a1a1a"/>
<circle cx="440.20" cy="57.60" r="2.1" fill="#1a1a1a"/>
<circle cx="436.00" cy="70.70" r="2.1" fill="#1a1a1a"/>
<line x1="436.10" y1="118.10" x2="436.10" y2="121.60" stroke="#333" stroke-width="1.2" />
<rect x="465.50" y="39.70" width="28.20" height="78.40" fill="#5b95d0" stroke="#222" stroke-width="1.2" />
<line x1="479.50" y1="27.30" x2="479.50" y2="52.30" stroke="#222" stroke-width="1.2" />
<line x1="472.30" y1="27.30" x2="486.70" y2="27.30" stroke="#222" stroke-width="1.2" />
<line x1="472.30" y1="52.30" x2="486.70" y2="52.30" stroke="#222" stroke-width="1.2" />
<circle cx="475.60" cy="26.30" r="2.1" fill="#1a1a1a"/>
<circle cx="483.90" cy="24.70" r="2.1" fill="#1a1a1a"/>
<circle cx="479.50" cy="33.50" r="2.1" fill="#1a1a1a"/>
<circle cx="475.20" cy="38.50" r="2.1" fill="#1a1a1a"/>
<circle cx="483.90" cy="39.40" r="2.1" fill="#1a1a1a"/>
<circle cx="475.20" cy="43.80" r="2.1" fill="#1a1a1a"/>
<circle cx="483.90" cy="45.70" r="2.1" fill="#1a1a1a"/>
<circle cx="479.50" cy="64.10" r="2.1" fill="#1a1a1a"/>
<line x1="479.50" y1="118.10" x2="479.50" y2="121.60" stroke="#333" stroke-width="1.2" />
<path d="M436.2,36.8 V12.5 H479.5 V19.0" stroke="#444" stroke-width="1.2" fill="none" />
<text x="458.00" y="8.90" font-size="10" fill="#333" text-anchor="middle" textLength="30.70" lengthAdjust="spacingAndGlyphs" >0.0131</text>
<text x="436.40" y="130.40" font-size="7.7" fill="#333" text-anchor="middle" textLength="11.80" lengthAdjust="spacingAndGlyphs" >WT</text>
<text x="468.20" y="130.40" font-size="7.7" fill="#333" font-style="italic" textLength="17.60" lengthAdjust="spacingAndGlyphs" >sws2</text>
<text x="486.30" y="127.30" font-size="4.6" fill="#333" font-style="italic" textLength="4.90" lengthAdjust="spacingAndGlyphs" >-/-</text>
<text x="390.00" y="68.30" font-size="8.0" fill="#333" text-anchor="middle" textLength="108.50" lengthAdjust="spacingAndGlyphs" transform="rotate(-90 390.00 68.30)" >photoreceptor cell length / um</text>
<line x1="562.30" y1="16.80" x2="562.30" y2="118.90" stroke="#333" stroke-width="1.3" />
<line x1="561.70" y1="118.30" x2="664.00" y2="118.30" stroke="#333" stroke-width="1.3" />
<line x1="558.30" y1="118.30" x2="562.30" y2="118.30" stroke="#333" stroke-width="1.2" />
<text x="557.40" y="120.85" font-size="7.1" fill="#444" text-anchor="end" textLength="4.25" lengthAdjust="spacingAndGlyphs" >0</text>
<line x1="558.30" y1="98.06" x2="562.30" y2="98.06" stroke="#333" stroke-width="1.2" />
<text x="557.40" y="100.61" font-size="7.1" fill="#444" text-anchor="end" textLength="8.50" lengthAdjust="spacingAndGlyphs" >10</text>
<line x1="558.30" y1="77.82" x2="562.30" y2="77.82" stroke="#333" stroke-width="1.2" />
<text x="557.40" y="80.37" font-size="7.1" fill="#444" text-anchor="end" textLength="8.50" lengthAdjust="spacingAndGlyphs" >20</text>
<line x1="558.30" y1="57.58" x2="562.30" y2="57.58" stroke="#333" stroke-width="1.2" />
<text x="557.40" y="60.13" font-size="7.1" fill="#444" text-anchor="end" textLength="8.50" lengthAdjust="spacingAndGlyphs" >30</text>
<line x1="558.30" y1="37.34" x2="562.30" y2="37.34" stroke="#333" stroke-width="1.2" />
<text x="557.40" y="39.89" font-size="7.1" fill="#444" text-anchor="end" textLength="8.50" lengthAdjust="spacingAndGlyphs" >40</text>
<line x1="558.30" y1="17.10" x2="562.30" y2="17.10" stroke="#333" stroke-width="1.2" />
<text x="557.40" y="19.65" font-size="7.1" fill="#444" text-anchor="end" textLength="8.50" lengthAdjust="spacingAndGlyphs" >50</text>
<rect x="577.00" y="60.40" width="28.60" height="57.90" fill="#2453a5" stroke="#222" stroke-width="1.2" />
<line x1="591.10" y1="50.20" x2="591.10" y2="70.50" stroke="#222" stroke-width="1.2" />
<line x1="583.90" y1="50.20" x2="598.30" y2="50.20" stroke="#222" stroke-width="1.2" />
<line x1="583.90" y1="70.50" x2="598.30" y2="70.50" stroke="#222" stroke-width="1.2" />
<circle cx="578.80" cy="49.20" r="2.1" fill="#1a1a1a"/>
<circle cx="578.80" cy="54.00" r="2.1" fill="#1a1a1a"/>
<circle cx="587.10" cy="54.00" r="2.1" fill="#1a1a1a"/>
<circle cx="595.50" cy="51.70" r="2.1" fill="#1a1a1a"/>
<circle cx="587.10" cy="64.10" r="2.1" fill="#1a1a1a"/>
<circle cx="595.50" cy="62.20" r="2.1" fill="#1a1a1a"/>
<circle cx="595.50" cy="68.10" r="2.1" fill="#1a1a1a"/>
<circle cx="591.10" cy="80.10" r="2.1" fill="#1a1a1a"/>
<line x1="591.10" y1="118.30" x2="591.10" y2="121.80" stroke="#333" stroke-width="1.2" />
<rect x="620.30" y="43.00" width="28.30" height="75.30" fill="#5b95d0" stroke="#222" stroke-width="1.2" />
<line x1="634.60" y1="27.30" x2="634.60" y2="58.30" stroke="#222" stroke-width="1.2" />
<line x1="627.40" y1="27.30" x2="641.80" y2="27.30" stroke="#222" stroke-width="1.2" />
<line x1="627.40" y1="58.30" x2="641.80" y2="58.30" stroke="#222" stroke-width="1.2" />
<circle cx="630.30" cy="25.20" r="2.1" fill="#1a1a1a"/>
<circle cx="638.80" cy="23.40" r="2.1" fill="#1a1a1a"/>
<circle cx="634.60" cy="31.50" r="2.1" fill="#1a1a1a"/>
<circle cx="634.60" cy="37.80" r="2.1" fill="#1a1a1a"/>
<circle cx="630.20" cy="51.70" r="2.1" fill="#1a1a1a"/>
<circle cx="638.80" cy="51.70" r="2.1" fill="#1a1a1a"/>
<circle cx="634.50" cy="57.70" r="2.1" fill="#1a1a1a"/>
<circle cx="634.50" cy="64.10" r="2.1" fill="#1a1a1a"/>
<line x1="634.60" y1="118.30" x2="634.60" y2="121.80" stroke="#333" stroke-width="1.2" />
<path d="M591.3,43.4 V11.6 H634.6 V17.3" stroke="#444" stroke-width="1.2" fill="none" />
<text x="613.30" y="7.90" font-size="10" fill="#333" text-anchor="middle" textLength="31.50" lengthAdjust="spacingAndGlyphs" >0.0184</text>
<text x="591.40" y="130.60" font-size="7.7" fill="#333" text-anchor="middle" textLength="11.80" lengthAdjust="spacingAndGlyphs" >WT</text>
<text x="623.20" y="130.60" font-size="7.7" fill="#333" font-style="italic" textLength="17.60" lengthAdjust="spacingAndGlyphs" >sws2</text>
<text x="641.30" y="127.50" font-size="4.6" fill="#333" font-style="italic" textLength="4.90" lengthAdjust="spacingAndGlyphs" >-/-</text>
<text x="534.50" y="67.50" font-size="8.0" fill="#333" text-anchor="middle" textLength="110.00" lengthAdjust="spacingAndGlyphs" transform="rotate(-90 534.50 67.50)" >number of photoreceptor cells</text>
<text x="544.30" y="67.50" font-size="8.0" fill="#333" text-anchor="middle" textLength="55.00" lengthAdjust="spacingAndGlyphs" transform="rotate(-90 544.30 67.50)" >(50um * 50um)</text>
<line x1="407.00" y1="160.30" x2="407.00" y2="262.30" stroke="#333" stroke-width="1.3" />
<line x1="406.40" y1="261.70" x2="509.00" y2="261.70" stroke="#333" stroke-width="1.3" />
<line x1="403.00" y1="261.70" x2="407.00" y2="261.70" stroke="#333" stroke-width="1.2" />
<text x="402.10" y="264.25" font-size="7.1" fill="#444" text-anchor="end" textLength="4.25" lengthAdjust="spacingAndGlyphs" >0</text>
<line x1="403.00" y1="236.40" x2="407.00" y2="236.40" stroke="#333" stroke-width="1.2" />
<text x="402.10" y="238.95" font-size="7.1" fill="#444" text-anchor="end" textLength="8.50" lengthAdjust="spacingAndGlyphs" >10</text>
<line x1="403.00" y1="211.10" x2="407.00" y2="211.10" stroke="#333" stroke-width="1.2" />
<text x="402.10" y="213.65" font-size="7.1" fill="#444" text-anchor="end" textLength="8.50" lengthAdjust="spacingAndGlyphs" >20</text>
<line x1="403.00" y1="185.80" x2="407.00" y2="185.80" stroke="#333" stroke-width="1.2" />
<text x="402.10" y="188.35" font-size="7.1" fill="#444" text-anchor="end" textLength="8.50" lengthAdjust="spacingAndGlyphs" >30</text>
<line x1="403.00" y1="160.50" x2="407.00" y2="160.50" stroke="#333" stroke-width="1.2" />
<text x="402.10" y="163.05" font-size="7.1" fill="#444" text-anchor="end" textLength="8.50" lengthAdjust="spacingAndGlyphs" >40</text>
<rect x="421.60" y="211.00" width="28.50" height="50.70" fill="#7b4a9f" stroke="#222" stroke-width="1.2" />
<line x1="436.00" y1="202.70" x2="436.00" y2="219.40" stroke="#222" stroke-width="1.2" />
<line x1="428.80" y1="202.70" x2="443.20" y2="202.70" stroke="#222" stroke-width="1.2" />
<line x1="428.80" y1="219.40" x2="443.20" y2="219.40" stroke="#222" stroke-width="1.2" />
<circle cx="427.70" cy="202.20" r="2.1" fill="#1a1a1a"/>
<circle cx="427.70" cy="207.30" r="2.1" fill="#1a1a1a"/>
<circle cx="436.00" cy="205.40" r="2.1" fill="#1a1a1a"/>
<circle cx="444.20" cy="204.00" r="2.1" fill="#1a1a1a"/>
<circle cx="436.00" cy="211.00" r="2.1" fill="#1a1a1a"/>
<circle cx="431.70" cy="215.50" r="2.1" fill="#1a1a1a"/>
<circle cx="440.00" cy="215.50" r="2.1" fill="#1a1a1a"/>
<circle cx="436.00" cy="226.30" r="2.1" fill="#1a1a1a"/>
<line x1="436.00" y1="261.70" x2="436.00" y2="265.20" stroke="#333" stroke-width="1.2" />
<rect x="465.40" y="198.20" width="28.10" height="63.50" fill="#b08ac2" stroke="#222" stroke-width="1.2" />
<line x1="479.50" y1="190.50" x2="479.50" y2="205.40" stroke="#222" stroke-width="1.2" />
<line x1="472.30" y1="190.50" x2="486.70" y2="190.50" stroke="#222" stroke-width="1.2" />
<line x1="472.30" y1="205.40" x2="486.70" y2="205.40" stroke="#222" stroke-width="1.2" />
<circle cx="475.00" cy="186.90" r="2.1" fill="#1a1a1a"/>
<circle cx="483.90" cy="190.50" r="2.1" fill="#1a1a1a"/>
<circle cx="475.00" cy="193.00" r="2.1" fill="#1a1a1a"/>
<circle cx="475.00" cy="197.90" r="2.1" fill="#1a1a1a"/>
<circle cx="475.00" cy="203.00" r="2.1" fill="#1a1a1a"/>
<circle cx="483.90" cy="200.70" r="2.1" fill="#1a1a1a"/>
<circle cx="475.00" cy="207.50" r="2.1" fill="#1a1a1a"/>
<circle cx="483.90" cy="206.20" r="2.1" fill="#1a1a1a"/>
<line x1="479.50" y1="261.70" x2="479.50" y2="265.20" stroke="#333" stroke-width="1.2" />
<path d="M435.8,196.6 V174.5 H479.5 V180.5" stroke="#444" stroke-width="1.2" fill="none" />
<text x="457.90" y="170.90" font-size="10" fill="#333" text-anchor="middle" textLength="25.70" lengthAdjust="spacingAndGlyphs" >0.005</text>
<text x="436.30" y="274.00" font-size="7.7" fill="#333" text-anchor="middle" textLength="11.80" lengthAdjust="spacingAndGlyphs" >WT</text>
<text x="468.20" y="274.00" font-size="7.7" fill="#333" font-style="italic" textLength="17.60" lengthAdjust="spacingAndGlyphs" >sws1</text>
<text x="486.30" y="270.90" font-size="4.6" fill="#333" font-style="italic" textLength="4.90" lengthAdjust="spacingAndGlyphs" >-/-</text>
<text x="390.00" y="212.00" font-size="8.0" fill="#333" text-anchor="middle" textLength="108.50" lengthAdjust="spacingAndGlyphs" transform="rotate(-90 390.00 212.00)" >photoreceptor cell length / um</text>
<line x1="561.50" y1="159.30" x2="561.50" y2="261.20" stroke="#333" stroke-width="1.3" />
<line x1="560.90" y1="260.60" x2="663.00" y2="260.60" stroke="#333" stroke-width="1.3" />
<line x1="557.50" y1="260.60" x2="561.50" y2="260.60" stroke="#333" stroke-width="1.2" />
<text x="556.60" y="263.15" font-size="7.1" fill="#444" text-anchor="end" textLength="4.25" lengthAdjust="spacingAndGlyphs" >0</text>
<line x1="557.50" y1="240.40" x2="561.50" y2="240.40" stroke="#333" stroke-width="1.2" />
<text x="556.60" y="242.95" font-size="7.1" fill="#444" text-anchor="end" textLength="8.50" lengthAdjust="spacingAndGlyphs" >10</text>
<line x1="557.50" y1="220.20" x2="561.50" y2="220.20" stroke="#333" stroke-width="1.2" />
<text x="556.60" y="222.75" font-size="7.1" fill="#444" text-anchor="end" textLength="8.50" lengthAdjust="spacingAndGlyphs" >20</text>
<line x1="557.50" y1="200.00" x2="561.50" y2="200.00" stroke="#333" stroke-width="1.2" />
<text x="556.60" y="202.55" font-size="7.1" fill="#444" text-anchor="end" textLength="8.50" lengthAdjust="spacingAndGlyphs" >30</text>
<line x1="557.50" y1="179.80" x2="561.50" y2="179.80" stroke="#333" stroke-width="1.2" />
<text x="556.60" y="182.35" font-size="7.1" fill="#444" text-anchor="end" textLength="8.50" lengthAdjust="spacingAndGlyphs" >40</text>
<line x1="557.50" y1="159.60" x2="561.50" y2="159.60" stroke="#333" stroke-width="1.2" />
<text x="556.60" y="162.15" font-size="7.1" fill="#444" text-anchor="end" textLength="8.50" lengthAdjust="spacingAndGlyphs" >50</text>
<rect x="575.40" y="201.00" width="28.60" height="59.60" fill="#7b4a9f" stroke="#222" stroke-width="1.2" />
<line x1="589.50" y1="191.40" x2="589.50" y2="210.70" stroke="#222" stroke-width="1.2" />
<line x1="582.30" y1="191.40" x2="596.70" y2="191.40" stroke="#222" stroke-width="1.2" />
<line x1="582.30" y1="210.70" x2="596.70" y2="210.70" stroke="#222" stroke-width="1.2" />
<circle cx="577.50" cy="191.40" r="2.1" fill="#1a1a1a"/>
<circle cx="577.50" cy="195.90" r="2.1" fill="#1a1a1a"/>
<circle cx="585.50" cy="195.90" r="2.1" fill="#1a1a1a"/>
<circle cx="593.90" cy="197.50" r="2.1" fill="#1a1a1a"/>
<circle cx="602.40" cy="194.00" r="2.1" fill="#1a1a1a"/>
<circle cx="585.50" cy="203.90" r="2.1" fill="#1a1a1a"/>
<circle cx="593.90" cy="205.80" r="2.1" fill="#1a1a1a"/>
<circle cx="589.50" cy="222.20" r="2.1" fill="#1a1a1a"/>
<line x1="589.50" y1="260.60" x2="589.50" y2="264.10" stroke="#333" stroke-width="1.2" />
<rect x="619.60" y="183.00" width="28.20" height="77.60" fill="#b08ac2" stroke="#222" stroke-width="1.2" />
<line x1="633.40" y1="170.50" x2="633.40" y2="195.40" stroke="#222" stroke-width="1.2" />
<line x1="626.20" y1="170.50" x2="640.60" y2="170.50" stroke="#222" stroke-width="1.2" />
<line x1="626.20" y1="195.40" x2="640.60" y2="195.40" stroke="#222" stroke-width="1.2" />
<circle cx="624.90" cy="171.80" r="2.1" fill="#1a1a1a"/>
<circle cx="633.40" cy="173.40" r="2.1" fill="#1a1a1a"/>
<circle cx="641.70" cy="171.80" r="2.1" fill="#1a1a1a"/>
<circle cx="624.90" cy="177.70" r="2.1" fill="#1a1a1a"/>
<circle cx="641.70" cy="177.70" r="2.1" fill="#1a1a1a"/>
<circle cx="633.40" cy="193.80" r="2.1" fill="#1a1a1a"/>
<circle cx="624.90" cy="199.90" r="2.1" fill="#1a1a1a"/>
<circle cx="641.70" cy="197.80" r="2.1" fill="#1a1a1a"/>
<line x1="633.40" y1="260.60" x2="633.40" y2="264.10" stroke="#333" stroke-width="1.2" />
<path d="M589.5,184.6 V158.8 H633.4 V164.9" stroke="#444" stroke-width="1.2" fill="none" />
<text x="611.80" y="155.30" font-size="10" fill="#333" text-anchor="middle" textLength="31.60" lengthAdjust="spacingAndGlyphs" >0.0058</text>
<text x="589.80" y="272.90" font-size="7.7" fill="#333" text-anchor="middle" textLength="11.80" lengthAdjust="spacingAndGlyphs" >WT</text>
<text x="622.10" y="272.90" font-size="7.7" fill="#333" font-style="italic" textLength="17.60" lengthAdjust="spacingAndGlyphs" >sws1</text>
<text x="640.20" y="269.80" font-size="4.6" fill="#333" font-style="italic" textLength="4.90" lengthAdjust="spacingAndGlyphs" >-/-</text>
<text x="533.70" y="210.00" font-size="8.0" fill="#333" text-anchor="middle" textLength="110.00" lengthAdjust="spacingAndGlyphs" transform="rotate(-90 533.70 210.00)" >number of photoreceptor cells</text>
<text x="543.50" y="210.00" font-size="8.0" fill="#333" text-anchor="middle" textLength="55.00" lengthAdjust="spacingAndGlyphs" transform="rotate(-90 543.50 210.00)" >(50um * 50um)</text>
<text x="509.50" y="8.90" font-size="10.8" fill="#333" textLength="19.50" lengthAdjust="spacingAndGlyphs" >n=8</text>
<text x="664.60" y="9.00" font-size="10.8" fill="#333" textLength="19.50" lengthAdjust="spacingAndGlyphs" >n=8</text>
<text x="506.00" y="149.20" font-size="10.8" fill="#333" textLength="20.50" lengthAdjust="spacingAndGlyphs" >n=8</text>
<text x="662.40" y="149.20" font-size="10.8" fill="#333" textLength="20.50" lengthAdjust="spacingAndGlyphs" >n=8</text>
<g shape-rendering="crispEdges">
<rect x="55.20" y="334.70" width="74.90" height="3.30" fill="#6477be" />
<rect x="129.50" y="334.70" width="75.20" height="3.30" fill="#7282c4" />
<rect x="55.20" y="337.70" width="74.90" height="3.80" fill="#7683c5" />
<rect x="129.50" y="337.70" width="75.20" height="3.80" fill="#7b88c8" />
<rect x="55.20" y="341.20" width="74.90" height="3.30" fill="#7684c5" />
<rect x="129.50" y="341.20" width="75.20" height="3.30" fill="#8994ce" />
<rect x="55.20" y="344.20" width="74.90" height="3.30" fill="#7885c6" />
<rect x="129.50" y="344.20" width="75.20" height="3.30" fill="#7e8ac9" />
<rect x="55.20" y="347.20" width="74.90" height="3.80" fill="#6e7ec2" />
<rect x="129.50" y="347.20" width="75.20" height="3.80" fill="#7b88c8" />
<rect x="55.20" y="350.70" width="74.90" height="3.80" fill="#7784c5" />
<rect x="129.50" y="350.70" width="75.20" height="3.80" fill="#7685c6" />
<rect x="55.20" y="354.20" width="74.90" height="2.30" fill="#7e8ac8" />
<rect x="129.50" y="354.20" width="75.20" height="2.30" fill="#7a88c7" />
<rect x="55.20" y="356.20" width="74.90" height="2.30" fill="#6e7ec2" />
<rect x="129.50" y="356.20" width="75.20" height="2.30" fill="#848fcb" />
<rect x="55.20" y="358.20" width="74.90" height="3.80" fill="#8792cc" />
<rect x="129.50" y="358.20" width="75.20" height="3.80" fill="#8994ce" />
<rect x="55.20" y="361.70" width="74.90" height="3.30" fill="#7583c5" />
<rect x="129.50" y="361.70" width="75.20" height="3.30" fill="#7d8ac8" />
<rect x="55.20" y="364.70" width="74.90" height="3.80" fill="#6b7cc0" />
<rect x="129.50" y="364.70" width="75.20" height="3.80" fill="#8a95ce" />
<rect x="55.20" y="368.20" width="74.90" height="2.30" fill="#7784c5" />
<rect x="129.50" y="368.20" width="75.20" height="2.30" fill="#7c89c8" />
<rect x="55.20" y="370.20" width="74.90" height="1.80" fill="#7985c6" />
<rect x="129.50" y="370.20" width="75.20" height="1.80" fill="#96a0d3" />
<rect x="55.20" y="371.70" width="74.90" height="3.30" fill="#7180c3" />
<rect x="129.50" y="371.70" width="75.20" height="3.30" fill="#6d7fc2" />
<rect x="55.20" y="374.70" width="74.90" height="2.80" fill="#6f7fc2" />
<rect x="129.50" y="374.70" width="75.20" height="2.80" fill="#8994ce" />
<rect x="55.20" y="377.20" width="74.90" height="2.30" fill="#7b87c7" />
<rect x="129.50" y="377.20" width="75.20" height="2.30" fill="#7f8bc9" />
<rect x="55.20" y="379.20" width="74.90" height="1.80" fill="#6377be" />
<rect x="129.50" y="379.20" width="75.20" height="1.80" fill="#7c89c8" />
<rect x="55.20" y="380.70" width="74.90" height="3.80" fill="#7684c5" />
<rect x="129.50" y="380.70" width="75.20" height="3.80" fill="#7483c5" />
<rect x="55.20" y="384.20" width="74.90" height="1.80" fill="#7885c6" />
<rect x="129.50" y="384.20" width="75.20" height="1.80" fill="#7182c4" />
<rect x="55.20" y="385.70" width="74.90" height="3.80" fill="#7d89c8" />
<rect x="129.50" y="385.70" width="75.20" height="3.80" fill="#8591cc" />
<rect x="55.20" y="389.20" width="74.90" height="3.30" fill="#7180c3" />
<rect x="129.50" y="389.20" width="75.20" height="3.30" fill="#7584c5" />
<rect x="55.20" y="392.20" width="74.90" height="3.30" fill="#7281c3" />
<rect x="129.50" y="392.20" width="75.20" height="3.30" fill="#7f8bc9" />
<rect x="55.20" y="395.20" width="74.90" height="3.80" fill="#8893cc" />
<rect x="129.50" y="395.20" width="75.20" height="3.80" fill="#8893cd" />
<rect x="55.20" y="398.70" width="74.90" height="2.30" fill="#7c88c7" />
<rect x="129.50" y="398.70" width="75.20" height="2.30" fill="#8691cc" />
<rect x="55.20" y="400.70" width="74.90" height="3.80" fill="#7381c3" />
<rect x="129.50" y="400.70" width="75.20" height="3.80" fill="#8490cc" />
<rect x="55.20" y="404.20" width="74.90" height="1.80" fill="#7180c3" />
<rect x="129.50" y="404.20" width="75.20" height="1.80" fill="#818cca" />
<rect x="55.20" y="405.70" width="74.90" height="3.80" fill="#7a86c6" />
<rect x="129.50" y="405.70" width="75.20" height="3.80" fill="#808cca" />
<rect x="55.20" y="409.20" width="74.90" height="1.80" fill="#7482c4" />
<rect x="129.50" y="409.20" width="75.20" height="1.80" fill="#7a88c7" />
<rect x="55.20" y="410.70" width="74.90" height="1.80" fill="#7b87c7" />
<rect x="129.50" y="410.70" width="75.20" height="1.80" fill="#838fcb" />
<rect x="55.20" y="412.20" width="74.90" height="1.80" fill="#838fca" />
<rect x="129.50" y="412.20" width="75.20" height="1.80" fill="#7383c5" />
<rect x="55.20" y="413.70" width="74.90" height="2.30" fill="#6c7cc1" />
<rect x="129.50" y="413.70" width="75.20" height="2.30" fill="#838fcb" />
<rect x="55.20" y="415.70" width="74.90" height="2.30" fill="#7b87c7" />
<rect x="129.50" y="415.70" width="75.20" height="2.30" fill="#8c97cf" />
<rect x="55.20" y="417.70" width="74.90" height="3.80" fill="#7683c5" />
<rect x="129.50" y="417.70" width="75.20" height="3.80" fill="#7f8bc9" />
<rect x="55.20" y="421.20" width="74.90" height="1.80" fill="#6678be" />
<rect x="129.50" y="421.20" width="75.20" height="1.80" fill="#7f8bc9" />
<rect x="55.20" y="422.70" width="74.90" height="3.30" fill="#7e8ac8" />
<rect x="129.50" y="422.70" width="75.20" height="3.30" fill="#97a1d4" />
<rect x="55.20" y="425.70" width="74.90" height="2.80" fill="#6c7dc1" />
<rect x="129.50" y="425.70" width="75.20" height="2.80" fill="#808cca" />
<rect x="55.20" y="428.20" width="74.90" height="3.30" fill="#8691cb" />
<rect x="129.50" y="428.20" width="75.20" height="3.30" fill="#808cca" />
<rect x="55.20" y="431.20" width="74.90" height="3.80" fill="#8691cb" />
<rect x="129.50" y="431.20" width="75.20" height="3.80" fill="#6378be" />
<rect x="55.20" y="434.70" width="74.90" height="2.30" fill="#6e7ec2" />
<rect x="129.50" y="434.70" width="75.20" height="2.30" fill="#7c89c8" />
<rect x="55.20" y="436.70" width="74.90" height="3.80" fill="#7985c6" />
<rect x="129.50" y="436.70" width="75.20" height="3.80" fill="#949ed2" />
<rect x="55.20" y="440.20" width="74.90" height="2.30" fill="#7885c6" />
<rect x="129.50" y="440.20" width="75.20" height="2.30" fill="#8f9ad0" />
<rect x="55.20" y="442.20" width="74.90" height="2.80" fill="#7281c3" />
<rect x="129.50" y="442.20" width="75.20" height="2.80" fill="#949ed2" />
<rect x="55.20" y="444.70" width="74.90" height="3.30" fill="#7f8bc9" />
<rect x="129.50" y="444.70" width="75.20" height="3.30" fill="#7785c6" />
<rect x="55.20" y="447.70" width="74.90" height="1.80" fill="#6a7bc0" />
<rect x="129.50" y="447.70" width="75.20" height="1.80" fill="#8c97cf" />
<rect x="55.20" y="449.20" width="74.90" height="1.80" fill="#8590cb" />
<rect x="129.50" y="449.20" width="75.20" height="1.80" fill="#7a87c7" />
<rect x="55.20" y="450.70" width="74.90" height="3.30" fill="#7080c3" />
<rect x="129.50" y="450.70" width="75.20" height="3.30" fill="#8a95ce" />
<rect x="55.20" y="453.70" width="74.90" height="2.80" fill="#7d89c8" />
<rect x="129.50" y="453.70" width="75.20" height="2.80" fill="#8793cd" />
<rect x="55.20" y="456.20" width="74.90" height="3.30" fill="#828dca" />
<rect x="129.50" y="456.20" width="75.20" height="3.30" fill="#8793cd" />
<rect x="55.20" y="459.20" width="74.90" height="3.80" fill="#6d7dc1" />
<rect x="129.50" y="459.20" width="75.20" height="3.80" fill="#7b89c8" />
<rect x="55.20" y="462.70" width="74.90" height="1.80" fill="#6779bf" />
<rect x="129.50" y="462.70" width="75.20" height="1.80" fill="#828ecb" />
<rect x="55.20" y="464.20" width="74.90" height="2.80" fill="#7885c6" />
<rect x="129.50" y="464.20" width="75.20" height="2.80" fill="#8a95ce" />
<rect x="55.20" y="466.70" width="74.90" height="2.80" fill="#7885c6" />
<rect x="129.50" y="466.70" width="75.20" height="2.80" fill="#8d98cf" />
<rect x="55.20" y="469.20" width="74.90" height="2.30" fill="#8792cc" />
<rect x="129.50" y="469.20" width="75.20" height="2.30" fill="#7b89c8" />
<rect x="55.20" y="471.20" width="74.90" height="3.80" fill="#6c7cc1" />
<rect x="129.50" y="471.20" width="75.20" height="3.80" fill="#7a88c7" />
<rect x="55.20" y="474.70" width="74.90" height="2.80" fill="#6c7dc1" />
<rect x="129.50" y="474.70" width="75.20" height="2.80" fill="#7f8bc9" />
<rect x="55.20" y="477.20" width="74.90" height="1.80" fill="#7d89c8" />
<rect x="129.50" y="477.20" width="75.20" height="1.80" fill="#818cca" />
<rect x="55.20" y="478.70" width="74.90" height="1.80" fill="#7a86c6" />
<rect x="129.50" y="478.70" width="75.20" height="1.80" fill="#8b96ce" />
<rect x="55.20" y="480.20" width="74.90" height="3.80" fill="#8791cc" />
<rect x="129.50" y="480.20" width="75.20" height="3.80" fill="#8e99d0" />
<rect x="55.20" y="483.70" width="74.90" height="1.80" fill="#7784c5" />
<rect x="129.50" y="483.70" width="75.20" height="1.80" fill="#808cca" />
<rect x="55.20" y="485.20" width="74.90" height="3.30" fill="#7b87c7" />
<rect x="129.50" y="485.20" width="75.20" height="3.30" fill="#7584c5" />
<rect x="55.20" y="488.20" width="74.90" height="1.80" fill="#7683c5" />
<rect x="129.50" y="488.20" width="75.20" height="1.80" fill="#7c89c8" />
<rect x="55.20" y="489.70" width="74.90" height="2.80" fill="#6d7ec1" />
<rect x="129.50" y="489.70" width="75.20" height="2.80" fill="#8894cd" />
<rect x="55.20" y="492.20" width="74.90" height="3.30" fill="#8994cd" />
<rect x="129.50" y="492.20" width="75.20" height="3.30" fill="#7b88c8" />
<rect x="55.20" y="495.20" width="74.90" height="1.80" fill="#7d89c8" />
<rect x="129.50" y="495.20" width="75.20" height="1.80" fill="#7685c6" />
<rect x="55.20" y="496.70" width="74.90" height="1.80" fill="#7582c4" />
<rect x="129.50" y="496.70" width="75.20" height="1.80" fill="#7987c7" />
<rect x="55.20" y="498.20" width="74.90" height="1.80" fill="#7180c3" />
<rect x="129.50" y="498.20" width="75.20" height="1.80" fill="#949ed2" />
<rect x="55.20" y="499.70" width="74.90" height="2.30" fill="#7180c3" />
<rect x="129.50" y="499.70" width="75.20" height="2.30" fill="#8792cd" />
<rect x="55.20" y="501.70" width="74.90" height="2.30" fill="#7e8ac8" />
<rect x="129.50" y="501.70" width="75.20" height="2.30" fill="#8591cc" />
<rect x="55.20" y="503.70" width="74.90" height="1.80" fill="#7180c3" />
<rect x="129.50" y="503.70" width="75.20" height="1.80" fill="#7a87c7" />
<rect x="55.20" y="505.20" width="74.90" height="3.30" fill="#6f7fc2" />
<rect x="129.50" y="505.20" width="75.20" height="3.30" fill="#909ad1" />
<rect x="55.20" y="508.20" width="74.90" height="3.30" fill="#7c88c7" />
<rect x="129.50" y="508.20" width="75.20" height="3.30" fill="#96a0d3" />
<rect x="55.20" y="511.20" width="74.90" height="3.30" fill="#7885c6" />
<rect x="129.50" y="511.20" width="75.20" height="3.30" fill="#7c89c8" />
<rect x="55.20" y="514.20" width="74.90" height="3.30" fill="#7e8ac8" />
<rect x="129.50" y="514.20" width="75.20" height="3.30" fill="#7f8bc9" />
<rect x="55.20" y="517.20" width="74.90" height="1.80" fill="#7583c5" />
<rect x="129.50" y="517.20" width="75.20" height="1.80" fill="#7987c7" />
<rect x="55.20" y="518.70" width="74.90" height="3.80" fill="#7e8ac8" />
<rect x="129.50" y="518.70" width="75.20" height="3.80" fill="#8994cd" />
<rect x="55.20" y="522.20" width="74.90" height="2.30" fill="#7e8ac8" />
<rect x="129.50" y="522.20" width="75.20" height="2.30" fill="#7282c4" />
<rect x="55.20" y="524.20" width="74.90" height="2.80" fill="#6e7ec2" />
<rect x="129.50" y="524.20" width="75.20" height="2.80" fill="#828ecb" />
<rect x="55.20" y="526.70" width="74.90" height="2.80" fill="#7583c5" />
<rect x="129.50" y="526.70" width="75.20" height="2.80" fill="#808cca" />
<rect x="55.20" y="529.20" width="74.90" height="1.80" fill="#7683c5" />
<rect x="129.50" y="529.20" width="75.20" height="1.80" fill="#838fcb" />
<rect x="55.20" y="530.70" width="74.90" height="2.80" fill="#7a86c6" />
<rect x="129.50" y="530.70" width="75.20" height="2.80" fill="#8c97cf" />
<rect x="55.20" y="533.20" width="74.90" height="2.80" fill="#7d89c7" />
<rect x="129.50" y="533.20" width="75.20" height="2.80" fill="#7383c5" />
<rect x="55.20" y="535.70" width="74.90" height="1.80" fill="#7381c4" />
<rect x="129.50" y="535.70" width="75.20" height="1.80" fill="#818dca" />
<rect x="55.20" y="537.20" width="74.90" height="3.30" fill="#7985c6" />
<rect x="129.50" y="537.20" width="75.20" height="3.30" fill="#818dca" />
<rect x="55.20" y="540.20" width="74.90" height="1.80" fill="#7482c4" />
<rect x="129.50" y="540.20" width="75.20" height="1.80" fill="#8792cd" />
<rect x="55.20" y="541.70" width="74.90" height="2.30" fill="#7683c5" />
<rect x="129.50" y="541.70" width="75.20" height="2.30" fill="#7f8bc9" />
<rect x="55.20" y="543.70" width="74.90" height="2.30" fill="#7e89c8" />
<rect x="129.50" y="543.70" width="75.20" height="2.30" fill="#8893cd" />
<rect x="55.20" y="545.70" width="74.90" height="1.80" fill="#808cc9" />
<rect x="129.50" y="545.70" width="75.20" height="1.80" fill="#8b96ce" />
<rect x="55.20" y="547.20" width="74.90" height="1.80" fill="#707fc3" />
<rect x="129.50" y="547.20" width="75.20" height="1.80" fill="#96a0d3" />
<rect x="55.20" y="548.70" width="74.90" height="1.80" fill="#7986c6" />
<rect x="129.50" y="548.70" width="75.20" height="1.80" fill="#8792cd" />
<rect x="55.20" y="550.20" width="74.90" height="3.30" fill="#7d88c7" />
<rect x="129.50" y="550.20" width="75.20" height="3.30" fill="#808cca" />
<rect x="55.20" y="553.20" width="74.90" height="3.30" fill="#6e7ec2" />
<rect x="129.50" y="553.20" width="75.20" height="3.30" fill="#818cca" />
<rect x="55.20" y="556.20" width="74.90" height="2.30" fill="#7885c6" />
<rect x="129.50" y="556.20" width="75.20" height="2.30" fill="#8792cd" />
<rect x="55.20" y="558.20" width="74.90" height="3.80" fill="#7885c6" />
<rect x="129.50" y="558.20" width="75.20" height="3.80" fill="#7987c7" />
<rect x="55.20" y="561.70" width="74.90" height="2.30" fill="#7a86c6" />
<rect x="129.50" y="561.70" width="75.20" height="2.30" fill="#8b96cf" />
<rect x="55.20" y="563.70" width="74.90" height="3.30" fill="#838eca" />
<rect x="129.50" y="563.70" width="75.20" height="3.30" fill="#8b96ce" />
<rect x="55.20" y="566.70" width="74.90" height="3.80" fill="#848fcb" />
<rect x="129.50" y="566.70" width="75.20" height="3.80" fill="#7886c6" />
<rect x="55.20" y="570.20" width="74.90" height="2.30" fill="#7482c4" />
<rect x="129.50" y="570.20" width="75.20" height="2.30" fill="#838fcb" />
<rect x="55.20" y="572.20" width="74.90" height="2.30" fill="#6b7cc1" />
<rect x="129.50" y="572.20" width="75.20" height="2.30" fill="#8792cd" />
<rect x="55.20" y="574.20" width="74.90" height="3.30" fill="#7180c3" />
<rect x="129.50" y="574.20" width="75.20" height="3.30" fill="#7a88c7" />
<rect x="55.20" y="577.20" width="74.90" height="3.30" fill="#8590cb" />
<rect x="129.50" y="577.20" width="75.20" height="3.30" fill="#8f9ad0" />
<rect x="55.20" y="580.20" width="74.90" height="1.80" fill="#7f8bc9" />
<rect x="129.50" y="580.20" width="75.20" height="1.80" fill="#7987c7" />
<rect x="55.20" y="581.70" width="74.90" height="3.30" fill="#6d7dc1" />
<rect x="129.50" y="581.70" width="75.20" height="3.30" fill="#8c97cf" />
<rect x="55.20" y="584.70" width="74.90" height="3.30" fill="#6f7fc2" />
<rect x="129.50" y="584.70" width="75.20" height="3.30" fill="#8590cc" />
<rect x="55.20" y="587.70" width="74.90" height="2.30" fill="#7a86c6" />
<rect x="129.50" y="587.70" width="75.20" height="2.30" fill="#8692cc" />
<rect x="55.20" y="589.70" width="74.90" height="1.80" fill="#7a86c6" />
<rect x="129.50" y="589.70" width="75.20" height="1.80" fill="#919cd1" />
<rect x="55.20" y="591.20" width="74.90" height="2.80" fill="#808cc9" />
<rect x="129.50" y="591.20" width="75.20" height="2.80" fill="#8c97cf" />
<rect x="55.20" y="593.70" width="74.90" height="3.80" fill="#7382c4" />
<rect x="129.50" y="593.70" width="75.20" height="3.80" fill="#6f80c3" />
<rect x="55.20" y="597.20" width="74.90" height="2.80" fill="#6175bd" />
<rect x="129.50" y="597.20" width="75.20" height="2.80" fill="#8490cc" />
<rect x="55.20" y="599.70" width="74.90" height="1.80" fill="#8792cc" />
<rect x="129.50" y="599.70" width="75.20" height="1.80" fill="#8590cc" />
<rect x="55.20" y="601.20" width="74.90" height="2.30" fill="#808bc9" />
<rect x="129.50" y="601.20" width="75.20" height="2.30" fill="#7081c3" />
<rect x="55.20" y="603.20" width="74.90" height="2.30" fill="#7381c3" />
<rect x="129.50" y="603.20" width="75.20" height="2.30" fill="#8893cd" />
<rect x="55.20" y="605.20" width="74.90" height="3.30" fill="#707fc2" />
<rect x="129.50" y="605.20" width="75.20" height="3.30" fill="#7d89c8" />
<rect x="55.20" y="608.20" width="74.90" height="3.80" fill="#8691cc" />
<rect x="129.50" y="608.20" width="75.20" height="3.80" fill="#8691cc" />
<rect x="55.20" y="611.70" width="74.90" height="1.40" fill="#7986c6" />
<rect x="129.50" y="611.70" width="75.20" height="1.40" fill="#818dca" />
<rect x="55.20" y="359.00" width="74.30" height="1.00" fill="#4e68b5" />
<rect x="55.20" y="360.20" width="74.30" height="1.00" fill="#aeb5dd" />
<rect x="55.20" y="367.40" width="74.30" height="1.20" fill="#6276bd" />
<rect x="55.20" y="386.00" width="74.30" height="1.20" fill="#a9b1db" />
<rect x="55.20" y="397.00" width="74.30" height="1.80" fill="#3658ac" />
<rect x="55.20" y="443.00" width="74.30" height="1.20" fill="#6679bf" />
<rect x="55.20" y="476.00" width="74.30" height="1.20" fill="#6276bd" />
<rect x="55.20" y="493.20" width="74.30" height="1.20" fill="#6276bd" />
<rect x="55.20" y="501.40" width="74.30" height="1.20" fill="#6276bd" />
<rect x="55.20" y="555.00" width="74.30" height="1.50" fill="#5e73bc" />
<rect x="55.20" y="558.00" width="74.30" height="1.00" fill="#6276bd" />
<rect x="55.20" y="587.50" width="74.30" height="1.20" fill="#6276bd" />
<rect x="55.20" y="603.40" width="74.30" height="1.20" fill="#6679bf" />
<rect x="129.50" y="367.40" width="75.20" height="1.00" fill="#acb4dd" />
<rect x="129.50" y="488.60" width="75.20" height="2.00" fill="#a7b0db" />
<rect x="129.50" y="558.40" width="75.20" height="1.20" fill="#b0b8de" />
<rect x="129.50" y="564.30" width="75.20" height="1.20" fill="#b0b8de" />
<rect x="129.50" y="582.70" width="75.20" height="1.30" fill="#b0b8de" />
<rect x="129.50" y="596.00" width="75.20" height="1.20" fill="#9aa4d5" />
</g>
<rect x="129.50" y="380.00" width="75.20" height="1.60" fill="#ffffff" />
<rect x="55.20" y="406.40" width="149.50" height="1.40" fill="#eef0fa" />
<path d="M129.5,428.6 Q167,427.3 204.7,428.3" stroke="#1a1a1a" stroke-width="0.9" fill="none" />
<path d="M129.5,462.9 Q167,461.6 204.7,462.6" stroke="#1a1a1a" stroke-width="0.9" fill="none" />
<rect x="55.20" y="479.60" width="149.50" height="1.40" fill="#ffffff" />
<rect x="55.20" y="552.40" width="149.50" height="1.40" fill="#ffffff" />
<rect x="55.20" y="334.70" width="149.50" height="278.10" fill="none" stroke="#333" stroke-width="1.0" />
<line x1="51.50" y1="335.00" x2="55.20" y2="335.00" stroke="#333" stroke-width="1.0" />
<text x="49.50" y="337.50" font-size="7.0" fill="#444" text-anchor="end" font-style="italic" >LOC100334443</text>
<line x1="51.50" y1="343.80" x2="55.20" y2="343.80" stroke="#333" stroke-width="1.0" />
<text x="49.50" y="346.30" font-size="7.0" fill="#444" text-anchor="end" font-style="italic" >akt3b</text>
<line x1="51.50" y1="352.50" x2="55.20" y2="352.50" stroke="#333" stroke-width="1.0" />
<text x="49.50" y="355.00" font-size="7.0" fill="#444" text-anchor="end" font-style="italic" >calm1b</text>
<line x1="51.50" y1="361.30" x2="55.20" y2="361.30" stroke="#333" stroke-width="1.0" />
<text x="49.50" y="363.80" font-size="7.0" fill="#444" text-anchor="end" font-style="italic" >calml4b</text>
<line x1="51.50" y1="369.70" x2="55.20" y2="369.70" stroke="#333" stroke-width="1.0" />
<text x="49.50" y="372.20" font-size="7.0" fill="#444" text-anchor="end" font-style="italic" >ccna1</text>
<line x1="51.50" y1="378.50" x2="55.20" y2="378.50" stroke="#333" stroke-width="1.0" />
<text x="49.50" y="381.00" font-size="7.0" fill="#444" text-anchor="end" font-style="italic" >ccnd2a</text>
<line x1="51.50" y1="386.90" x2="55.20" y2="386.90" stroke="#333" stroke-width="1.0" />
<text x="49.50" y="389.40" font-size="7.0" fill="#444" text-anchor="end" font-style="italic" >cdk21</text>
<line x1="51.50" y1="395.30" x2="55.20" y2="395.30" stroke="#333" stroke-width="1.0" />
<text x="49.50" y="397.80" font-size="7.0" fill="#444" text-anchor="end" font-style="italic" >cxcl19</text>
<line x1="51.50" y1="404.00" x2="55.20" y2="404.00" stroke="#333" stroke-width="1.0" />
<text x="49.50" y="406.50" font-size="7.0" fill="#444" text-anchor="end" font-style="italic" >e2f5</text>
<line x1="51.50" y1="413.80" x2="55.20" y2="413.80" stroke="#333" stroke-width="1.0" />
<text x="49.50" y="416.30" font-size="7.0" fill="#444" text-anchor="end" font-style="italic" >foxo1a</text>
<line x1="51.50" y1="423.00" x2="55.20" y2="423.00" stroke="#333" stroke-width="1.0" />
<text x="49.50" y="425.50" font-size="7.0" fill="#444" text-anchor="end" font-style="italic" >gadd45ba</text>
<line x1="51.50" y1="431.40" x2="55.20" y2="431.40" stroke="#333" stroke-width="1.0" />
<text x="49.50" y="433.90" font-size="7.0" fill="#444" text-anchor="end" font-style="italic" >hipk2</text>
<line x1="51.50" y1="440.10" x2="55.20" y2="440.10" stroke="#333" stroke-width="1.0" />
<text x="49.50" y="442.60" font-size="7.0" fill="#444" text-anchor="end" font-style="italic" >itpr1a</text>
<line x1="51.50" y1="448.50" x2="55.20" y2="448.50" stroke="#333" stroke-width="1.0" />
<text x="49.50" y="451.00" font-size="7.0" fill="#444" text-anchor="end" font-style="italic" >lin52</text>
<line x1="51.50" y1="457.30" x2="55.20" y2="457.30" stroke="#333" stroke-width="1.0" />
<text x="49.50" y="459.80" font-size="7.0" fill="#444" text-anchor="end" font-style="italic" >map2k6</text>
<line x1="51.50" y1="465.80" x2="55.20" y2="465.80" stroke="#333" stroke-width="1.0" />
<text x="49.50" y="468.30" font-size="7.0" fill="#444" text-anchor="end" font-style="italic" >mapk14a</text>
<line x1="51.50" y1="474.50" x2="55.20" y2="474.50" stroke="#333" stroke-width="1.0" />
<text x="49.50" y="477.00" font-size="7.0" fill="#444" text-anchor="end" font-style="italic" >mdm2</text>
<line x1="51.50" y1="484.30" x2="55.20" y2="484.30" stroke="#333" stroke-width="1.0" />
<text x="49.50" y="486.80" font-size="7.0" fill="#444" text-anchor="end" font-style="italic" >myca</text>
<line x1="51.50" y1="493.40" x2="55.20" y2="493.40" stroke="#333" stroke-width="1.0" />
<text x="49.50" y="495.90" font-size="7.0" fill="#444" text-anchor="end" font-style="italic" >nfatc3b</text>
<line x1="51.50" y1="501.90" x2="55.20" y2="501.90" stroke="#333" stroke-width="1.0" />
<text x="49.50" y="504.40" font-size="7.0" fill="#444" text-anchor="end" font-style="italic" >pik3cd</text>
<line x1="51.50" y1="510.30" x2="55.20" y2="510.30" stroke="#333" stroke-width="1.0" />
<text x="49.50" y="512.80" font-size="7.0" fill="#444" text-anchor="end" font-style="italic" >ppp1cab</text>
<line x1="51.50" y1="519.00" x2="55.20" y2="519.00" stroke="#333" stroke-width="1.0" />
<text x="49.50" y="521.50" font-size="7.0" fill="#444" text-anchor="end" font-style="italic" >ppp3cca</text>
<line x1="51.50" y1="527.80" x2="55.20" y2="527.80" stroke="#333" stroke-width="1.0" />
<text x="49.50" y="530.30" font-size="7.0" fill="#444" text-anchor="end" font-style="italic" >rad1</text>
<line x1="51.50" y1="536.20" x2="55.20" y2="536.20" stroke="#333" stroke-width="1.0" />
<text x="49.50" y="538.70" font-size="7.0" fill="#444" text-anchor="end" font-style="italic" >rbb4l</text>
<line x1="51.50" y1="544.60" x2="55.20" y2="544.60" stroke="#333" stroke-width="1.0" />
<text x="49.50" y="547.10" font-size="7.0" fill="#444" text-anchor="end" font-style="italic" >rhebl1</text>
<line x1="51.50" y1="554.40" x2="55.20" y2="554.40" stroke="#333" stroke-width="1.0" />
<text x="52.60" y="556.90" font-size="7.0" fill="#444" text-anchor="end" font-style="italic" textLength="52.00" lengthAdjust="spacingAndGlyphs" >si:ch211-202f3.3</text>
<line x1="51.50" y1="563.90" x2="55.20" y2="563.90" stroke="#333" stroke-width="1.0" />
<text x="49.50" y="566.40" font-size="7.0" fill="#444" text-anchor="end" font-style="italic" >sirt1</text>
<line x1="51.50" y1="572.30" x2="55.20" y2="572.30" stroke="#333" stroke-width="1.0" />
<text x="49.50" y="574.80" font-size="7.0" fill="#444" text-anchor="end" font-style="italic" >smad3b</text>
<line x1="51.50" y1="581.00" x2="55.20" y2="581.00" stroke="#333" stroke-width="1.0" />
<text x="49.50" y="583.50" font-size="7.0" fill="#444" text-anchor="end" font-style="italic" >tgfb3</text>
<line x1="51.50" y1="589.50" x2="55.20" y2="589.50" stroke="#333" stroke-width="1.0" />
<text x="49.50" y="592.00" font-size="7.0" fill="#444" text-anchor="end" font-style="italic" >trpm7</text>
<line x1="51.50" y1="597.90" x2="55.20" y2="597.90" stroke="#333" stroke-width="1.0" />
<text x="49.50" y="600.40" font-size="7.0" fill="#444" text-anchor="end" font-style="italic" >vdac2</text>
<line x1="51.50" y1="606.60" x2="55.20" y2="606.60" stroke="#333" stroke-width="1.0" />
<text x="49.50" y="609.10" font-size="7.0" fill="#444" text-anchor="end" font-style="italic" >zgc:171775</text>
<line x1="92.50" y1="612.80" x2="92.50" y2="615.80" stroke="#333" stroke-width="1.0" />
<line x1="167.40" y1="612.80" x2="167.40" y2="615.80" stroke="#333" stroke-width="1.0" />
<text x="70.80" y="634.50" font-size="17" fill="#2a2a2a" font-style="italic" textLength="39.60" lengthAdjust="spacingAndGlyphs" >sws2</text>
<text x="111.10" y="628.60" font-size="7" fill="#2a2a2a" font-style="italic" textLength="9.80" lengthAdjust="spacingAndGlyphs" >-/-</text>
<text x="145.00" y="634.50" font-size="17" fill="#2a2a2a" font-style="italic" textLength="39.60" lengthAdjust="spacingAndGlyphs" >sws1</text>
<text x="184.70" y="628.60" font-size="7" fill="#2a2a2a" font-style="italic" textLength="11.20" lengthAdjust="spacingAndGlyphs" >-/-</text>
<rect x="212.50" y="326.50" width="10.10" height="40.80" fill="url(#cbar)" stroke="#222" stroke-width="1.1" />
<text x="225.00" y="331.80" font-size="6.2" fill="#1a1a1a" font-weight="bold" >10</text>
<text x="225.00" y="341.90" font-size="6.2" fill="#1a1a1a" font-weight="bold" >5</text>
<text x="225.00" y="351.80" font-size="6.2" fill="#1a1a1a" font-weight="bold" >0</text>
<text x="225.00" y="362.00" font-size="6.2" fill="#1a1a1a" font-weight="bold" >-5</text>
<rect x="284.35" y="362.55" width="14.30" height="67.45" fill="#fff" stroke="#161414" stroke-width="2.7" />
<line x1="315.80" y1="401.60" x2="315.80" y2="408.50" stroke="#161414" stroke-width="1.4" />
<line x1="311.80" y1="401.60" x2="319.80" y2="401.60" stroke="#161414" stroke-width="1.6" />
<circle cx="315.80" cy="400.80" r="1.5" fill="#161414"/>
<rect x="308.55" y="409.85" width="14.60" height="20.15" fill="#2153ad" stroke="#161414" stroke-width="2.7" />
<line x1="315.80" y1="408.50" x2="315.80" y2="408.50" stroke="#161414" stroke-width="1.3" />
<line x1="311.80" y1="408.50" x2="319.80" y2="408.50" stroke="#161414" stroke-width="1.3" />
<line x1="340.20" y1="405.40" x2="340.20" y2="412.10" stroke="#161414" stroke-width="1.4" />
<line x1="336.20" y1="405.40" x2="344.20" y2="405.40" stroke="#161414" stroke-width="1.6" />
<circle cx="340.20" cy="404.60" r="1.5" fill="#161414"/>
<rect x="332.65" y="413.45" width="14.60" height="16.55" fill="#7c48a6" stroke="#161414" stroke-width="2.7" />
<line x1="340.20" y1="412.10" x2="340.20" y2="419.60" stroke="#161414" stroke-width="1.3" />
<line x1="336.20" y1="419.60" x2="344.20" y2="419.60" stroke="#161414" stroke-width="1.3" />
<circle cx="285.00" cy="361.40" r="1.4" fill="#161414"/>
<circle cx="291.50" cy="361.40" r="1.4" fill="#161414"/>
<circle cx="298.00" cy="361.40" r="1.4" fill="#161414"/>
<line x1="275.00" y1="347.40" x2="275.00" y2="431.00" stroke="#111" stroke-width="1.9" />
<line x1="274.00" y1="430.00" x2="357.00" y2="430.00" stroke="#111" stroke-width="1.9" />
<line x1="271.20" y1="348.22" x2="275.00" y2="348.22" stroke="#111" stroke-width="1.8" />
<text x="268.60" y="352.22" font-size="11" fill="#333" text-anchor="end" textLength="15.20" lengthAdjust="spacingAndGlyphs" >1.1</text>
<line x1="271.20" y1="361.85" x2="275.00" y2="361.85" stroke="#111" stroke-width="1.8" />
<text x="268.60" y="365.85" font-size="11" fill="#333" text-anchor="end" textLength="15.20" lengthAdjust="spacingAndGlyphs" >1.0</text>
<line x1="271.20" y1="375.48" x2="275.00" y2="375.48" stroke="#111" stroke-width="1.8" />
<text x="268.60" y="379.48" font-size="11" fill="#333" text-anchor="end" textLength="15.20" lengthAdjust="spacingAndGlyphs" >0.9</text>
<line x1="271.20" y1="389.11" x2="275.00" y2="389.11" stroke="#111" stroke-width="1.8" />
<text x="268.60" y="393.11" font-size="11" fill="#333" text-anchor="end" textLength="15.20" lengthAdjust="spacingAndGlyphs" >0.8</text>
<line x1="271.20" y1="402.74" x2="275.00" y2="402.74" stroke="#111" stroke-width="1.8" />
<text x="268.60" y="406.74" font-size="11" fill="#333" text-anchor="end" textLength="15.20" lengthAdjust="spacingAndGlyphs" >0.7</text>
<line x1="271.20" y1="416.37" x2="275.00" y2="416.37" stroke="#111" stroke-width="1.8" />
<text x="268.60" y="420.37" font-size="11" fill="#333" text-anchor="end" textLength="15.20" lengthAdjust="spacingAndGlyphs" >0.6</text>
<line x1="271.20" y1="430.00" x2="275.00" y2="430.00" stroke="#111" stroke-width="1.8" />
<text x="268.60" y="434.00" font-size="11" fill="#333" text-anchor="end" textLength="15.20" lengthAdjust="spacingAndGlyphs" >0.5</text>
<line x1="291.40" y1="430.00" x2="291.40" y2="434.20" stroke="#111" stroke-width="1.6" />
<line x1="315.80" y1="430.00" x2="315.80" y2="434.20" stroke="#111" stroke-width="1.6" />
<line x1="340.20" y1="430.00" x2="340.20" y2="434.20" stroke="#111" stroke-width="1.6" />
<path d="M291.2,356.8 V352.5 H315.5 V395.8" stroke="#111" stroke-width="1.7" fill="none" />
<path d="M291.2,332.6 V328.4 H340.1 V400.2" stroke="#111" stroke-width="1.7" fill="none" />
<text x="303.50" y="351.10" font-size="12.5" fill="#1a1a1a" text-anchor="middle" textLength="16.80" lengthAdjust="spacingAndGlyphs" >***</text>
<text x="316.00" y="325.80" font-size="12.5" fill="#1a1a1a" text-anchor="middle" textLength="23.50" lengthAdjust="spacingAndGlyphs" >****</text>
<text x="247.2" y="381.95" font-size="11" fill="#333" text-anchor="middle" transform="rotate(-90 247.2 381.95)" textLength="120.9" lengthAdjust="spacingAndGlyphs"><tspan font-style="italic">p16</tspan> relative expression</text>
<text x="284.95" y="454.99" font-size="13.3" fill="#333" text-anchor="middle" transform="rotate(-45 284.95 450.20)">WT</text>
<text x="304.25" y="460.94" font-size="13.3" fill="#333" text-anchor="middle" transform="rotate(-45 304.25 456.15)">sws2</text>
<text x="328.65" y="460.94" font-size="13.3" fill="#333" text-anchor="middle" transform="rotate(-45 328.65 456.15)">sws1</text>
<text x="316.60" y="442.50" font-size="7.5" fill="#333" text-anchor="middle" transform="rotate(-45 316.60 439.80)" textLength="7.2" lengthAdjust="spacingAndGlyphs">-/-</text>
<text x="341.00" y="442.50" font-size="7.5" fill="#333" text-anchor="middle" transform="rotate(-45 341.00 439.80)" textLength="7.2" lengthAdjust="spacingAndGlyphs">-/-</text>
<path d="M311.6,411.6 h2.6 v4.2 h-2.6 z" stroke="#161414" stroke-width="1.3" fill="none" />
<path d="M316.9,410.8 v4.6 h4.4 v-4.6" stroke="#161414" stroke-width="1.3" fill="none" />
<rect x="284.35" y="525.15" width="14.30" height="64.85" fill="#fff" stroke="#161414" stroke-width="2.7" />
<line x1="315.50" y1="560.30" x2="315.50" y2="564.90" stroke="#161414" stroke-width="1.4" />
<line x1="311.50" y1="560.30" x2="319.50" y2="560.30" stroke="#161414" stroke-width="1.6" />
<circle cx="315.50" cy="559.50" r="1.5" fill="#161414"/>
<rect x="308.45" y="566.25" width="14.30" height="23.75" fill="#2153ad" stroke="#161414" stroke-width="2.7" />
<line x1="315.50" y1="564.90" x2="315.50" y2="569.70" stroke="#161414" stroke-width="1.3" />
<line x1="311.50" y1="569.70" x2="319.50" y2="569.70" stroke="#161414" stroke-width="1.3" />
<line x1="340.20" y1="566.50" x2="340.20" y2="569.30" stroke="#161414" stroke-width="1.4" />
<line x1="336.20" y1="566.50" x2="344.20" y2="566.50" stroke="#161414" stroke-width="1.6" />
<circle cx="340.20" cy="565.70" r="1.5" fill="#161414"/>
<rect x="332.65" y="570.65" width="14.60" height="19.35" fill="#7c48a6" stroke="#161414" stroke-width="2.7" />
<line x1="340.20" y1="569.30" x2="340.20" y2="572.50" stroke="#161414" stroke-width="1.3" />
<line x1="336.20" y1="572.50" x2="344.20" y2="572.50" stroke="#161414" stroke-width="1.3" />
<circle cx="285.00" cy="524.00" r="1.4" fill="#161414"/>
<circle cx="291.50" cy="524.00" r="1.4" fill="#161414"/>
<circle cx="298.00" cy="524.00" r="1.4" fill="#161414"/>
<line x1="275.00" y1="507.40" x2="275.00" y2="591.00" stroke="#111" stroke-width="1.9" />
<line x1="274.00" y1="590.00" x2="357.00" y2="590.00" stroke="#111" stroke-width="1.9" />
<line x1="271.20" y1="508.20" x2="275.00" y2="508.20" stroke="#111" stroke-width="1.8" />
<text x="268.60" y="512.20" font-size="11" fill="#333" text-anchor="end" textLength="15.20" lengthAdjust="spacingAndGlyphs" >1.1</text>
<line x1="271.20" y1="524.56" x2="275.00" y2="524.56" stroke="#111" stroke-width="1.8" />
<text x="268.60" y="528.56" font-size="11" fill="#333" text-anchor="end" textLength="15.20" lengthAdjust="spacingAndGlyphs" >1.0</text>
<line x1="271.20" y1="540.92" x2="275.00" y2="540.92" stroke="#111" stroke-width="1.8" />
<text x="268.60" y="544.92" font-size="11" fill="#333" text-anchor="end" textLength="15.20" lengthAdjust="spacingAndGlyphs" >0.9</text>
<line x1="271.20" y1="557.28" x2="275.00" y2="557.28" stroke="#111" stroke-width="1.8" />
<text x="268.60" y="561.28" font-size="11" fill="#333" text-anchor="end" textLength="15.20" lengthAdjust="spacingAndGlyphs" >0.8</text>
<line x1="271.20" y1="573.64" x2="275.00" y2="573.64" stroke="#111" stroke-width="1.8" />
<text x="268.60" y="577.64" font-size="11" fill="#333" text-anchor="end" textLength="15.20" lengthAdjust="spacingAndGlyphs" >0.7</text>
<line x1="271.20" y1="590.00" x2="275.00" y2="590.00" stroke="#111" stroke-width="1.8" />
<text x="268.60" y="594.00" font-size="11" fill="#333" text-anchor="end" textLength="15.20" lengthAdjust="spacingAndGlyphs" >0.6</text>
<line x1="291.40" y1="590.00" x2="291.40" y2="594.20" stroke="#111" stroke-width="1.6" />
<line x1="315.80" y1="590.00" x2="315.80" y2="594.20" stroke="#111" stroke-width="1.6" />
<line x1="340.20" y1="590.00" x2="340.20" y2="594.20" stroke="#111" stroke-width="1.6" />
<path d="M291.0,519.0 V514.8 H315.3 V554.9" stroke="#111" stroke-width="1.7" fill="none" />
<path d="M291.0,495.3 V490.9 H339.8 V560.5" stroke="#111" stroke-width="1.7" fill="none" />
<text x="303.40" y="512.70" font-size="12.5" fill="#1a1a1a" text-anchor="middle" textLength="23.20" lengthAdjust="spacingAndGlyphs" >****</text>
<text x="316.00" y="489.00" font-size="12.5" fill="#1a1a1a" text-anchor="middle" textLength="23.50" lengthAdjust="spacingAndGlyphs" >****</text>
<text x="247.2" y="544.80" font-size="11" fill="#333" text-anchor="middle" transform="rotate(-90 247.2 544.80)" textLength="116.4" lengthAdjust="spacingAndGlyphs"><tspan font-style="italic">il6</tspan> relative expression</text>
<text x="284.95" y="614.99" font-size="13.3" fill="#333" text-anchor="middle" transform="rotate(-45 284.95 610.20)">WT</text>
<text x="304.25" y="620.94" font-size="13.3" fill="#333" text-anchor="middle" transform="rotate(-45 304.25 616.15)">sws2</text>
<text x="328.65" y="620.94" font-size="13.3" fill="#333" text-anchor="middle" transform="rotate(-45 328.65 616.15)">sws1</text>
<text x="316.60" y="602.50" font-size="7.5" fill="#333" text-anchor="middle" transform="rotate(-45 316.60 599.80)" textLength="7.2" lengthAdjust="spacingAndGlyphs">-/-</text>
<text x="341.00" y="602.50" font-size="7.5" fill="#333" text-anchor="middle" transform="rotate(-45 341.00 599.80)" textLength="7.2" lengthAdjust="spacingAndGlyphs">-/-</text>
<rect x="425.00" y="318.60" width="56.80" height="27.60" fill="#fff" stroke="#222" stroke-width="1.3" />
<text x="453.00" y="331.10" font-size="10.4" fill="#333" text-anchor="middle" >blue light</text>
<text x="453.00" y="343.30" font-size="10.4" fill="#333" text-anchor="middle" >irradiation</text>
<rect x="570.90" y="318.60" width="56.50" height="27.40" fill="#fff" stroke="#222" stroke-width="1.3" />
<text x="598.60" y="331.10" font-size="10.4" fill="#333" text-anchor="middle" >violet light</text>
<text x="598.60" y="343.30" font-size="10.4" fill="#333" text-anchor="middle" >irradiation</text>
<line x1="425.00" y1="346.20" x2="391.00" y2="373.60" stroke="#222" stroke-width="1.3" />
<line x1="481.80" y1="346.20" x2="527.30" y2="374.20" stroke="#222" stroke-width="1.3" />
<line x1="570.90" y1="346.00" x2="532.30" y2="373.50" stroke="#222" stroke-width="1.3" />
<line x1="627.40" y1="346.00" x2="671.00" y2="373.20" stroke="#222" stroke-width="1.3" />
<text x="457.00" y="369.60" font-size="11.2" fill="#333" text-anchor="middle" textLength="17.50" lengthAdjust="spacingAndGlyphs" >WT</text>
<text x="596.80" y="369.60" font-size="11.2" fill="#333" text-anchor="middle" textLength="17.50" lengthAdjust="spacingAndGlyphs" >WT</text>
<text x="445.90" y="460.80" font-size="11.2" fill="#333" font-style="italic" textLength="26.30" lengthAdjust="spacingAndGlyphs" >sws2</text>
<text x="472.50" y="456.80" font-size="5.5" fill="#333" font-style="italic" textLength="6.30" lengthAdjust="spacingAndGlyphs" >-/-</text>
<text x="588.90" y="460.10" font-size="11.2" fill="#333" font-style="italic" textLength="25.70" lengthAdjust="spacingAndGlyphs" >sws1</text>
<text x="615.20" y="455.80" font-size="5.5" fill="#333" font-style="italic" textLength="6.30" lengthAdjust="spacingAndGlyphs" >-/-</text>
<rect x="391.00" y="373.50" width="90.00" height="62.10" fill="#030803" />
<g clip-path="url(#clp1)">
<g filter="url(#gb1)">
<path d="M391.0,381.5 L481.0,379.5 L481.0,405.5 L391.0,405.5 Z" fill="#0c240e" opacity="0.8"/>
<path d="M391.0,411.5 L481.0,411.5 L481.0,427.5 L391.0,427.5 Z" fill="#0a200c" opacity="0.8"/>
<path d="M391.0,418.5 L481.0,418.5 L481.0,424.5 L391.0,424.5 Z" fill="#123a16" opacity="0.7"/>
</g>
<path d="M405.8 385.6L405.3 402.3M435.8 382.2L435.0 400.7M407.3 382.5L407.6 403.8M399.5 382.1L398.9 405.4M396.7 386.1L396.6 404.6M396.7 386.4L395.9 400.6M427.1 382.9L426.5 405.3M426.2 382.4L424.9 402.7M413.9 386.6L413.7 404.7M416.3 382.5L415.3 403.6M463.0 383.5L462.2 404.2M475.8 387.1L474.3 401.5" stroke="#1e5a22" stroke-width="0.5" opacity="0.2" fill="none"/>
<path d="M463.7 384.6L462.7 403.0M443.7 381.9L442.6 401.5M480.8 385.9L480.5 401.1M402.2 387.1L401.8 403.2M413.7 387.3L413.7 402.9M455.0 386.7L455.1 401.6M465.2 387.3L463.7 400.6M394.1 386.4L394.0 400.8M394.5 385.1L393.5 402.0M462.3 386.4L460.9 402.9M456.5 384.6L456.7 405.1M470.5 383.7L469.8 405.1" stroke="#1e5a22" stroke-width="0.5" opacity="0.1" fill="none"/>
<path d="M407.8 381.7L406.8 401.2M427.9 383.7L427.1 403.2M393.4 382.1L393.9 401.9M418.6 382.1L418.7 405.2M477.5 385.0L477.0 401.1M469.9 382.5L470.0 405.2M466.3 381.8L465.4 404.2M397.3 383.5L397.7 401.0M467.4 383.3L466.5 402.8M443.6 383.0L444.0 403.5M450.0 382.3L449.1 402.8M405.9 382.6L405.9 403.6M419.2 381.8L418.3 403.6M436.3 384.8L435.0 400.8M457.1 387.3L457.0 403.9M400.7 382.0L400.8 405.1M446.9 381.6L446.3 402.3M464.6 385.8L463.5 403.2M457.8 384.3L458.2 405.0M421.2 385.3L420.2 402.1M399.5 383.4L399.8 403.2M407.9 381.9L407.7 401.4M471.1 381.9L470.6 405.2M422.7 384.7L421.6 402.4M405.6 386.6L405.9 401.5M461.0 386.9L461.3 402.8M445.6 386.0L444.5 402.3M393.4 385.5L392.1 404.4M460.4 386.0L459.4 402.2" stroke="#1e5a22" stroke-width="1.0" opacity="0.1" fill="none"/>
<path d="M478.2 386.9L478.2 401.7M402.0 384.4L400.9 401.4M440.5 386.0L440.3 404.4M452.5 385.6L452.9 401.0M466.4 386.3L466.1 401.1M452.7 387.2L452.4 405.4M447.9 387.3L447.3 405.1M471.1 386.2L471.2 402.4M453.9 385.6L454.2 404.3M416.0 383.8L415.4 400.8M440.7 382.9L440.9 401.5M392.6 385.0L392.9 405.1M415.3 381.9L414.8 405.3M405.2 382.1L404.8 400.8M470.4 382.7L470.0 400.5M464.3 383.7L462.9 404.8M471.6 384.6L470.5 404.9" stroke="#1e5a22" stroke-width="1.0" opacity="0.2" fill="none"/>
<path d="M435.1 411.1L434.5 422.8M403.7 409.8L403.0 422.0M458.9 413.3L458.5 423.2M475.3 411.6L475.4 422.3" stroke="#226a28" stroke-width="0.5" opacity="0.3" fill="none"/>
<path d="M443.8 414.3L443.7 421.8M424.3 414.5L423.8 423.0M452.4 411.3L451.3 424.4M449.9 409.6L449.6 421.9M477.6 411.7L477.4 422.3M392.8 413.4L391.7 423.2M410.9 410.2L409.6 422.8M399.7 410.7L399.8 422.6M474.4 410.0L474.4 420.7M395.8 411.2L395.0 425.0M424.7 414.7L424.6 423.4M469.2 411.5L468.1 422.2M447.3 411.1L447.4 424.2M462.1 414.7L462.2 421.0M454.1 412.6L454.0 420.7M417.6 412.2L416.9 421.9" stroke="#226a28" stroke-width="1.0" opacity="0.2" fill="none"/>
<path d="M426.4 409.5L426.1 422.2M461.4 414.3L460.3 420.9M410.4 409.8L409.2 424.6M391.8 411.3L392.1 423.9M405.8 411.5L405.6 422.2M457.3 412.7L456.3 423.6M463.3 410.5L462.9 422.6" stroke="#226a28" stroke-width="1.0" opacity="0.3" fill="none"/>
<path d="M408.7 410.9L408.8 421.8M444.9 413.7L444.9 421.2M397.9 411.3L396.7 422.3M410.6 413.6L410.4 423.8M394.1 412.5L394.1 421.0M404.4 411.4L404.3 424.9M453.2 412.4L453.5 423.9M452.1 414.1L452.6 422.1M401.4 411.6L401.6 422.0" stroke="#226a28" stroke-width="1.0" opacity="0.1" fill="none"/>
<path d="M398.8 412.4L398.9 424.7M409.3 413.7L408.0 422.8M441.1 411.7L440.6 424.5M480.7 411.5L481.2 423.6M431.9 414.1L431.7 425.3M447.3 411.4L447.5 422.0" stroke="#226a28" stroke-width="0.5" opacity="0.2" fill="none"/>
<path d="M407.8 415.0L406.7 423.4M417.5 410.3L416.3 423.6M391.3 411.5L390.5 424.7" stroke="#226a28" stroke-width="0.5" opacity="0.1" fill="none"/>
<path d="M446.9 385.3h0.9v0.9h-0.9zM462.2 425.2h0.9v0.9h-0.9zM418.4 400.7h0.9v0.9h-0.9zM401.9 422.2h0.9v0.9h-0.9zM426.9 401.1h0.9v0.9h-0.9zM407.8 392.8h0.9v0.9h-0.9zM421.7 392.4h0.9v0.9h-0.9zM450.2 403.0h0.9v0.9h-0.9zM458.1 406.5h0.9v0.9h-0.9zM472.5 381.0h0.9v0.9h-0.9z" fill="#2a6a2e" opacity="0.7"/>
<path d="M399.8 429.5h0.9v0.9h-0.9zM413.7 388.1h0.9v0.9h-0.9zM456.6 389.7h0.9v0.9h-0.9zM398.6 417.0h0.9v0.9h-0.9zM476.6 431.6h0.9v0.9h-0.9zM405.4 399.4h0.9v0.9h-0.9zM414.9 419.1h0.9v0.9h-0.9zM461.3 389.3h0.9v0.9h-0.9zM414.5 415.7h0.9v0.9h-0.9z" fill="#2a6a2e" opacity="0.5"/>
<path d="M480.6 380.4h0.9v0.9h-0.9zM479.4 426.6h0.9v0.9h-0.9zM411.2 379.5h0.9v0.9h-0.9zM401.4 392.5h0.9v0.9h-0.9zM436.9 407.7h0.9v0.9h-0.9z" fill="#2a6a2e" opacity="0.8"/>
<path d="M473.7 402.3h0.9v0.9h-0.9zM461.6 386.4h0.9v0.9h-0.9zM472.8 385.2h0.9v0.9h-0.9zM442.7 396.6h0.9v0.9h-0.9zM414.6 396.0h0.9v0.9h-0.9zM452.7 393.8h0.9v0.9h-0.9zM451.4 432.3h0.9v0.9h-0.9zM468.9 412.9h0.9v0.9h-0.9zM409.3 406.7h0.9v0.9h-0.9zM428.8 415.2h0.9v0.9h-0.9z" fill="#2a6a2e" opacity="0.6"/>
<path d="M393.8 393.5h0.9v0.9h-0.9zM398.1 387.2h0.9v0.9h-0.9zM448.0 429.4h0.9v0.9h-0.9zM439.2 389.9h0.9v0.9h-0.9z" fill="#2a6a2e" opacity="0.4"/>
<path d="M448.2 412.1h0.9v0.9h-0.9zM401.4 406.5h0.9v0.9h-0.9z" fill="#2a6a2e" opacity="0.3"/>
<ellipse cx="392.0" cy="421.3" rx="1.6" ry="2.0" fill="url(#dotg)" opacity="0.45"/>
<ellipse cx="399.2" cy="422.4" rx="2.2" ry="2.9" fill="url(#dotg)" opacity="0.66"/>
<ellipse cx="407.2" cy="421.7" rx="1.7" ry="2.3" fill="url(#dotg)" opacity="0.80"/>
<ellipse cx="411.9" cy="421.2" rx="1.6" ry="2.1" fill="url(#dotg)" opacity="0.52"/>
<ellipse cx="418.1" cy="421.9" rx="1.4" ry="1.8" fill="url(#dotg)" opacity="0.83"/>
<ellipse cx="423.5" cy="421.2" rx="1.5" ry="1.9" fill="url(#dotg)" opacity="0.75"/>
<ellipse cx="429.0" cy="420.8" rx="2.0" ry="2.6" fill="url(#dotg)" opacity="0.65"/>
<ellipse cx="436.3" cy="420.7" rx="1.9" ry="2.5" fill="url(#dotg)" opacity="0.83"/>
<ellipse cx="444.2" cy="422.2" rx="1.7" ry="2.3" fill="url(#dotg)" opacity="0.65"/>
<ellipse cx="449.4" cy="422.1" rx="1.7" ry="2.2" fill="url(#dotg)" opacity="0.58"/>
<ellipse cx="454.1" cy="420.9" rx="1.4" ry="1.9" fill="url(#dotg)" opacity="0.64"/>
<ellipse cx="461.1" cy="421.3" rx="1.7" ry="2.2" fill="url(#dotg)" opacity="0.83"/>
<ellipse cx="467.0" cy="420.9" rx="1.9" ry="2.5" fill="url(#dotg)" opacity="0.61"/>
<ellipse cx="472.2" cy="421.2" rx="1.4" ry="1.8" fill="url(#dotg)" opacity="0.41"/>
<ellipse cx="478.3" cy="421.6" rx="1.9" ry="2.5" fill="url(#dotg)" opacity="0.75"/>
<path d="M391.6,378.1 L398.1,380.8 L403.4,378.8 L406.0,382.7 L411.3,384.7 L419.2,383.4 L424.4,381.4 L432.3,379.5 L437.6,378.1 L444.1,380.1 L450.7,382.1 L456.0,379.5 L463.8,377.5 L475.0,376.2 L481.0,376.5" fill="none" stroke="#1e6a24" stroke-width="0.9" opacity="0.7"/>
</g>
<rect x="532.30" y="373.50" width="89.70" height="62.10" fill="#030803" />
<g clip-path="url(#clp2)">
<g filter="url(#gb1)">
<path d="M532.3,381.5 L622.0,379.5 L622.0,405.5 L532.3,405.5 Z" fill="#0c240e" opacity="0.8"/>
<path d="M532.3,411.5 L622.0,411.5 L622.0,427.5 L532.3,427.5 Z" fill="#0a200c" opacity="0.8"/>
<path d="M532.3,418.5 L622.0,418.5 L622.0,424.5 L532.3,424.5 Z" fill="#123a16" opacity="0.7"/>
</g>
<path d="M618.3 382.3L618.7 405.4M545.1 386.5L543.9 402.2M602.6 386.4L603.0 402.5M536.1 387.3L534.8 403.7M563.2 385.9L563.3 400.9M596.7 384.3L595.7 404.3M592.0 382.4L591.8 401.1M600.6 383.8L599.5 402.2M566.4 382.9L566.8 402.9M593.9 386.3L592.6 401.4M578.4 382.8L577.4 404.9M564.7 383.2L563.3 405.4M579.8 385.6L579.5 402.6M602.0 382.3L601.9 402.1M546.5 387.1L545.3 403.0M575.0 382.6L574.5 405.1M604.9 384.7L604.4 401.1M560.2 386.6L558.9 401.4" stroke="#1e5a22" stroke-width="0.5" opacity="0.1" fill="none"/>
<path d="M590.7 383.6L589.7 401.1M586.2 387.1L586.6 402.1M564.2 384.1L564.6 403.5M568.2 382.1L567.1 401.0M621.2 386.0L621.2 403.1M589.2 383.5L589.1 404.6M610.0 382.6L608.7 404.1M586.4 381.8L585.0 403.1M589.0 387.4L588.0 401.3M578.3 382.6L577.1 404.1M559.1 381.6L557.8 403.9M548.0 384.4L547.2 403.4M602.1 382.8L601.9 403.1M582.2 386.4L582.4 404.2M564.1 386.3L564.6 403.6M569.6 382.3L568.2 401.8M615.4 384.6L615.3 401.0M609.0 383.8L608.7 404.1M603.5 385.3L603.4 404.0M539.6 384.3L538.5 404.4" stroke="#1e5a22" stroke-width="1.0" opacity="0.1" fill="none"/>
<path d="M611.4 385.0L610.2 403.9M616.4 386.1L616.1 400.7M555.5 387.2L555.5 403.9M535.2 387.1L534.7 403.0M561.7 383.6L560.3 404.5M590.3 382.7L588.9 402.0M614.9 384.3L614.4 401.3M608.5 381.7L607.9 404.5M563.0 386.7L561.5 401.4M548.0 386.3L547.6 401.0M594.8 386.4L593.7 400.6M577.6 387.1L576.9 401.0M562.1 387.3L562.1 400.8M536.7 387.5L535.4 401.4M577.6 381.9L576.8 403.8M573.5 385.3L573.3 405.3M614.9 385.0L613.9 404.0M562.6 383.9L561.4 402.7M565.7 385.4L564.2 404.2M536.8 382.2L537.0 405.2" stroke="#1e5a22" stroke-width="1.0" opacity="0.2" fill="none"/>
<path d="M614.5 383.3L614.2 403.6M581.0 384.1L580.6 402.1M609.9 385.1L609.9 402.9M590.8 383.4L589.8 404.1M580.8 386.8L580.1 400.7M572.7 385.7L571.7 402.6M588.5 383.5L588.4 403.3M568.9 381.8L568.5 403.8M617.8 387.0L617.0 403.2M557.6 385.4L557.8 405.3M573.1 382.5L571.8 405.4M612.8 383.2L612.8 401.0" stroke="#1e5a22" stroke-width="0.5" opacity="0.2" fill="none"/>
<path d="M552.8 411.6L551.6 423.4M557.0 409.9L556.3 424.0M551.3 410.4L551.7 424.2M584.3 409.6L584.4 424.0M608.5 414.7L607.5 423.9M576.5 415.5L575.5 421.6M565.9 414.4L565.5 423.1M599.7 413.8L598.3 421.7M544.0 411.9L544.0 422.9M590.1 414.2L590.5 422.0" stroke="#226a28" stroke-width="1.0" opacity="0.1" fill="none"/>
<path d="M612.1 412.4L612.2 423.4M578.8 410.3L577.8 422.9M567.2 414.7L566.6 423.5M551.2 410.8L549.7 422.9M552.6 411.7L551.6 423.5M575.0 413.4L574.4 421.6" stroke="#226a28" stroke-width="0.5" opacity="0.1" fill="none"/>
<path d="M543.3 411.3L543.3 424.3M567.3 411.0L566.0 421.7M556.8 414.1L555.8 420.6M618.0 413.7L617.2 422.7M549.9 412.6L549.8 422.8M562.0 413.3L561.9 420.6" stroke="#226a28" stroke-width="0.5" opacity="0.2" fill="none"/>
<path d="M536.8 412.4L535.5 422.6M532.4 413.8L532.5 422.1M546.5 409.8L545.5 422.8M553.2 410.3L553.1 422.5M619.0 414.3L619.0 423.4M581.2 413.6L581.7 422.8M567.8 412.0L567.1 421.7M557.8 410.6L557.9 423.3M558.7 413.5L558.4 422.4M577.4 414.0L577.0 424.9M553.1 410.1L552.2 425.4M562.3 410.4L562.1 421.0M541.4 412.9L540.9 421.6M575.3 409.8L574.0 420.6M570.8 410.5L569.7 423.0M619.0 410.5L617.8 423.1" stroke="#226a28" stroke-width="1.0" opacity="0.2" fill="none"/>
<path d="M570.1 414.5L568.8 425.0M564.0 412.4L563.9 423.0M562.1 415.3L562.3 421.8M620.8 414.4L620.2 422.6M559.1 412.2L558.7 422.3" stroke="#226a28" stroke-width="1.0" opacity="0.3" fill="none"/>
<path d="M598.1 415.3L597.6 421.7M543.9 410.0L544.1 422.9" stroke="#226a28" stroke-width="0.5" opacity="0.3" fill="none"/>
<path d="M608.5 403.6h0.9v0.9h-0.9zM607.0 424.3h0.9v0.9h-0.9zM577.7 426.0h0.9v0.9h-0.9zM548.2 404.7h0.9v0.9h-0.9zM590.2 414.3h0.9v0.9h-0.9zM541.3 428.4h0.9v0.9h-0.9zM593.3 402.7h0.9v0.9h-0.9zM532.4 381.3h0.9v0.9h-0.9zM608.8 429.6h0.9v0.9h-0.9zM545.6 383.3h0.9v0.9h-0.9zM594.9 392.4h0.9v0.9h-0.9z" fill="#2a6a2e" opacity="0.7"/>
<path d="M535.1 411.1h0.9v0.9h-0.9zM594.0 394.5h0.9v0.9h-0.9zM612.5 426.8h0.9v0.9h-0.9zM610.2 395.8h0.9v0.9h-0.9zM585.3 391.9h0.9v0.9h-0.9zM565.8 396.6h0.9v0.9h-0.9zM533.1 414.9h0.9v0.9h-0.9z" fill="#2a6a2e" opacity="0.5"/>
<path d="M607.0 381.5h0.9v0.9h-0.9zM613.6 419.8h0.9v0.9h-0.9zM589.1 421.6h0.9v0.9h-0.9zM613.4 378.5h0.9v0.9h-0.9z" fill="#2a6a2e" opacity="0.3"/>
<path d="M568.5 432.8h0.9v0.9h-0.9zM572.4 392.4h0.9v0.9h-0.9zM566.2 413.0h0.9v0.9h-0.9zM612.7 406.3h0.9v0.9h-0.9zM568.4 379.5h0.9v0.9h-0.9zM599.7 423.0h0.9v0.9h-0.9z" fill="#2a6a2e" opacity="0.6"/>
<path d="M579.8 380.7h0.9v0.9h-0.9zM620.7 433.1h0.9v0.9h-0.9zM596.6 398.0h0.9v0.9h-0.9zM579.7 404.4h0.9v0.9h-0.9zM615.5 419.5h0.9v0.9h-0.9zM583.8 433.4h0.9v0.9h-0.9zM542.8 412.0h0.9v0.9h-0.9zM599.3 425.4h0.9v0.9h-0.9zM603.6 420.5h0.9v0.9h-0.9zM619.1 379.4h0.9v0.9h-0.9zM609.2 424.4h0.9v0.9h-0.9zM614.0 421.1h0.9v0.9h-0.9z" fill="#2a6a2e" opacity="0.4"/>
<ellipse cx="534.7" cy="420.6" rx="1.9" ry="2.5" fill="url(#dotg)" opacity="0.74"/>
<ellipse cx="540.0" cy="421.5" rx="1.7" ry="2.2" fill="url(#dotg)" opacity="0.51"/>
<ellipse cx="545.5" cy="420.6" rx="1.7" ry="2.2" fill="url(#dotg)" opacity="0.43"/>
<ellipse cx="550.5" cy="421.1" rx="2.1" ry="2.7" fill="url(#dotg)" opacity="0.84"/>
<ellipse cx="558.6" cy="422.2" rx="1.4" ry="1.9" fill="url(#dotg)" opacity="0.84"/>
<ellipse cx="564.9" cy="421.8" rx="1.7" ry="2.3" fill="url(#dotg)" opacity="0.60"/>
<ellipse cx="570.4" cy="420.9" rx="2.0" ry="2.5" fill="url(#dotg)" opacity="0.54"/>
<ellipse cx="575.0" cy="422.1" rx="1.6" ry="2.1" fill="url(#dotg)" opacity="0.42"/>
<ellipse cx="580.3" cy="421.1" rx="1.7" ry="2.2" fill="url(#dotg)" opacity="0.35"/>
<ellipse cx="585.0" cy="422.1" rx="1.5" ry="1.9" fill="url(#dotg)" opacity="0.74"/>
<ellipse cx="592.7" cy="422.5" rx="1.9" ry="2.5" fill="url(#dotg)" opacity="0.48"/>
<ellipse cx="600.0" cy="422.4" rx="1.7" ry="2.2" fill="url(#dotg)" opacity="0.57"/>
<ellipse cx="607.4" cy="422.4" rx="2.0" ry="2.6" fill="url(#dotg)" opacity="0.73"/>
<ellipse cx="613.2" cy="422.1" rx="1.9" ry="2.4" fill="url(#dotg)" opacity="0.82"/>
<ellipse cx="618.7" cy="421.9" rx="2.0" ry="2.5" fill="url(#dotg)" opacity="0.43"/>
<path d="M532.3,378.5 L540.0,381.0 L548.0,379.0 L556.0,383.0 L566.0,382.0 L575.0,379.5 L585.0,380.5 L596.0,378.0 L606.0,377.0 L616.0,378.0 L622.0,377.0" fill="none" stroke="#1e6a24" stroke-width="0.9" opacity="0.7"/>
</g>
<rect x="390.80" y="466.00" width="90.20" height="62.50" fill="#020602" />
<g clip-path="url(#clp3)">
<g filter="url(#gb1)">
<path d="M390.8,478.0 L405.0,476.0 L420.0,472.0 L435.0,468.0 L452.0,465.0 L481.0,465.0 L481.0,474.0 L452.0,471.0 L435.0,474.0 L420.0,478.0 L405.0,482.0 L390.8,484.0 Z" fill="#163e1c" opacity="0.55"/>
<path d="M390.8,484.0 L420.0,478.0 L452.0,472.0 L481.0,476.0 L481.0,500.0 L452.0,503.0 L420.0,506.0 L390.8,506.0 Z" fill="#0b220f" opacity="0.75"/>
<path d="M425.0,478.0 L481.0,476.0 L481.0,498.0 L425.0,500.0 Z" fill="url(#brg)" opacity="1"/>
<path d="M390.8,518.0 L420.0,518.0 L450.0,516.0 L481.0,510.0 L481.0,519.0 L450.0,525.0 L420.0,528.5 L390.8,528.5 Z" fill="#1a4e24" opacity="0.7"/>
</g>
<path d="M391.9 476.7L390.6 504.0M439.1 478.7L438.6 503.9M448.6 477.3L446.4 505.8M408.2 481.5L406.9 503.0M460.0 477.5L459.5 502.2M405.8 481.1L403.9 505.4M415.8 477.1L414.0 505.8M439.6 477.9L438.0 505.5M415.4 478.6L413.2 502.7M422.2 477.1L420.2 505.6M423.2 478.5L422.4 502.4M460.8 478.8L459.8 503.3M469.2 476.3L466.5 503.2" stroke="#1e5a24" stroke-width="0.5" opacity="0.1" fill="none"/>
<path d="M411.7 480.5L410.6 505.3M469.1 479.9L468.1 504.9M418.4 477.1L416.8 502.9M401.6 477.2L400.3 504.3M435.7 480.7L433.7 504.6M395.3 479.7L392.8 505.0M407.4 478.7L405.7 502.5M438.1 480.3L436.9 503.7M401.9 480.7L401.3 502.3M457.1 481.0L455.6 505.8M409.0 480.9L407.0 504.2M439.7 481.6L438.0 502.6M412.7 480.2L412.0 505.8M403.5 476.3L400.6 504.4M430.5 476.8L429.5 505.9M433.9 480.1L433.0 501.5M431.7 476.8L430.9 503.1M425.2 477.4L424.6 504.3M439.7 478.9L438.4 504.2M445.0 477.9L443.4 501.8M454.6 479.7L453.8 501.7M460.0 477.6L459.0 503.3M468.0 481.9L465.2 504.7M478.3 478.8L477.3 503.3M431.7 477.1L429.0 503.7M425.9 481.4L423.7 501.9M417.7 480.9L415.7 505.7M449.4 476.6L448.1 501.4M405.3 478.8L402.9 504.2M476.9 481.8L475.7 503.7M452.8 481.9L450.5 501.3M453.5 479.8L452.8 505.5M474.9 477.0L474.3 504.3M470.3 476.7L467.5 504.7M418.3 478.6L417.0 504.7" stroke="#1e5a24" stroke-width="1.0" opacity="0.1" fill="none"/>
<path d="M475.6 478.4L473.4 505.0M409.8 477.3L408.1 503.1M449.1 481.0L448.6 501.2M472.9 479.9L470.4 501.0M394.2 476.7L393.0 505.3M408.7 477.3L407.4 504.3M396.7 477.5L394.9 502.9M443.1 478.4L440.6 502.1M425.8 480.1L423.3 503.2M479.5 480.8L477.1 505.7M406.0 476.5L403.2 501.7M419.9 478.3L419.2 503.9M394.3 480.4L392.3 503.7M472.9 480.4L471.0 501.4M407.7 476.8L405.1 501.7M448.2 477.7L445.5 505.2M394.1 476.4L393.5 505.3M471.9 478.0L471.1 504.8M476.5 478.8L475.0 505.6M431.6 477.0L429.6 503.0M441.0 478.7L439.1 501.2" stroke="#1e5a24" stroke-width="1.0" opacity="0.2" fill="none"/>
<path d="M422.9 477.2L422.3 501.8M430.9 480.7L428.2 503.2M424.6 477.7L421.8 505.1M418.5 478.6L416.9 502.4M391.3 476.0L390.2 504.1M414.2 481.4L413.1 505.2M414.8 480.7L412.0 503.8M444.2 478.1L443.1 501.7M392.0 479.4L390.5 501.4M441.9 481.9L440.1 505.8M402.3 479.9L400.0 503.0" stroke="#1e5a24" stroke-width="0.5" opacity="0.2" fill="none"/>
<path d="M398.6 512.4L397.9 527.8M452.8 513.4L452.9 525.9M473.7 515.4L473.9 525.5M443.6 512.5L442.8 527.2M472.8 516.9L472.3 527.3M451.2 514.4L451.4 527.1M413.7 512.9L414.0 524.5M421.1 516.6L421.5 527.2M447.5 516.9L446.4 525.7M418.5 514.4L418.0 525.0M408.2 512.5L408.7 525.6M406.2 517.8L405.1 525.8M420.4 516.4L419.7 524.3M453.2 515.1L452.1 523.9M400.3 512.8L399.2 528.4M396.8 513.1L396.4 526.7M459.6 515.6L458.3 527.8M422.4 517.2L421.5 523.5M477.8 517.4L477.1 523.6M479.1 514.7L479.4 526.2M422.0 512.4L421.6 524.4" stroke="#226a2a" stroke-width="1.0" opacity="0.1" fill="none"/>
<path d="M401.8 516.6L402.3 524.4M429.9 517.9L430.2 525.8M465.6 518.0L464.6 525.5M445.3 514.4L444.5 526.7M419.4 512.6L418.8 525.4M455.5 517.2L454.6 528.3M455.9 514.4L454.4 525.0M466.2 512.6L466.1 524.4M448.8 514.2L447.8 527.5M395.1 515.0L395.1 523.6M413.8 517.1L413.4 524.1M469.7 512.3L470.0 526.6M477.7 515.8L477.2 526.7M403.0 513.1L402.5 527.0" stroke="#226a2a" stroke-width="0.5" opacity="0.1" fill="none"/>
<path d="M422.9 515.5L423.2 527.6M479.6 515.1L478.5 527.2M440.4 516.0L439.3 525.5M459.0 515.9L459.4 524.3M413.0 516.3L412.7 524.7M457.9 512.7L456.5 524.9M414.4 513.8L413.2 526.1" stroke="#226a2a" stroke-width="0.5" opacity="0.2" fill="none"/>
<path d="M397.3 517.0L397.7 527.0M448.6 516.6L448.6 526.3M423.9 513.4L422.5 525.2M471.4 515.0L471.0 527.8M391.7 517.8L390.8 526.6M422.3 515.1L421.8 528.3M443.3 512.3L443.4 525.2M428.0 515.2L428.0 527.3" stroke="#226a2a" stroke-width="1.0" opacity="0.2" fill="none"/>
<path d="M468.4 504.4h0.9v0.9h-0.9zM473.0 518.6h0.9v0.9h-0.9zM454.6 483.4h0.9v0.9h-0.9zM480.1 500.4h0.9v0.9h-0.9zM403.2 511.1h0.9v0.9h-0.9zM444.1 508.7h0.9v0.9h-0.9zM428.7 491.2h0.9v0.9h-0.9zM420.0 502.2h0.9v0.9h-0.9zM455.2 511.2h0.9v0.9h-0.9zM432.7 471.9h0.9v0.9h-0.9zM422.7 488.3h0.9v0.9h-0.9zM429.7 487.6h0.9v0.9h-0.9z" fill="#2a7a30" opacity="0.5"/>
<path d="M475.5 490.4h0.9v0.9h-0.9zM448.2 514.4h0.9v0.9h-0.9zM413.4 514.2h0.9v0.9h-0.9zM429.6 526.4h0.9v0.9h-0.9zM431.7 525.9h0.9v0.9h-0.9zM476.4 498.6h0.9v0.9h-0.9zM443.3 521.4h0.9v0.9h-0.9z" fill="#2a7a30" opacity="0.8"/>
<path d="M443.9 523.6h0.9v0.9h-0.9zM445.5 524.6h0.9v0.9h-0.9zM435.4 497.9h0.9v0.9h-0.9zM463.0 524.8h0.9v0.9h-0.9zM427.8 519.1h0.9v0.9h-0.9z" fill="#2a7a30" opacity="0.3"/>
<path d="M439.5 487.8h0.9v0.9h-0.9zM465.3 503.5h0.9v0.9h-0.9zM440.5 526.5h0.9v0.9h-0.9zM480.8 480.4h0.9v0.9h-0.9zM480.1 525.1h0.9v0.9h-0.9zM429.9 523.0h0.9v0.9h-0.9zM453.8 483.8h0.9v0.9h-0.9zM416.1 500.5h0.9v0.9h-0.9zM409.4 476.0h0.9v0.9h-0.9zM393.4 509.6h0.9v0.9h-0.9zM421.1 488.7h0.9v0.9h-0.9zM436.3 494.2h0.9v0.9h-0.9z" fill="#2a7a30" opacity="0.7"/>
<path d="M397.4 525.0h0.9v0.9h-0.9zM452.9 471.6h0.9v0.9h-0.9zM427.7 501.1h0.9v0.9h-0.9zM442.6 483.1h0.9v0.9h-0.9zM446.4 524.5h0.9v0.9h-0.9zM409.4 478.5h0.9v0.9h-0.9zM455.7 517.3h0.9v0.9h-0.9zM479.9 497.3h0.9v0.9h-0.9zM469.2 479.0h0.9v0.9h-0.9z" fill="#2a7a30" opacity="0.4"/>
<path d="M425.5 509.7h0.9v0.9h-0.9zM401.6 495.0h0.9v0.9h-0.9zM477.3 470.1h0.9v0.9h-0.9zM425.9 489.5h0.9v0.9h-0.9zM418.6 501.2h0.9v0.9h-0.9z" fill="#2a7a30" opacity="0.6"/>
</g>
<rect x="532.10" y="464.00" width="89.90" height="62.00" fill="#020602" />
<g clip-path="url(#clp4)">
<g filter="url(#gb1)">
<path d="M532.1,466.0 L550.0,466.0 L570.0,465.0 L590.0,464.0 L622.0,466.0 L622.0,474.0 L590.0,470.0 L570.0,472.0 L550.0,474.0 L532.1,474.0 Z" fill="#163e1c" opacity="0.55"/>
<path d="M532.1,472.0 L570.0,470.0 L600.0,470.0 L622.0,472.0 L622.0,496.0 L600.0,498.0 L570.0,500.0 L532.1,500.0 Z" fill="#0b220f" opacity="0.75"/>
<path d="M580.0,472.0 L622.0,470.0 L622.0,494.0 L580.0,494.0 Z" fill="url(#brg)" opacity="1"/>
<path d="M532.1,509.0 L560.0,510.0 L590.0,509.0 L622.0,503.0 L622.0,512.0 L590.0,517.0 L560.0,518.0 L532.1,517.0 Z" fill="#1a4e24" opacity="0.7"/>
</g>
<path d="M539.1 475.3L538.3 502.5M541.1 477.1L539.4 499.8M532.7 479.7L532.1 500.6M597.1 475.2L595.4 499.8M585.4 479.8L583.2 500.1M543.7 474.5L542.0 499.6M578.0 478.5L575.2 503.1M621.1 475.1L619.2 500.8M537.9 478.0L536.6 499.2M617.1 479.7L616.0 499.2M550.7 474.1L549.9 499.7M571.0 476.0L569.1 503.0M594.2 474.2L592.9 499.5M562.1 474.4L560.8 502.7M574.3 479.0L573.7 503.0" stroke="#1e5a24" stroke-width="1.0" opacity="0.2" fill="none"/>
<path d="M565.4 474.0L562.8 500.2M563.8 475.0L563.2 502.5M590.2 474.8L587.2 502.8M548.7 479.9L546.3 499.1M550.6 475.2L548.6 503.6M572.3 474.9L570.4 500.1M542.7 479.0L540.4 500.3" stroke="#1e5a24" stroke-width="0.5" opacity="0.2" fill="none"/>
<path d="M607.9 479.0L605.4 499.2M620.0 474.7L617.0 503.2M575.0 478.9L573.7 501.8M591.6 474.3L589.6 502.5M609.6 477.7L607.9 501.4M542.4 475.9L541.8 499.2M572.6 479.4L571.7 504.0M566.0 476.8L564.3 500.8M561.0 479.8L558.7 499.9M608.6 478.2L607.6 502.0M561.3 474.8L560.1 501.6M539.5 474.2L538.6 502.7M568.0 479.8L565.1 502.9M532.6 478.0L530.1 503.7M545.4 478.6L544.7 503.9M574.2 478.8L572.2 500.1M558.5 476.7L556.9 502.1M595.3 479.3L594.5 499.6M547.7 478.9L546.1 500.5M577.2 477.3L575.2 499.9" stroke="#1e5a24" stroke-width="0.5" opacity="0.1" fill="none"/>
<path d="M598.5 477.4L597.4 501.1M561.7 475.5L561.2 502.0M573.1 474.5L570.5 502.4M596.2 479.9L595.2 502.9M613.7 476.3L610.8 499.9M532.4 479.3L531.1 500.4M599.7 474.4L599.2 501.1M577.7 475.1L576.3 499.1M574.7 477.2L573.0 503.4M555.0 479.5L554.5 502.5M604.0 477.6L601.1 501.2M579.2 476.9L576.2 501.6M567.5 479.2L566.3 499.7M541.5 476.1L540.5 501.0M586.1 478.0L583.2 501.1M538.6 477.7L536.3 499.8M593.4 479.2L590.6 500.5M569.6 478.0L568.1 503.1M621.8 477.7L619.1 503.2M608.8 476.1L607.2 503.3M569.0 474.6L566.6 503.3M549.9 476.8L547.5 502.9M582.6 474.5L581.3 501.4M534.8 475.7L532.1 502.0M540.0 475.0L537.6 503.0M550.1 478.2L548.7 500.3M545.3 477.1L544.7 501.0M608.1 474.5L606.7 503.5M580.3 476.5L578.8 501.0M582.6 478.6L579.6 500.0M570.0 475.3L568.0 502.5M613.5 478.4L612.5 501.2M587.2 475.5L586.1 502.6M551.6 478.4L550.9 500.7M578.4 475.8L576.7 502.1M558.0 477.1L555.1 500.3M604.5 477.1L603.6 503.2M600.9 477.8L600.2 500.1" stroke="#1e5a24" stroke-width="1.0" opacity="0.1" fill="none"/>
<path d="M571.5 513.3L571.4 524.9M608.5 510.6L607.9 525.0M614.4 513.0L613.7 525.2M538.3 513.7L537.0 522.1M570.4 510.7L570.1 525.7M555.8 513.2L554.9 525.6M546.4 510.7L546.8 524.5M567.0 515.2L565.9 522.6M534.1 511.2L533.8 521.9" stroke="#226a2a" stroke-width="0.5" opacity="0.1" fill="none"/>
<path d="M564.3 514.4L563.5 522.8M559.3 510.9L558.6 525.8M615.8 515.6L614.9 523.6M585.3 515.6L585.7 522.2M621.6 514.4L621.4 522.3M567.2 513.7L567.3 525.0M592.9 514.3L592.1 522.9M595.6 511.3L596.0 525.9M579.3 514.9L578.3 523.0M617.1 514.8L616.8 525.0M544.9 513.4L544.2 522.8M609.5 514.4L609.6 524.9M576.6 515.9L576.5 525.0M565.8 515.0L565.9 522.9M611.3 510.5L610.6 525.7M599.4 512.8L599.8 522.1M593.2 510.8L593.0 525.8M558.6 514.3L557.3 522.9M589.7 511.5L589.9 525.0M605.3 511.2L605.6 523.6M563.7 512.7L562.2 525.9M604.6 513.0L604.5 522.6M566.2 511.4L564.8 524.2M609.3 511.3L608.5 522.4M587.7 513.7L587.9 523.0M565.0 511.6L564.3 523.4M604.4 512.7L603.8 523.7M574.4 510.1L573.3 523.5M539.5 512.2L538.0 522.9" stroke="#226a2a" stroke-width="1.0" opacity="0.1" fill="none"/>
<path d="M568.8 510.1L567.5 523.0M594.8 510.6L593.6 524.3M588.0 515.0L587.0 524.0M594.2 514.5L594.6 521.8M615.9 513.7L614.7 522.9M533.2 512.7L532.4 522.8M580.7 515.8L579.7 524.8" stroke="#226a2a" stroke-width="0.5" opacity="0.2" fill="none"/>
<path d="M548.2 510.7L547.4 522.4M608.7 514.0L607.4 524.8M568.5 513.7L567.3 524.8M590.3 515.7L590.3 525.3M567.9 513.3L566.6 523.0" stroke="#226a2a" stroke-width="1.0" opacity="0.2" fill="none"/>
<path d="M560.2 482.2h0.9v0.9h-0.9zM621.7 468.3h0.9v0.9h-0.9zM611.7 495.3h0.9v0.9h-0.9zM621.6 520.4h0.9v0.9h-0.9zM591.7 510.9h0.9v0.9h-0.9zM600.5 485.6h0.9v0.9h-0.9zM555.6 472.1h0.9v0.9h-0.9zM588.1 496.6h0.9v0.9h-0.9zM562.5 469.6h0.9v0.9h-0.9z" fill="#2a7a30" opacity="0.8"/>
<path d="M609.4 522.0h0.9v0.9h-0.9zM548.9 519.9h0.9v0.9h-0.9zM568.7 468.8h0.9v0.9h-0.9zM544.3 523.4h0.9v0.9h-0.9z" fill="#2a7a30" opacity="0.7"/>
<path d="M601.8 473.7h0.9v0.9h-0.9zM612.9 492.8h0.9v0.9h-0.9zM593.2 495.8h0.9v0.9h-0.9zM597.2 512.4h0.9v0.9h-0.9zM607.5 480.4h0.9v0.9h-0.9zM558.3 498.9h0.9v0.9h-0.9zM621.3 474.6h0.9v0.9h-0.9zM597.1 519.0h0.9v0.9h-0.9zM566.6 511.3h0.9v0.9h-0.9zM544.2 513.1h0.9v0.9h-0.9zM532.3 519.7h0.9v0.9h-0.9zM543.2 490.2h0.9v0.9h-0.9zM571.2 509.1h0.9v0.9h-0.9zM577.6 482.1h0.9v0.9h-0.9zM595.9 480.8h0.9v0.9h-0.9z" fill="#2a7a30" opacity="0.4"/>
<path d="M567.6 494.2h0.9v0.9h-0.9zM594.2 517.4h0.9v0.9h-0.9zM601.5 516.1h0.9v0.9h-0.9zM539.5 486.4h0.9v0.9h-0.9zM612.1 493.8h0.9v0.9h-0.9zM610.8 502.0h0.9v0.9h-0.9zM543.2 482.2h0.9v0.9h-0.9zM616.9 485.3h0.9v0.9h-0.9z" fill="#2a7a30" opacity="0.6"/>
<path d="M584.7 505.4h0.9v0.9h-0.9zM566.3 497.4h0.9v0.9h-0.9zM602.0 507.9h0.9v0.9h-0.9zM618.6 503.7h0.9v0.9h-0.9zM569.3 484.3h0.9v0.9h-0.9zM547.3 487.7h0.9v0.9h-0.9zM605.4 504.4h0.9v0.9h-0.9zM563.8 474.6h0.9v0.9h-0.9zM532.9 469.3h0.9v0.9h-0.9z" fill="#2a7a30" opacity="0.5"/>
<path d="M621.6 493.5h0.9v0.9h-0.9zM600.1 513.5h0.9v0.9h-0.9zM574.6 474.9h0.9v0.9h-0.9zM554.6 494.6h0.9v0.9h-0.9zM561.9 499.0h0.9v0.9h-0.9z" fill="#2a7a30" opacity="0.3"/>
</g>
<rect x="501.00" y="373.90" width="14.00" height="61.70" fill="#061006" />
<g clip-path="url(#clp5)">
<rect x="501.00" y="373.90" width="14.00" height="61.70" fill="url(#cg41)" />
<path d="M506.3 373.3L506.7 434.8M508.7 374.2L508.8 431.9" stroke="#1e5a22" stroke-width="1.0" opacity="0.2" fill="none"/>
<path d="M512.8 374.5L512.4 434.8M509.7 375.5L510.1 434.7M503.0 375.9L503.2 433.6" stroke="#1e5a22" stroke-width="1.0" opacity="0.1" fill="none"/>
<path d="M510.2 375.6L510.4 435.3M512.8 373.2L513.0 432.0" stroke="#1e5a22" stroke-width="0.5" opacity="0.2" fill="none"/>
<path d="M502.7 377.4L503.2 432.2" stroke="#1e5a22" stroke-width="0.5" opacity="0.1" fill="none"/>
<ellipse cx="507.8" cy="404.0" rx="5.5" ry="7.5" fill="url(#blob)"/>
<path d="M501.3 382.2h0.9v0.9h-0.9zM511.5 411.5h0.9v0.9h-0.9z" fill="#3a8a40" opacity="0.5"/>
<path d="M511.2 400.2h0.9v0.9h-0.9zM501.6 427.1h0.9v0.9h-0.9z" fill="#3a8a40" opacity="0.7"/>
<path d="M508.6 428.2h0.9v0.9h-0.9zM511.5 380.6h0.9v0.9h-0.9zM502.8 428.8h0.9v0.9h-0.9zM507.1 419.2h0.9v0.9h-0.9zM504.9 387.0h0.9v0.9h-0.9z" fill="#3a8a40" opacity="0.6"/>
<path d="M505.5 382.5h0.9v0.9h-0.9z" fill="#3a8a40" opacity="0.3"/>
<path d="M512.9 433.2h0.9v0.9h-0.9z" fill="#3a8a40" opacity="0.4"/>
<path d="M506.7 401.7h0.9v0.9h-0.9z" fill="#3a8a40" opacity="0.8"/>
</g>
<rect x="643.00" y="373.50" width="13.10" height="62.10" fill="#061006" />
<g clip-path="url(#clp6)">
<rect x="643.00" y="373.50" width="13.10" height="62.10" fill="url(#cg42)" />
<path d="M651.4 371.7L651.1 434.2" stroke="#1e5a22" stroke-width="1.0" opacity="0.2" fill="none"/>
<path d="M654.7 372.0L654.2 433.5M643.3 372.7L643.4 432.4M653.6 371.5L653.8 431.6M646.0 373.2L645.7 435.2" stroke="#1e5a22" stroke-width="0.5" opacity="0.1" fill="none"/>
<path d="M655.5 373.5L655.1 435.1M653.6 375.9L654.0 432.9M653.9 375.2L653.9 431.3" stroke="#1e5a22" stroke-width="1.0" opacity="0.1" fill="none"/>
<ellipse cx="649.0" cy="407.5" rx="5.5" ry="7.5" fill="url(#blob)"/>
<path d="M651.3 396.2h0.9v0.9h-0.9zM652.6 383.6h0.9v0.9h-0.9zM646.0 375.5h0.9v0.9h-0.9zM648.2 430.3h0.9v0.9h-0.9z" fill="#3a8a40" opacity="0.5"/>
<path d="M645.7 390.1h0.9v0.9h-0.9zM646.5 386.6h0.9v0.9h-0.9z" fill="#3a8a40" opacity="0.8"/>
<path d="M651.5 411.3h0.9v0.9h-0.9z" fill="#3a8a40" opacity="0.4"/>
<path d="M656.0 413.2h0.9v0.9h-0.9zM654.5 393.0h0.9v0.9h-0.9zM646.5 388.8h0.9v0.9h-0.9z" fill="#3a8a40" opacity="0.6"/>
<path d="M652.0 425.8h0.9v0.9h-0.9zM646.4 409.8h0.9v0.9h-0.9z" fill="#3a8a40" opacity="0.7"/>
</g>
<rect x="501.10" y="466.20" width="13.70" height="62.30" fill="#061006" />
<g clip-path="url(#clp7)">
<rect x="501.10" y="466.20" width="13.70" height="62.30" fill="url(#cg43)" />
<path d="M501.6 468.4L501.6 527.8M507.3 467.2L507.2 528.4M508.6 468.7L508.3 526.3M509.1 469.8L508.7 525.1" stroke="#1e5a22" stroke-width="1.0" opacity="0.2" fill="none"/>
<path d="M506.2 464.8L506.2 525.9" stroke="#1e5a22" stroke-width="1.0" opacity="0.1" fill="none"/>
<path d="M508.0 467.7L507.6 526.6M512.6 466.0L512.6 524.1M513.4 466.2L513.6 525.9" stroke="#1e5a22" stroke-width="0.5" opacity="0.2" fill="none"/>
<ellipse cx="507.0" cy="505.0" rx="5.5" ry="8.0" fill="url(#blobd)"/>
<path d="M511.8 469.3h0.9v0.9h-0.9zM506.1 477.8h0.9v0.9h-0.9zM512.2 473.0h0.9v0.9h-0.9z" fill="#3a8a40" opacity="0.6"/>
<path d="M514.4 500.6h0.9v0.9h-0.9zM509.3 471.4h0.9v0.9h-0.9zM502.3 507.6h0.9v0.9h-0.9zM513.5 527.0h0.9v0.9h-0.9z" fill="#3a8a40" opacity="0.4"/>
<path d="M507.9 514.7h0.9v0.9h-0.9zM510.9 468.8h0.9v0.9h-0.9zM511.2 527.8h0.9v0.9h-0.9z" fill="#3a8a40" opacity="0.8"/>
<path d="M507.2 468.6h0.9v0.9h-0.9z" fill="#3a8a40" opacity="0.3"/>
<path d="M513.2 487.2h0.9v0.9h-0.9z" fill="#3a8a40" opacity="0.7"/>
</g>
<rect x="643.20" y="464.00" width="13.40" height="62.00" fill="#061006" />
<g clip-path="url(#clp8)">
<rect x="643.20" y="464.00" width="13.40" height="62.00" fill="url(#cg44)" />
<path d="M648.7 465.3L648.4 521.7M654.3 465.8L654.4 523.1" stroke="#1e5a22" stroke-width="0.5" opacity="0.1" fill="none"/>
<path d="M644.8 462.1L644.8 525.2M651.6 467.8L651.5 525.8M645.7 463.6L645.3 524.8" stroke="#1e5a22" stroke-width="1.0" opacity="0.2" fill="none"/>
<path d="M648.3 464.4L648.1 522.5" stroke="#1e5a22" stroke-width="0.5" opacity="0.2" fill="none"/>
<path d="M651.5 462.7L651.1 525.6M649.0 462.2L649.3 522.4" stroke="#1e5a22" stroke-width="1.0" opacity="0.1" fill="none"/>
<ellipse cx="649.5" cy="500.0" rx="6.0" ry="8.5" fill="url(#blobd)"/>
<circle cx="654.3" cy="523.5" r="1.3" fill="#3aaa40"/>
<path d="M653.8 506.4h0.9v0.9h-0.9zM651.3 467.7h0.9v0.9h-0.9z" fill="#3a8a40" opacity="0.5"/>
<path d="M654.2 516.0h0.9v0.9h-0.9zM645.3 477.8h0.9v0.9h-0.9z" fill="#3a8a40" opacity="0.3"/>
<path d="M653.3 504.1h0.9v0.9h-0.9zM651.5 482.2h0.9v0.9h-0.9z" fill="#3a8a40" opacity="0.6"/>
<path d="M656.5 486.1h0.9v0.9h-0.9zM643.8 502.6h0.9v0.9h-0.9zM646.8 464.4h0.9v0.9h-0.9zM652.4 502.8h0.9v0.9h-0.9z" fill="#3a8a40" opacity="0.4"/>
<path d="M644.7 485.1h0.9v0.9h-0.9zM645.6 503.8h0.9v0.9h-0.9z" fill="#3a8a40" opacity="0.7"/>
</g>
<rect x="434.80" y="410.80" width="5.50" height="22.40" fill="none" stroke="#f4f4f4" stroke-width="1.0" />
<rect x="574.70" y="408.20" width="4.40" height="22.10" fill="none" stroke="#f4f4f4" stroke-width="1.0" />
<rect x="452.80" y="503.90" width="4.80" height="22.70" fill="none" stroke="#f4f4f4" stroke-width="1.0" />
<rect x="596.90" y="499.80" width="4.20" height="21.50" fill="none" stroke="#f4f4f4" stroke-width="1.0" />
<rect x="482.30" y="376.20" width="1.90" height="32.20" fill="#2a2a2a" />
<rect x="482.30" y="409.90" width="1.90" height="23.40" fill="#2a2a2a" />
<rect x="622.90" y="376.20" width="2.10" height="32.20" fill="#2a2a2a" />
<rect x="622.90" y="409.70" width="2.10" height="23.60" fill="#2a2a2a" />
<rect x="481.70" y="481.30" width="2.10" height="20.50" fill="#2a2a2a" />
<rect x="481.70" y="503.20" width="2.10" height="22.10" fill="#2a2a2a" />
<rect x="623.40" y="466.50" width="2.10" height="32.50" fill="#2a2a2a" />
<rect x="623.40" y="501.10" width="2.10" height="22.80" fill="#2a2a2a" />
<rect x="516.10" y="381.40" width="1.80" height="13.60" fill="#2a2a2a" />
<rect x="516.10" y="397.20" width="1.80" height="15.10" fill="#2a2a2a" />
<rect x="516.10" y="414.30" width="1.80" height="20.10" fill="#2a2a2a" />
<rect x="657.10" y="379.70" width="2.30" height="20.50" fill="#2a2a2a" />
<rect x="657.10" y="402.00" width="2.30" height="13.60" fill="#2a2a2a" />
<rect x="657.10" y="417.30" width="2.30" height="16.30" fill="#2a2a2a" />
<rect x="516.30" y="488.60" width="1.80" height="7.40" fill="#2a2a2a" />
<rect x="516.30" y="497.30" width="1.80" height="15.50" fill="#2a2a2a" />
<rect x="516.30" y="514.20" width="1.80" height="12.50" fill="#2a2a2a" />
<rect x="657.60" y="484.50" width="1.80" height="10.10" fill="#2a2a2a" />
<rect x="657.60" y="496.90" width="1.80" height="12.10" fill="#2a2a2a" />
<rect x="657.60" y="511.20" width="1.80" height="12.70" fill="#2a2a2a" />
<text x="485.40" y="396.30" font-size="8.0" fill="#444" >PEL</text>
<text x="485.40" y="423.20" font-size="8.0" fill="#444" >PRL</text>
<text x="626.30" y="396.30" font-size="8.0" fill="#444" >PEL</text>
<text x="626.30" y="423.20" font-size="8.0" fill="#444" >PRL</text>
<text x="484.80" y="493.70" font-size="8.0" fill="#444" >PEL</text>
<text x="484.80" y="516.30" font-size="8.0" fill="#444" >PRL</text>
<text x="626.30" y="487.20" font-size="8.0" fill="#444" >PEL</text>
<text x="626.30" y="514.20" font-size="8.0" fill="#444" >PRL</text>
<text x="519.00" y="392.00" font-size="8.0" fill="#444" >OS</text>
<text x="519.60" y="408.40" font-size="8.0" fill="#444" >IS</text>
<text x="519.00" y="426.10" font-size="8.0" fill="#444" >SY</text>
<text x="660.30" y="392.90" font-size="8.0" fill="#444" >OS</text>
<text x="660.90" y="411.60" font-size="8.0" fill="#444" >IS</text>
<text x="660.30" y="427.80" font-size="8.0" fill="#444" >SY</text>
<text x="518.90" y="494.80" font-size="8.0" fill="#444" >OS</text>
<text x="519.50" y="508.00" font-size="8.0" fill="#444" >IS</text>
<text x="518.90" y="523.90" font-size="8.0" fill="#444" >SY</text>
<text x="660.30" y="491.80" font-size="8.0" fill="#444" >OS</text>
<text x="660.90" y="505.90" font-size="8.0" fill="#444" >IS</text>
<text x="660.30" y="519.80" font-size="8.0" fill="#444" >SY</text>
<line x1="420.70" y1="550.80" x2="420.70" y2="633.20" stroke="#111" stroke-width="2.0" />
<line x1="419.70" y1="632.20" x2="619.70" y2="632.20" stroke="#111" stroke-width="2.0" />
<line x1="416.40" y1="632.20" x2="420.70" y2="632.20" stroke="#111" stroke-width="1.8" />
<text x="415.60" y="635.80" font-size="10" fill="#333" text-anchor="end" textLength="6.45" lengthAdjust="spacingAndGlyphs" >0</text>
<line x1="416.40" y1="616.06" x2="420.70" y2="616.06" stroke="#111" stroke-width="1.8" />
<text x="415.60" y="619.66" font-size="10" fill="#333" text-anchor="end" textLength="12.90" lengthAdjust="spacingAndGlyphs" >50</text>
<line x1="416.40" y1="599.92" x2="420.70" y2="599.92" stroke="#111" stroke-width="1.8" />
<text x="415.60" y="603.52" font-size="10" fill="#333" text-anchor="end" textLength="19.35" lengthAdjust="spacingAndGlyphs" >100</text>
<line x1="416.40" y1="583.78" x2="420.70" y2="583.78" stroke="#111" stroke-width="1.8" />
<text x="415.60" y="587.38" font-size="10" fill="#333" text-anchor="end" textLength="19.35" lengthAdjust="spacingAndGlyphs" >150</text>
<line x1="416.40" y1="567.64" x2="420.70" y2="567.64" stroke="#111" stroke-width="1.8" />
<text x="415.60" y="571.24" font-size="10" fill="#333" text-anchor="end" textLength="19.35" lengthAdjust="spacingAndGlyphs" >200</text>
<line x1="416.40" y1="551.50" x2="420.70" y2="551.50" stroke="#111" stroke-width="1.8" />
<text x="415.60" y="555.10" font-size="10" fill="#333" text-anchor="end" textLength="19.35" lengthAdjust="spacingAndGlyphs" >250</text>
<line x1="467.20" y1="632.20" x2="467.20" y2="636.40" stroke="#111" stroke-width="1.6" />
<line x1="572.60" y1="632.20" x2="572.60" y2="636.40" stroke="#111" stroke-width="1.6" />
<text x="466.60" y="646.60" font-size="10" fill="#333" text-anchor="middle" textLength="90.30" lengthAdjust="spacingAndGlyphs" >blue light irradiation</text>
<text x="572.30" y="646.60" font-size="10" fill="#333" text-anchor="middle" textLength="94.70" lengthAdjust="spacingAndGlyphs" >violet light irradiation</text>
<text x="391.3" y="594.6" font-size="9.6" fill="#333" text-anchor="middle" transform="rotate(-90 391.3 594.6)" textLength="70.2" lengthAdjust="spacingAndGlyphs">arbitrary units</text>
<rect x="435.40" y="564.60" width="25.00" height="26.70" rx="1.6" fill="#cdced1" stroke="#1c1a1a" stroke-width="2.8"/>
<line x1="435.40" y1="576.10" x2="460.40" y2="576.10" stroke="#1c1a1a" stroke-width="2.8" />
<rect x="540.70" y="567.30" width="24.90" height="24.00" rx="1.6" fill="#cdced1" stroke="#1c1a1a" stroke-width="2.8"/>
<line x1="540.70" y1="581.90" x2="565.60" y2="581.90" stroke="#1c1a1a" stroke-width="2.8" />
<rect x="474.9" y="614.3" width="24.6" height="9.0" rx="1.4" fill="#1e1c1c" stroke="#1c1a1a" stroke-width="2.8"/>
<rect x="476.10" y="618.90" width="22.00" height="3.20" fill="#2e5cb6" />
<rect x="476.10" y="615.00" width="22.00" height="1.20" fill="#28304e" />
<rect x="580.5" y="614.3" width="24.4" height="10.8" rx="1.4" fill="#1e1c1c" stroke="#1c1a1a" stroke-width="2.8"/>
<rect x="581.90" y="615.80" width="22.00" height="3.10" fill="#6a2c9c" />
<rect x="581.90" y="621.90" width="22.00" height="2.00" fill="#6a2c9c" />
<path d="M447.9,564 V554.4 H487.1 V613.2" stroke="#2a2a2a" stroke-width="1.2" fill="none" />
<path d="M553.3,566 V555.6 H592.6 V613.1" stroke="#2a2a2a" stroke-width="1.2" fill="none" />
<text x="469.30" y="552.80" font-size="11" fill="#333" text-anchor="middle" textLength="23.70" lengthAdjust="spacingAndGlyphs" >****</text>
<text x="573.80" y="553.60" font-size="11" fill="#333" text-anchor="middle" textLength="23.30" lengthAdjust="spacingAndGlyphs" >****</text>
<text x="601.90" y="548.50" font-size="10.5" fill="#333" textLength="25.40" lengthAdjust="spacingAndGlyphs" >n=11</text>
<rect x="638.3" y="556.6" width="9.2" height="3.8" fill="#d2d3d5" stroke="#1a1a1a" stroke-width="1.3"/>
<rect x="638.3" y="569.4" width="9.2" height="3.8" fill="#2c5cb8" stroke="#1a1a1a" stroke-width="1.3"/>
<rect x="638.3" y="580.8" width="9.2" height="3.8" fill="#6a2a9c" stroke="#1a1a1a" stroke-width="1.3"/>
<text x="653.70" y="561.30" font-size="11" fill="#333" textLength="18.00" lengthAdjust="spacingAndGlyphs" >WT</text>
<text x="653.80" y="574.00" font-size="10.8" fill="#333" font-style="italic" textLength="25.10" lengthAdjust="spacingAndGlyphs" >sws2</text>
<text x="679.20" y="570.70" font-size="5.5" fill="#333" font-style="italic" textLength="6.30" lengthAdjust="spacingAndGlyphs" >-/-</text>
<text x="653.80" y="585.90" font-size="10.8" fill="#333" font-style="italic" textLength="23.60" lengthAdjust="spacingAndGlyphs" >sws1</text>
<text x="678.90" y="581.70" font-size="5.5" fill="#333" font-style="italic" textLength="6.30" lengthAdjust="spacingAndGlyphs" >-/-</text>
</svg></body></html>
